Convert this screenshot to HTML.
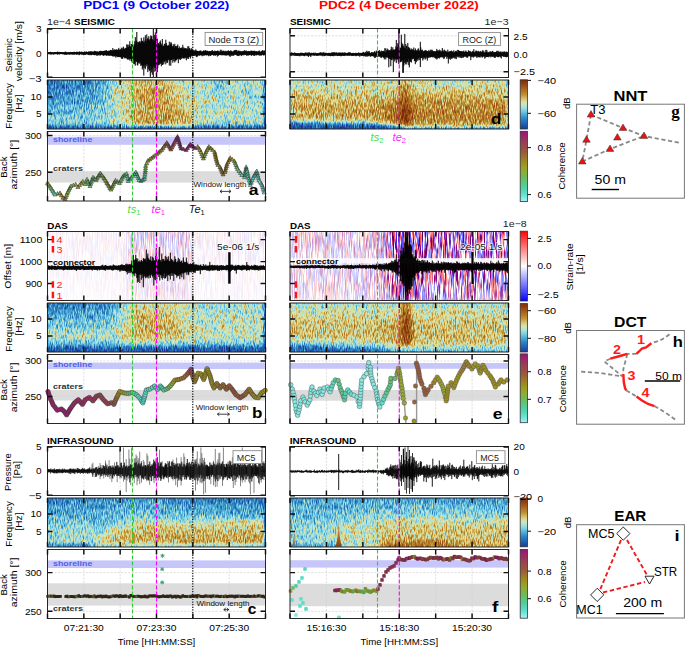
<!DOCTYPE html><html><head><meta charset="utf-8"><style>html,body{margin:0;padding:0;background:#fff;width:685px;height:647px;overflow:hidden}svg{display:block}text{font-family:"Liberation Sans",sans-serif}</style></head><body><svg width="685" height="647" viewBox="0 0 685 647" font-family='"Liberation Sans", sans-serif'><defs><linearGradient id="groma" x1="0" y1="0" x2="0" y2="1"><stop offset="0" stop-color="#7f2a08"/><stop offset="0.05" stop-color="#8a390f"/><stop offset="0.1" stop-color="#954915"/><stop offset="0.15" stop-color="#a0581c"/><stop offset="0.2" stop-color="#ab6b23"/><stop offset="0.25" stop-color="#b57d29"/><stop offset="0.3" stop-color="#c09030"/><stop offset="0.35" stop-color="#ccac54"/><stop offset="0.4" stop-color="#d8c878"/><stop offset="0.45" stop-color="#d8dfa0"/><stop offset="0.5" stop-color="#c9e5bf"/><stop offset="0.55" stop-color="#b0e0d8"/><stop offset="0.6" stop-color="#8ed5de"/><stop offset="0.65" stop-color="#6ec4dd"/><stop offset="0.7" stop-color="#50b0d8"/><stop offset="0.75" stop-color="#4098cc"/><stop offset="0.8" stop-color="#3080c0"/><stop offset="0.85" stop-color="#2870b8"/><stop offset="0.9" stop-color="#2060b0"/><stop offset="0.95" stop-color="#1d4da4"/><stop offset="1" stop-color="#1a3a98"/></linearGradient><linearGradient id="ghaw" x1="0" y1="0" x2="0" y2="1"><stop offset="0" stop-color="#9a1478"/><stop offset="0.07" stop-color="#9a2669"/><stop offset="0.14" stop-color="#9a385a"/><stop offset="0.21" stop-color="#9a484b"/><stop offset="0.29" stop-color="#9a573d"/><stop offset="0.36" stop-color="#9c6f2f"/><stop offset="0.43" stop-color="#9f8820"/><stop offset="0.5" stop-color="#9c9c26"/><stop offset="0.57" stop-color="#8fab37"/><stop offset="0.64" stop-color="#73b74e"/><stop offset="0.71" stop-color="#62c276"/><stop offset="0.79" stop-color="#53cea0"/><stop offset="0.86" stop-color="#59d9bf"/><stop offset="0.93" stop-color="#75e6db"/><stop offset="1" stop-color="#a8f4f8"/></linearGradient><linearGradient id="gbwr" x1="0" y1="0" x2="0" y2="1"><stop offset="0" stop-color="#ff0000"/><stop offset="0.12" stop-color="#ff4040"/><stop offset="0.25" stop-color="#ff8080"/><stop offset="0.38" stop-color="#ffbfbf"/><stop offset="0.5" stop-color="#ffffff"/><stop offset="0.62" stop-color="#bfbfff"/><stop offset="0.75" stop-color="#8080ff"/><stop offset="0.88" stop-color="#4040ff"/><stop offset="1" stop-color="#0000ff"/></linearGradient><filter id="fspec" x="0" y="0" width="1" height="1" color-interpolation-filters="sRGB"><feGaussianBlur in="SourceGraphic" stdDeviation="1.3 1.0" result="b"/><feTurbulence type="fractalNoise" baseFrequency="1.1 0.2" numOctaves="2" seed="7" result="n"/><feColorMatrix in="n" type="matrix" values="1 0 0 0 0 1 0 0 0 0 1 0 0 0 0 0 0 0 0 1" result="ng"/><feComposite in="b" in2="ng" operator="arithmetic" k1="0" k2="1" k3="0.7" k4="-0.35" result="t"/><feComponentTransfer in="t"><feFuncR type="table" tableValues="0.102 0.109 0.117 0.124 0.141 0.161 0.18 0.212 0.251 0.29 0.343 0.417 0.49 0.573 0.657 0.727 0.788 0.847 0.847 0.847 0.824 0.794 0.765 0.737 0.711 0.685 0.659 0.633 0.606 0.579 0.552 0.525 0.498"/><feFuncG type="table" tableValues="0.227 0.274 0.321 0.367 0.408 0.447 0.486 0.537 0.596 0.655 0.71 0.759 0.808 0.839 0.867 0.886 0.898 0.908 0.852 0.796 0.729 0.661 0.592 0.537 0.492 0.446 0.4 0.354 0.315 0.277 0.24 0.202 0.165"/><feFuncB type="table" tableValues="0.596 0.625 0.655 0.684 0.706 0.725 0.745 0.771 0.8 0.829 0.852 0.864 0.876 0.867 0.853 0.81 0.749 0.686 0.588 0.49 0.4 0.312 0.224 0.178 0.162 0.146 0.129 0.113 0.097 0.08 0.064 0.048 0.031"/></feComponentTransfer></filter><clipPath id="cspec"><rect x="47.5" y="80" width="218" height="49"/><rect x="47.5" y="303" width="218" height="49"/><rect x="47.5" y="498" width="218" height="49"/><rect x="290" y="80" width="218.5" height="49"/><rect x="290" y="303" width="218.5" height="49"/><rect x="290" y="498" width="218.5" height="49"/></clipPath><linearGradient id="gfl" x1="0" y1="0" x2="0" y2="1"><stop offset="0" stop-color="#d8c070" stop-opacity="0"/><stop offset=".25" stop-color="#c89a48"/><stop offset=".7" stop-color="#a8641e"/><stop offset="1" stop-color="#8a4010"/></linearGradient><filter id="fdas" x="0" y="0" width="1" height="1" color-interpolation-filters="sRGB"><feTurbulence type="fractalNoise" baseFrequency="1.1 0.06" numOctaves="2" seed="11" result="n"/><feColorMatrix in="n" type="matrix" values="6 0 0 0 -2.6 0 6 0 0 -2.6 0 0 0 0 0 0 0 0 0 1" result="rb"/><feComposite in="SourceGraphic" in2="rb" operator="arithmetic" k1="1" k2="0" k3="0" k4="0" result="p"/><feColorMatrix in="p" type="matrix" values="0 -1 0 0 1 -1 -1 0 0 1 -1 0 0 0 1 0 0 0 0 1"/></filter><clipPath id="cdas"><rect x="47.5" y="231.5" width="218" height="69"/><rect x="290" y="231.5" width="218.5" height="69"/></clipPath></defs><rect width="685" height="647" fill="#fff"/><text x="83.2" y="8.9" font-size="11.64" font-weight="bold" fill="#0000ff" textLength="146.06" lengthAdjust="spacingAndGlyphs">PDC1 (9 October 2022)</text><text x="319" y="8.9" font-size="11.64" font-weight="bold" fill="#ff0000" textLength="159.77" lengthAdjust="spacingAndGlyphs">PDC2 (4 December 2022)</text><text x="47" y="24.7" font-size="9.06" fill="#222" textLength="23.99" lengthAdjust="spacingAndGlyphs">1e−4</text><text x="74" y="24.7" font-size="9.17" font-weight="bold" textLength="40.91" lengthAdjust="spacingAndGlyphs">SEISMIC</text><text x="289.9" y="24.9" font-size="9.17" font-weight="bold" textLength="40.91" lengthAdjust="spacingAndGlyphs">SEISMIC</text><text x="508.6" y="25" font-size="9.06" text-anchor="end" fill="#222" textLength="23.99" lengthAdjust="spacingAndGlyphs">1e−3</text><text x="47.2" y="229.3" font-size="9.17" font-weight="bold" textLength="20.69" lengthAdjust="spacingAndGlyphs">DAS</text><text x="289.9" y="229.3" font-size="9.17" font-weight="bold" textLength="20.69" lengthAdjust="spacingAndGlyphs">DAS</text><text x="47" y="443.9" font-size="9.17" font-weight="bold" textLength="66.62" lengthAdjust="spacingAndGlyphs">INFRASOUND</text><text x="289.7" y="443.9" font-size="9.17" font-weight="bold" textLength="66.62" lengthAdjust="spacingAndGlyphs">INFRASOUND</text><g clip-path="url(#cspec)"><g filter="url(#fspec)"><g stroke-width="3.45" fill="none"><path stroke="#282828" d="M44.5 78.5h3.5"/><path stroke="#2a2a2a" d="M47.5 78.5h6.5m-9.5 3h3.5"/><path stroke="#2c2c2c" d="M53.5 78.5h6.5m-12.5 3h6.5"/><path stroke="#2e2e2e" d="M59.5 78.5h6.5m-12.5 3h6.5m-15.5 3h6.5m-6.5 42h21.4"/><path stroke="#303030" d="M65.5 78.5h6.5m-12.5 3h6.5m-15.5 3h6.5m-12.5 3h3.5m17.5 39h54.5m77.5 0h66.5"/><path stroke="#323232" d="M71.5 78.5h3.5m-9.5 3h6.5m-15.5 3h6.5m-15.5 3h6.5m65.5 39h3.5"/><path stroke="#343434" d="M74.5 78.5h6.5m-9.5 3h6.5m-15.5 3h6.5m-15.5 3h6.5m-15.5 3h6.5"/><path stroke="#363636" d="M80.5 78.5h6.5m-9.5 3h6.5m-15.5 3h6.5m-15.5 3h6.5m-15.5 3h6.5m65.5 36h3.5m68.5 0h3.5"/><path stroke="#383838" d="M86.5 78.5h6.5m-9.5 3h6.5m-15.5 3h6.5m-15.5 3h6.5m-15.5 3h6.5m-18.5 3h9.4"/><path stroke="#3c3c3c" d="M92.5 78.5h3.5m-9.5 6h6.5m-12.5 3h6.5m-15.5 3h6.5m-18.5 3h9.4m-18.4 3h6.5m68.5 30h3.5"/><path stroke="#3e3e3e" d="M95.5 78.5h3.5m-6.5 3h3.5m-9.5 6h3.5m-12.5 3h6.5m-15.5 3h6.5m-18.5 3h9.4m-21.4 3h9.4"/><path stroke="#424242" d="M98.5 78.5h3.5m-3.5 3h3.5m-6.5 3h3.5m-6.5 3h3.5m-6.5 3h3.5m-12.5 3h6.5m-15.5 3h6.5m-15.5 3h6.5m59.5 27h3.5"/><path stroke="#484848" d="M101.5 78.5h3.5m-6.5 9h3.5m-6.5 3h3.5m-6.5 3h3.5m-6.5 3h3.5m-9.5 3h6.5m-27.5 3h6.5"/><path stroke="#505050" d="M104.5 78.5h3.5m-6.5 12h3.5m-6.5 6h3.5m-6.5 3h3.5m-27.5 6h9.4m-36.4 3h9.4"/><path stroke="#5e5e5e" d="M107.5 78.5h3.5m-3.5 3h3.5m107.5 3h3.5m-3.5 6h3.5m-120.5 15h3.5m-9.5 3h3.5m-18.5 6h9.4m-24.4 3h12.4m-24.4 3h12.4m-6.4 3h12.4"/><path stroke="#6a6a6a" d="M110.5 78.5h3.5m101.5 0h3.5m29.5 6h3.5m-30.5 9h3.5m20.5 3h6.5m-144.5 9h3.5m-6.5 9h3.5m-6.5 3h3.5m-6.5 3h9.4m8.6 3h3.5"/><path stroke="#767676" d="M113.5 78.5h3.5m110.5 0h3.5m8.5 0h3.5m11.5 0h3.5m-144.5 3h3.5m74.5 0h3.5m11.5 0h3.5m29.5 0h3.5m11.5 0h3.5m-144.5 3h3.5m89.5 0h3.5m44.5 0h3.5m-144.5 3h3.5m71.5 0h3.5m14.5 0h3.5m20.5 0h3.5m-120.5 3h3.5m89.5 0h3.5m-3.5 3h3.5m44.5 0h3.5m-48.5 3h3.5m14.5 0h3.5m23.5 0h3.5m-45.5 3h3.5m8.5 0h3.5m11.5 0h3.5m11.5 0h3.5m-39.5 3h3.5m20.5 3h3.5m5.5 0h3.5m-9.5 3h6.5m-141.5 3h3.5m-3.5 3h3.5m-3.5 6h3.5m107.5 0h42.5m-69.5 3h3.5"/><path stroke="#808080" d="M116.5 78.5h3.5m56.5 0h3.5m-63.5 3h3.5m59.5 0h3.5m-66.5 3h3.5m-3.5 3h3.5m-3.5 3h3.5m65.5 0h3.5m-72.5 3h3.5m-3.5 3h3.5m71.5 0h6.5m-81.5 3h3.5m74.5 0h3.5m-81.5 3h3.5m74.5 0h3.5m-81.5 3h3.5m74.5 0h3.5m-81.5 3h3.5m-3.5 3h3.5m-3.5 3h3.5m-3.5 3h3.5"/><path stroke="#828282" d="M119.5 78.5h6.5m47.5 0h3.5m-57.5 3h3.5m53.5 0h3.5m-.5 3h3.5m-.5 3h3.5m2.5 9h3.5m-.5 3h3.5m-.5 9h3.5m-3.5 3h3.5m-3.5 3h3.5m-3.5 3h3.5m-78.5 3h3.5m71.5 0h3.5m-72.5 3h3.5"/><path stroke="#848484" d="M125.5 78.5h3.5m41.5 0h3.5m-51.5 3h3.5m47.5 0h3.5m-57.5 3h3.5m62.5 9h3.5m2.5 9h3.5"/><path stroke="#868686" d="M128.5 78.5h3.5m-6.5 3h3.5m41.5 0h3.5m2.5 3h3.5m-60.5 3h3.5m56.5 0h3.5m-63.5 3h3.5m59.5 0h3.5m-66.5 3h3.5m-3.5 3h3.5m-3.5 3h3.5m65.5 0h3.5m-72.5 3h3.5m-3.5 3h3.5m-3.5 3h3.5m-3.5 3h3.5m-3.5 3h3.5m-3.5 3h3.5"/><path stroke="#8c8c8c" d="M131.5 78.5h3.5m32.5 3h3.5m-.5 3h3.5m-51.5 6h3.5m-3.5 3h3.5m53.5 0h3.5m-60.5 3h3.5m56.5 0h3.5m-63.5 3h3.5m-3.5 3h3.5m-3.5 3h3.5m-3.5 3h3.5m-3.5 3h3.5m65.5 0h3.5m-72.5 3h3.5m-3.5 3h3.5m2.5 6h3.5"/><path stroke="#929292" d="M134.5 78.5h3.5m26.5 3h3.5m-.5 3h3.5m-.5 3h3.5m-48.5 3h3.5m44.5 0h3.5m-51.5 3h3.5m47.5 0h3.5m-54.5 3h3.5m-3.5 3h3.5m-3.5 3h3.5m-3.5 3h3.5m56.5 0h3.5m-63.5 3h3.5m59.5 0h3.5m-66.5 3h3.5m-3.5 3h3.5m-3.5 3h3.5m62.5 3h3.5"/><path stroke="#949494" d="M137.5 78.5h3.5m20.5 0h3.5m-30.5 3h3.5m-9.5 6h3.5m44.5 9h3.5m-.5 3h3.5m-.5 3h3.5"/><path stroke="#969696" d="M140.5 78.5h3.5m-6.5 3h3.5m-9.5 3h3.5m38.5 9h3.5m2.5 9h3.5m-.5 3h3.5m-.5 3h3.5m-.5 3h3.5m-63.5 9h3.5"/><path stroke="#989898" d="M143.5 78.5h3.5m-6.5 3h3.5m17.5 0h3.5m-.5 3h3.5m-.5 3h3.5m-42.5 3h3.5m38.5 0h3.5m-45.5 3h3.5m-3.5 3h3.5m41.5 0h3.5m-48.5 3h3.5m44.5 0h3.5m-51.5 3h3.5m-3.5 3h3.5m-3.5 3h3.5m-3.5 3h3.5m-3.5 3h3.5m-3.5 3h3.5m-.5 6h3.5"/><path stroke="#9a9a9a" d="M146.5 78.5h3.5m2.5 0h9.4m-18.4 3h3.5m-12.5 3h3.5m-6.5 3h3.5m35.5 6h3.5m2.5 9h3.5m-.5 3h3.5m-.5 3h3.5m-.5 3h3.5m-.5 3h3.5"/><path stroke="#9c9c9c" d="M149.5 78.5h3.5m-6.5 3h3.5m8.5 0h3.5m-24.5 3h3.5m29.5 12h3.5m-.5 3h3.5"/><path stroke="#8e8e8e" d="M164.5 78.5h3.5m-39.5 6h3.5m-6.5 3h3.5m44.5 0h3.5m-.5 3h3.5m5.5 12h3.5m-.5 3h3.5m-.5 9h3.5"/><path stroke="#8a8a8a" d="M167.5 78.5h3.5m-45.5 6h3.5m44.5 0h3.5m-54.5 3h3.5m50.5 0h3.5m-.5 3h3.5m2.5 9h3.5m-.5 3h3.5m-.5 6h3.5m-72.5 12h3.5m65.5 3h3.5"/><path stroke="#7e7e7e" d="M179.5 78.5h3.5m-.5 6h3.5m8.5 3h3.5m-3.5 3h3.5m-9.5 3h9.4"/><path stroke="#787878" d="M182.5 78.5h3.5m20.5 0h3.5m20.5 0h9.4m17.6 0h6.5m-33.5 3h9.4m17.6 0h6.5m-78.5 3h3.5m2.5 0h3.5m8.5 0h3.5m23.5 0h9.4m17.6 0h6.5m-60.5 3h3.5m26.5 0h6.5m17.5 0h6.5m-60.5 3h3.5m23.5 0h9.4m17.6 0h6.5m-150.5 3h3.5m113.5 0h9.4m17.6 0h6.5m-150.5 3h3.5m89.5 0h3.5m20.5 0h9.4m17.6 0h6.5m-150.5 3h3.5m92.5 0h3.5m14.5 0h12.4m17.6 0h6.5m-150.5 3h3.5m92.5 0h9.4m2.6 0h21.4m11.6 0h9.4m-48.4 3h12.4m5.6 0h9.4m11.6 0h9.4m-27.4 3h9.4m5.6 0h12.4m-27.4 3h27.4m-27.4 3h27.4m-153.4 3h3.5m119.5 0h30.4m-63.4 3h21.4m-99.4 3h3.5"/><path stroke="#727272" d="M185.5 78.5h3.5m35.5 0h3.5m14.5 0h3.5m5.5 0h3.5m-45.5 3h3.5m38.5 0h3.5m-66.5 3h3.5m35.5 3h3.5m-21.5 6h3.5m-.5 3h3.5m26.5 3h3.5m5.5 0h3.5m-144.5 3h3.5m131.5 0h6.5m-144.5 15h3.5"/><path stroke="#6c6c6c" d="M188.5 78.5h3.5m29.5 0h3.5m-114.5 3h3.5m98.5 0h3.5m29.5 0h6.5m-141.5 3h3.5m110.5 0h3.5m-117.5 3h3.5m110.5 0h3.5m14.5 0h3.5m-21.5 3h3.5m14.5 0h3.5m-33.5 3h3.5m26.5 0h3.5m-141.5 24h3.5"/><path stroke="#747474" d="M191.5 78.5h3.5m14.5 0h3.5m-27.5 3h3.5m38.5 0h3.5m-3.5 3h3.5m8.5 0h3.5m-3.5 3h3.5m11.5 0h3.5m-30.5 3h3.5m8.5 0h3.5m11.5 0h3.5m-30.5 3h3.5m8.5 0h3.5m-18.5 3h3.5m11.5 0h3.5m-27.5 3h9.4m17.6 3h3.5m5.5 0h3.5m-144.5 3h3.5m131.5 0h6.5m-141.5 3h3.5"/><path stroke="#7c7c7c" d="M194.5 78.5h6.5m-6.5 3h6.5m-6.5 3h6.5m-15.5 3h3.5m8.5 0h3.5m-9.5 3h3.5m2.5 0h3.5m-3.5 3h3.5m-3.5 3h3.5m-3.5 3h3.5m-3.5 3h3.5m-3.5 3h3.5m-3.5 3h3.5m-87.5 3h3.5m80.5 0h3.5m-87.5 3h3.5m80.5 0h3.5m-87.5 3h3.5m80.5 0h3.5m-84.5 3h3.5"/><path stroke="#7a7a7a" d="M200.5 78.5h6.5m-24.5 3h3.5m14.5 0h6.5m-6.5 3h3.5m-12.5 3h3.5m5.5 0h3.5m-15.5 3h3.5m8.5 0h3.5m-3.5 3h6.5m-6.5 3h6.5m-6.5 3h9.4m-9.4 3h9.4m-96.4 3h3.5m83.5 0h15.4m11.6 0h6.5m-120.5 3h3.5m83.5 0h36.5m-36.5 3h36.5m-36.5 3h36.5m-36.5 3h33.5m-120.5 3h3.5m80.5 0h3.5"/><path stroke="#6e6e6e" d="M212.5 78.5h3.5m29.5 0h6.5m-63.5 3h3.5m50.5 3h3.5m-36.5 3h3.5m38.5 0h3.5m-144.5 3h3.5m137.5 0h3.5m-144.5 3h3.5m101.5 3h6.5m20.5 0h3.5m-.5 3h6.5m-144.5 9h3.5m-3.5 3h3.5m8.5 12h3.5"/><path stroke="#686868" d="M218.5 78.5h3.5m-.5 3h3.5m20.5 3h3.5m-36.5 6h3.5m32.5 3h3.5m-144.5 9h3.5m-6.5 9h3.5m-9.5 6h3.5m-6.5 3h3.5m14.5 3h3.5m80.5 0h51.5"/><path stroke="#1e1e1e" d="M263.5 78.5h6m-6 3h6m-6 3h6m-6 3h6m-6 3h6m-6 3h6m-6 3h6m-6 3h6m-6 3h6m-6 3h6m-6 3h6m-6 3h6m-6 3h6m-6 3h6m-6 3h6m-6 3h6m-6 3h6m-6 3h6m-6 3h6"/><path stroke="#3a3a3a" d="M89.5 81.5h3.5m-12.5 3h6.5m-15.5 3h9.4m-18.4 3h9.4m-18.4 3h6.5m-15.5 3h6.5"/><path stroke="#404040" d="M95.5 81.5h3.5m-6.5 3h3.5m-6.5 3h3.5m-9.5 3h6.5m-15.5 3h6.5m-15.5 3h6.5m-18.5 3h9.4m128.6 27h3.5"/><path stroke="#4a4a4a" d="M101.5 81.5h3.5m-6.5 9h3.5m-6.5 3h3.5m-6.5 3h3.5m-6.5 3h3.5m-24.5 3h9.4m-33.4 3h9.4m80.6 21h57.5"/><path stroke="#525252" d="M104.5 81.5h3.5m-6.5 12h3.5m-6.5 6h3.5m-9.5 3h3.5m-15.5 3h9.4m-36.4 3h9.4"/><path stroke="#888888" d="M128.5 81.5h3.5m-9.5 3h3.5m56.5 9h3.5m-.5 3h3.5m2.5 9h3.5"/><path stroke="#909090" d="M131.5 81.5h3.5m44.5 15h3.5m-.5 3h3.5m5.5 18h3.5m-69.5 3h3.5"/><path stroke="#9e9e9e" d="M149.5 81.5h9.4m-18.4 3h3.5m17.5 0h3.5m-.5 3h3.5m-36.5 3h3.5m32.5 0h3.5m-39.5 3h3.5m-3.5 3h3.5m-3.5 3h3.5m-3.5 3h3.5m38.5 0h3.5m-45.5 3h3.5m41.5 0h3.5m-48.5 3h3.5m44.5 0h3.5m-51.5 3h3.5m47.5 0h3.5m-54.5 3h3.5m50.5 0h3.5m-57.5 3h3.5m53.5 0h3.5m-60.5 3h3.5m-.5 3h3.5m50.5 0h3.5"/><path stroke="#666666" d="M215.5 81.5h3.5m-6.5 3h3.5m-3.5 3h3.5m29.5 0h6.5m-3.5 3h3.5m-36.5 3h6.5m23.5 0h3.5m-141.5 6h3.5m-6.5 9h3.5m-9.5 6h6.5m-9.5 3h3.5m-6.5 3h3.5m11.5 3h6.5m134.5 0h15.4"/><path stroke="#646464" d="M218.5 81.5h3.5m-.5 3h3.5m-3.5 6h3.5m20.5 0h3.5m-141.5 3h3.5m-3.5 3h3.5m-12.5 15h6.5m-9.5 3h3.5m-6.5 3h3.5m-6.5 3h3.5m11.5 3h3.5"/><path stroke="#707070" d="M224.5 81.5h3.5m14.5 0h3.5m-36.5 3h3.5m38.5 0h3.5m-45.5 6h3.5m11.5 3h3.5m23.5 0h3.5m-144.5 3h3.5m107.5 0h3.5m26.5 0h3.5m-144.5 3h3.5m-6.5 15h3.5m-3.5 6h3.5"/><path stroke="#464646" d="M98.5 84.5h3.5m-6.5 3h3.5m-12.5 9h3.5m-15.5 3h9.4m-30.4 3h9.4m68.6 24h3.5"/><path stroke="#4c4c4c" d="M101.5 84.5h3.5m-6.5 9h3.5m-6.5 3h3.5m-6.5 3h3.5m-18.5 3h9.4m-33.4 3h9.4"/><path stroke="#545454" d="M104.5 84.5h3.5m-6.5 12h3.5m-9.5 6h3.5m-9.5 3h3.5m-30.5 3h9.4m-27.4 3h9.4"/><path stroke="#606060" d="M107.5 84.5h3.5m104.5 0h3.5m-111.5 3h3.5m104.5 3h3.5m-114.5 12h3.5m-9.5 6h3.5m-9.5 3h3.5m-6.5 3h3.5m-15.5 3h12.4m-24.4 3h15.4m-9.4 3h21.4"/><path stroke="#a0a0a0" d="M143.5 84.5h3.5m-12.5 3h3.5m29.5 6h3.5m-.5 6h3.5m-36.5 24h12.4m5.6 0h6.5m20.5 0h6.5"/><path stroke="#a2a2a2" d="M146.5 84.5h3.5m5.5 0h6.5m-24.5 3h3.5m26.5 9h3.5m-.5 6h3.5m-.5 3h3.5m-.5 3h3.5m-.5 3h3.5m-.5 3h3.5m-.5 3h3.5m-.5 3h3.5m-42.5 3h6.5m5.5 0h3.5m11.5 0h6.5"/><path stroke="#a4a4a4" d="M149.5 84.5h6.5m-15.5 3h3.5m17.5 0h3.5m-30.5 3h3.5m26.5 0h3.5m-33.5 3h3.5m-3.5 3h3.5m-3.5 3h3.5m29.5 0h3.5m-36.5 3h3.5m-3.5 3h3.5m-3.5 3h3.5m35.5 0h3.5m-42.5 3h3.5m38.5 0h3.5m-45.5 3h3.5m41.5 0h3.5m-48.5 3h3.5m44.5 0h3.5m-51.5 3h3.5m47.5 0h3.5m-24.5 3h12.4"/><path stroke="#4e4e4e" d="M101.5 87.5h3.5m-18.5 15h6.5m-30.5 3h9.4"/><path stroke="#565656" d="M104.5 87.5h3.5m-3.5 3h3.5m-6.5 9h3.5m-6.5 3h3.5m-9.5 3h3.5m-24.5 3h12.4m-30.4 3h9.4m-18.4 3h3.5"/><path stroke="#a6a6a6" d="M143.5 87.5h3.5m-9.5 3h3.5m-3.5 3h3.5m23.5 0h3.5m-30.5 3h3.5m23.5 0h3.5m-30.5 3h3.5m-3.5 3h3.5m26.5 0h3.5m-33.5 3h3.5m29.5 0h3.5m-36.5 3h3.5m-3.5 3h3.5m-3.5 3h3.5m-3.5 3h3.5m-3.5 3h6.5"/><path stroke="#a8a8a8" d="M146.5 87.5h3.5m2.5 0h9.4m-21.4 3h3.5m17.5 0h3.5m-24.5 3h3.5m-3.5 3h3.5m-3.5 3h3.5m20.5 0h3.5m-27.5 3h3.5m-3.5 3h3.5m23.5 0h3.5m-30.5 3h3.5m26.5 0h3.5m-33.5 3h3.5m29.5 0h3.5m-36.5 3h3.5m32.5 0h3.5m-39.5 3h3.5m35.5 0h3.5m-39.5 3h3.5m35.5 0h3.5"/><path stroke="#aaaaaa" d="M149.5 87.5h3.5m-9.5 3h3.5m-3.5 3h3.5m14.5 0h3.5m-21.5 3h3.5m14.5 0h3.5m-21.5 3h3.5m14.5 0h3.5m-21.5 3h3.5m17.5 0h3.5m-24.5 3h3.5m-3.5 3h3.5m20.5 0h3.5m-27.5 3h3.5m23.5 0h3.5m-30.5 3h3.5m26.5 0h3.5m-33.5 3h3.5m29.5 0h3.5m-33.5 3h3.5m5.5 0h6.5m17.5 0h3.5"/><path stroke="#5c5c5c" d="M215.5 87.5h6.5m-117.5 12h3.5m-9.5 6h3.5m-9.5 3h3.5m-12.5 3h9.4m-24.4 3h12.4m-27.4 3h12.4m-21.4 3h9.4m-9.4 3h15.4"/><path stroke="#626262" d="M221.5 87.5h3.5m-117.5 3h3.5m-6.5 15h3.5m-6.5 3h3.5m-9.5 3h3.5m-6.5 3h3.5m-6.5 3h3.5m-12.5 3h9.4m2.6 3h12.4"/><path stroke="#444444" d="M92.5 90.5h3.5m-9.5 3h6.5m-15.5 3h9.4m-18.4 3h6.5m-30.5 3h9.4"/><path stroke="#acacac" d="M146.5 90.5h3.5m2.5 0h9.4m-15.4 3h3.5m2.5 0h9.4m-15.4 3h3.5m2.5 0h9.4m-15.4 3h3.5m2.5 0h9.4m-15.4 3h3.5m2.5 0h12.4m-18.4 3h3.5m2.5 0h15.4m-21.4 3h3.5m2.5 0h15.4m-21.4 3h3.5m2.5 0h9.4m5.6 0h3.5m-24.5 3h3.5m2.5 0h9.4m-15.4 3h3.5m2.5 0h9.4m-12.4 3h6.5m20.5 0h3.5"/><path stroke="#aeaeae" d="M149.5 90.5h3.5m-3.5 3h3.5m-3.5 3h3.5m-3.5 3h3.5m-3.5 3h3.5m-3.5 3h3.5m-3.5 3h3.5m-3.5 3h3.5m8.5 0h6.5m-18.5 3h3.5m8.5 0h3.5m2.5 0h6.5m-24.5 3h3.5m8.5 0h3.5m8.5 0h3.5m-15.5 3h3.5m8.5 0h3.5"/><path stroke="#585858" d="M104.5 93.5h3.5m-24.5 15h6.5m-27.5 3h12.4m-27.4 3h12.4"/><path stroke="#5a5a5a" d="M104.5 96.5h3.5m-6.5 6h3.5m-9.5 3h3.5m-9.5 3h3.5m-18.5 3h9.4m-24.4 3h9.4m-24.4 3h9.4"/><path stroke="#b0b0b0" d="M164.5 114.5h3.5m-3.5 3h9.4m-9.4 3h6.5"/><path stroke="#b2b2b2" d="M170.5 120.5h3.5"/><path stroke="#0e0e0e" d="M44.5 129.5h219.4m-219.4 3h219.4"/></g><g stroke-width="3.45" fill="none"><path stroke="#262626" d="M287 78.5h3.5m-3.5 3h3.5m-3.5 3h3.5m-3.5 3h3.5m-3.5 3h3.5m-3.5 3h3.5m-3.5 3h3.5m-3.5 3h3.5m-3.5 3h3.5m-3.5 3h3.5m-3.5 3h3.5m-3.5 3h3.5m-3.5 3h3.5m-3.5 3h3.5m-3.5 3h3.5m-3.5 3h3.5m-3.5 3h3.5m-3.5 3h3.5m113.5 0h3.5m-120.5 3h3.5m113.5 0h3.5"/><path stroke="#767676" d="M290 78.5h90.5"/><path stroke="#787878" d="M380 78.5h12.4m-12.4 45h3.5"/><path stroke="#7a7a7a" d="M392 78.5h3.5m20.5 0h90.5m-216.5 3h60.5m65.5 45h90.5"/><path stroke="#7e7e7e" d="M395 78.5h3.5m14.5 0h3.5m-27.5 3h6.5"/><path stroke="#8a8a8a" d="M398 78.5h3.5m8.5 3h3.5m-114.5 6h81.5m-60.5 33h6.5"/><path stroke="#989898" d="M401 78.5h3.5m-6.5 6h3.5m-18.5 9h6.5m-99.5 3h42.5m56.5 27h3.5"/><path stroke="#9e9e9e" d="M404 78.5h3.5m-6.5 3h3.5m11.5 12h3.5m-36.5 3h3.5m-78.5 3h42.5"/><path stroke="#949494" d="M407 78.5h3.5m-.5 6h3.5m-18.5 3h3.5m-9.5 3h3.5m-87.5 3h60.5m-6.5 27h6.5"/><path stroke="#868686" d="M410 78.5h3.5m-33.5 6h12.4m-90.4 36h9.4"/><path stroke="#5a5a5a" d="M506 78.5h6m-6 3h6m-6 3h6m-6 3h6m-6 3h6m-6 3h6m-6 3h6m-6 3h6m-6 3h6m-6 3h6m-6 3h6m-6 3h6m-6 3h6m-6 3h6m-6 3h6m-6 3h6m-6 3h6"/><path stroke="#7c7c7c" d="M350 81.5h39.5m14.5 45h3.5m5.5 0h3.5"/><path stroke="#848484" d="M395 81.5h3.5m-108.5 3h90.5m-84.5 36h6.5"/><path stroke="#8e8e8e" d="M398 81.5h3.5m-12.5 6h6.5m-105.5 3h48.5m-3.5 30h6.5"/><path stroke="#a4a4a4" d="M404 81.5h3.5m-.5 3h3.5m5.5 12h90.5m-123.5 3h3.5m-60.5 3h39.5m-75.5 15h6.5"/><path stroke="#9a9a9a" d="M407 81.5h3.5m-15.5 9h3.5m14.5 0h3.5m-27.5 3h3.5m-60.5 3h45.5"/><path stroke="#828282" d="M413 81.5h3.5m-126.5 39h6.5m86.5 3h3.5m20.5 3h3.5"/><path stroke="#808080" d="M416 81.5h90.5m-96.5 45h3.5"/><path stroke="#888888" d="M392 84.5h3.5m20.5 0h90.5m-216.5 3h9.4m11.6 33h9.4"/><path stroke="#8c8c8c" d="M395 84.5h3.5m14.5 0h3.5m-36.5 3h9.4m-63.4 33h9.4m50.6 3h3.5"/><path stroke="#a8a8a8" d="M401 84.5h3.5m-6.5 6h3.5m-6.5 6h3.5m-9.5 3h3.5m-15.5 3h3.5m-72.5 3h36.5m-54.5 3h12.4m-12.4 3h12.4m-12.4 3h15.4m11.6 3h21.4m38.6 3h3.5"/><path stroke="#aeaeae" d="M404 84.5h3.5m-9.5 9h3.5m11.5 6h3.5m-30.5 3h3.5m-12.5 3h3.5m-12.5 3h9.4m-9.4 3h6.5m-6.5 3h6.5m-3.5 3h3.5m5.5 3h3.5m11.5 3h3.5"/><path stroke="#a0a0a0" d="M398 87.5h3.5m11.5 6h3.5m-30.5 3h6.5m-42.5 3h27.4"/><path stroke="#b0b0b0" d="M401 87.5h3.5m5.5 9h3.5m5.5 6h87.5m-126.5 3h3.5m-6.5 3h3.5m-6.5 3h3.5m-3.5 3h3.5m-3.5 3h3.5"/><path stroke="#b6b6b6" d="M404 87.5h3.5m-9.5 9h3.5m-15.5 9h3.5m32.5 0h84.5m-126.5 9h3.5m-3.5 3h3.5m-.5 3h3.5m26.5 3h3.5"/><path stroke="#acacac" d="M407 87.5h3.5m-18.5 12h3.5m-12.5 3h3.5m-15.5 3h6.5m-42.5 3h33.5m-33.5 3h33.5m-30.5 3h30.4m-6.4 3h9.4"/><path stroke="#9c9c9c" d="M410 87.5h3.5m-21.5 6h3.5m23.5 0h87.5m-129.5 3h6.5m-93.5 3h18.4m62.6 21h3.5"/><path stroke="#929292" d="M413 87.5h3.5m-33.5 3h6.5m-99.5 3h15.4m44.6 27h9.4"/><path stroke="#909090" d="M416 87.5h90.5m-168.5 3h45.5m-42.5 30h9.4"/><path stroke="#969696" d="M392 90.5h3.5m20.5 0h90.5m-141.5 3h18.4m-18.4 27h6.5"/><path stroke="#b8b8b8" d="M401 90.5h3.5m5.5 9h3.5m2.5 6h6.5m-39.5 3h3.5m-3.5 3h3.5"/><path stroke="#bebebe" d="M404 90.5h3.5m-18.5 18h3.5m20.5 0h3.5m-3.5 3h3.5m-30.5 3h3.5m23.5 0h3.5m-3.5 6h3.5"/><path stroke="#b4b4b4" d="M407 90.5h3.5m-18.5 12h3.5m17.5 0h3.5m-33.5 3h3.5m-6.5 3h3.5m-3.5 3h3.5"/><path stroke="#a2a2a2" d="M410 90.5h3.5m-18.5 3h3.5m-6.5 3h3.5m-18.5 3h6.5m-93.5 3h36.5m47.5 18h3.5m14.5 3h3.5"/><path stroke="#c0c0c0" d="M401 93.5h3.5m-6.5 6h3.5m8.5 3h3.5m-24.5 9h3.5m-6.5 6h3.5m23.5 0h3.5m-18.5 6h3.5"/><path stroke="#c8c8c8" d="M404 93.5h3.5m-9.5 9h3.5m-6.5 6h3.5m-6.5 9h3.5"/><path stroke="#bababa" d="M407 93.5h3.5m-15.5 9h3.5m-9.5 3h3.5m23.5 3h90.5m-90.5 3h90.5m-123.5 3h3.5m32.5 0h87.5m-87.5 3h87.5m-90.5 3h90.5"/><path stroke="#aaaaaa" d="M410 93.5h3.5m2.5 6h90.5m-126.5 3h3.5m-39.5 3h27.4m-69.4 3h33.5m-33.5 3h33.5m-30.5 3h33.5m-.5 3h24.4"/><path stroke="#cacaca" d="M401 96.5h3.5m2.5 3h3.5m-.5 9h3.5m-18.5 3h3.5"/><path stroke="#d0d0d0" d="M404 96.5h3.5"/><path stroke="#c2c2c2" d="M407 96.5h3.5m-15.5 9h3.5m-6.5 3h3.5m-6.5 6h3.5m-3.5 6h3.5m17.5 3h3.5"/><path stroke="#a6a6a6" d="M413 96.5h3.5m-30.5 3h3.5m-24.5 3h12.4m-87.4 3h18.4m-12.4 12h21.4"/><path stroke="#b2b2b2" d="M395 99.5h3.5m-9.5 3h3.5m23.5 0h3.5m-42.5 9h3.5m-3.5 3h3.5m-3.5 3h3.5m35.5 6h90.5"/><path stroke="#d2d2d2" d="M401 99.5h3.5m2.5 3h3.5m-12.5 3h3.5"/><path stroke="#d8d8d8" d="M404 99.5h3.5m-9.5 12h3.5m-.5 12h3.5"/><path stroke="#dadada" d="M401 102.5h3.5m2.5 3h3.5m-12.5 9h3.5"/><path stroke="#e2e2e2" d="M404 102.5h3.5m-.5 9h3.5m-3.5 3h3.5m-6.5 9h3.5"/><path stroke="#bcbcbc" d="M392 105.5h3.5m17.5 0h3.5m-30.5 3h3.5m-3.5 3h3.5m26.5 3h3.5m-36.5 3h3.5m29.5 0h3.5m-33.5 3h3.5"/><path stroke="#e4e4e4" d="M401 105.5h3.5m2.5 12h3.5m-3.5 3h3.5"/><path stroke="#eaeaea" d="M404 105.5h3.5m-6.5 3h3.5"/><path stroke="#c6c6c6" d="M410 105.5h3.5m-21.5 9h3.5m-3.5 6h3.5"/><path stroke="#d6d6d6" d="M398 108.5h3.5m5.5 15h3.5"/><path stroke="#f0f0f0" d="M404 108.5h3.5m-6.5 9h3.5m-3.5 3h3.5"/><path stroke="#e0e0e0" d="M407 108.5h3.5"/><path stroke="#c4c4c4" d="M392 111.5h3.5m-6.5 6h3.5"/><path stroke="#ececec" d="M401 111.5h3.5"/><path stroke="#f2f2f2" d="M404 111.5h3.5"/><path stroke="#cccccc" d="M410 111.5h3.5m-18.5 3h3.5m11.5 0h3.5m-3.5 3h3.5m-18.5 3h3.5m11.5 0h3.5"/><path stroke="#eeeeee" d="M401 114.5h3.5"/><path stroke="#f4f4f4" d="M404 114.5h3.5"/><path stroke="#cecece" d="M395 117.5h3.5"/><path stroke="#dcdcdc" d="M398 117.5h3.5m-3.5 3h3.5"/><path stroke="#f6f6f6" d="M404 117.5h3.5m-3.5 3h3.5"/><path stroke="#343434" d="M290 123.5h3.5"/><path stroke="#363636" d="M293 123.5h6.5m86.5 3h3.5"/><path stroke="#383838" d="M299 123.5h3.5"/><path stroke="#3a3a3a" d="M302 123.5h6.5"/><path stroke="#3c3c3c" d="M308 123.5h6.5"/><path stroke="#3e3e3e" d="M314 123.5h6.5"/><path stroke="#404040" d="M320 123.5h3.5m65.5 3h3.5"/><path stroke="#424242" d="M323 123.5h6.5"/><path stroke="#444444" d="M329 123.5h3.5"/><path stroke="#464646" d="M332 123.5h6.5"/><path stroke="#484848" d="M338 123.5h6.5"/><path stroke="#4a4a4a" d="M344 123.5h3.5"/><path stroke="#4c4c4c" d="M347 123.5h6.5"/><path stroke="#4e4e4e" d="M353 123.5h6.5m32.5 3h3.5"/><path stroke="#505050" d="M359 123.5h3.5"/><path stroke="#525252" d="M362 123.5h6.5"/><path stroke="#545454" d="M368 123.5h3.5"/><path stroke="#5c5c5c" d="M371 123.5h3.5"/><path stroke="#666666" d="M374 123.5h3.5"/><path stroke="#707070" d="M377 123.5h3.5m20.5 3h3.5"/><path stroke="#121212" d="M290 126.5h15.4m-15.4 3h96.5m-96.5 3h96.5"/><path stroke="#141414" d="M305 126.5h63.5m17.5 3h6.5m-6.5 3h6.5"/><path stroke="#161616" d="M368 126.5h6.5m17.5 3h3.5m-3.5 3h3.5"/><path stroke="#1a1a1a" d="M374 126.5h3.5"/><path stroke="#1e1e1e" d="M377 126.5h3.5"/><path stroke="#242424" d="M380 126.5h3.5"/><path stroke="#2c2c2c" d="M383 126.5h3.5"/><path stroke="#585858" d="M395 126.5h3.5"/><path stroke="#646464" d="M398 126.5h3.5"/><path stroke="#181818" d="M395 129.5h3.5m-3.5 3h3.5"/><path stroke="#1c1c1c" d="M398 129.5h3.5m-3.5 3h3.5"/><path stroke="#202020" d="M401 129.5h3.5m-3.5 3h3.5"/><path stroke="#2e2e2e" d="M407 129.5h3.5m-3.5 3h3.5"/><path stroke="#323232" d="M410 129.5h3.5m-3.5 3h3.5"/><path stroke="#303030" d="M413 129.5h99m-99 3h99"/></g><g stroke-width="3.45" fill="none"><path stroke="#262626" d="M44.5 301.5h6.5"/><path stroke="#282828" d="M50.5 301.5h6.5"/><path stroke="#2a2a2a" d="M56.5 301.5h9.4m-21.4 3h6.5"/><path stroke="#2c2c2c" d="M65.5 301.5h6.5m-21.5 3h6.5"/><path stroke="#2e2e2e" d="M71.5 301.5h9.4m-24.4 3h9.4m-21.4 42h66.5"/><path stroke="#303030" d="M80.5 301.5h9.4m-24.4 3h9.4m35.6 42h9.4m74.6 0h69.5"/><path stroke="#323232" d="M89.5 301.5h9.4m-24.4 3h9.4m-39.4 3h6.5m68.5 39h9.4m50.6 0h15.4"/><path stroke="#343434" d="M98.5 301.5h9.4m-24.4 3h12.4m-45.4 3h9.4m68.6 39h51.5"/><path stroke="#363636" d="M107.5 301.5h3.5m-15.5 3h12.4m-48.4 3h9.4"/><path stroke="#404040" d="M110.5 301.5h3.5m-6.5 6h3.5m-39.5 3h15.4"/><path stroke="#484848" d="M113.5 301.5h3.5m-6.5 6h3.5m-33.5 6h27.4"/><path stroke="#525252" d="M116.5 301.5h3.5m-6.5 6h3.5m-9.5 9h3.5m-66.5 3h39.5"/><path stroke="#5c5c5c" d="M119.5 301.5h3.5m-15.5 21h3.5m2.5 21h3.5m77.5 0h69.5"/><path stroke="#646464" d="M122.5 301.5h3.5m-6.5 6h3.5m-78.5 21h63.5m17.5 15h3.5m50.5 0h3.5"/><path stroke="#6e6e6e" d="M125.5 301.5h3.5m-9.5 12h3.5m-6.5 6h3.5m-9.5 9h3.5m-69.5 3h63.5m2.5 9h3.5"/><path stroke="#787878" d="M128.5 301.5h3.5m56.5 0h3.5m-3.5 3h3.5m-.5 3h3.5m-72.5 6h3.5m68.5 0h3.5m-.5 3h66.5m-66.5 3h66.5m-78.5 21h3.5"/><path stroke="#808080" d="M131.5 301.5h3.5m44.5 3h3.5m-.5 3h3.5m-.5 3h3.5m-63.5 3h3.5m59.5 0h3.5m-.5 6h3.5m-3.5 3h3.5m-.5 6h3.5m-.5 3h66.5m-150.5 3h3.5m77.5 0h3.5m-6.5 3h3.5m-66.5 3h3.5m44.5 0h3.5"/><path stroke="#8a8a8a" d="M134.5 301.5h33.5m5.5 6h3.5m-.5 3h3.5m-.5 3h3.5m-.5 6h3.5m-60.5 3h3.5m56.5 3h3.5m-66.5 3h3.5m-6.5 6h3.5m62.5 0h3.5"/><path stroke="#888888" d="M167.5 301.5h3.5m-.5 3h3.5m-42.5 3h3.5m-6.5 6h3.5m50.5 3h3.5m-.5 6h3.5m-.5 6h3.5m-72.5 3h3.5m65.5 0h3.5m-3.5 3h3.5m-72.5 3h3.5m62.5 0h3.5"/><path stroke="#868686" d="M170.5 301.5h3.5m-.5 3h3.5m-.5 3h3.5m-.5 3h3.5m-.5 3h3.5m-60.5 6h3.5m56.5 0h3.5m-66.5 6h3.5m62.5 0h3.5m-.5 6h3.5m-78.5 3h3.5m14.5 6h36.5"/><path stroke="#848484" d="M173.5 301.5h3.5m-.5 3h3.5m-.5 3h3.5m-54.5 3h3.5m50.5 0h3.5m-60.5 6h3.5m56.5 0h3.5m-.5 6h3.5m-.5 6h3.5m-3.5 6h3.5m-78.5 3h3.5m68.5 0h3.5m-60.5 3h3.5m35.5 0h3.5"/><path stroke="#828282" d="M176.5 301.5h3.5m-48.5 3h3.5m50.5 9h3.5m-.5 3h3.5m-3.5 3h3.5m-69.5 3h3.5m65.5 3h3.5m-75.5 3h3.5m-6.5 3h3.5m74.5 0h3.5m-24.5 9h3.5"/><path stroke="#7e7e7e" d="M179.5 301.5h3.5m-.5 3h3.5m-57.5 3h3.5m53.5 0h3.5m2.5 9h3.5m-72.5 3h3.5m-6.5 6h3.5m71.5 0h3.5m-.5 3h66.5m-66.5 6h66.5m-150.5 3h3.5m8.5 3h3.5m50.5 0h3.5"/><path stroke="#7c7c7c" d="M182.5 301.5h3.5m2.5 9h3.5m-.5 3h3.5m-.5 6h3.5m-3.5 3h3.5m-.5 3h66.5m-147.5 3h3.5m-6.5 3h3.5m-6.5 3h3.5m80.5 3h3.5m-15.5 3h3.5"/><path stroke="#7a7a7a" d="M185.5 301.5h3.5m-60.5 3h3.5m53.5 0h3.5m-.5 3h3.5m-66.5 3h3.5m62.5 0h3.5m-72.5 6h3.5m68.5 0h3.5m-78.5 6h3.5m74.5 0h66.5m-153.5 15h3.5m83.5 0h66.5m-141.5 3h3.5"/><path stroke="#747474" d="M191.5 301.5h3.5m-.5 6h3.5m-.5 3h66.5m-150.5 18h3.5m-72.5 6h63.5m-63.5 3h63.5m8.5 3h3.5m71.5 0h3.5"/><path stroke="#727272" d="M194.5 301.5h3.5m-3.5 3h3.5m-.5 3h66.5m-141.5 3h3.5m-6.5 6h3.5m-6.5 6h3.5m74.5 18h3.5"/><path stroke="#707070" d="M197.5 301.5h66.5m-138.5 3h3.5m68.5 0h66.5m-150.5 21h3.5m-9.5 6h3.5m2.5 9h3.5m80.5 0h66.5"/><path stroke="#1e1e1e" d="M263.5 301.5h6m-6 3h6m-6 3h6m-6 3h6m-6 3h6m-6 3h6m-6 3h6m-6 3h6m-6 3h6m-6 3h6m-6 3h6m-6 3h6m-6 3h6m-6 3h6m-6 3h6m-6 3h6m-6 3h6m-6 3h6m-6 3h6"/><path stroke="#3a3a3a" d="M107.5 304.5h3.5m-30.5 3h12.4m-48.4 3h3.5"/><path stroke="#424242" d="M110.5 304.5h3.5m-27.5 6h21.4"/><path stroke="#4c4c4c" d="M113.5 304.5h3.5m-9.5 9h3.5m-60.5 3h27.4"/><path stroke="#545454" d="M116.5 304.5h3.5m-9.5 9h3.5m-30.5 6h24.4"/><path stroke="#5e5e5e" d="M119.5 304.5h3.5m-9.5 9h3.5m-6.5 6h3.5m-69.5 6h63.5m8.5 18h3.5m71.5 0h3.5"/><path stroke="#686868" d="M122.5 304.5h3.5m-15.5 21h3.5m17.5 18h3.5m35.5 0h3.5"/><path stroke="#8c8c8c" d="M134.5 304.5h36.5m-.5 3h3.5m-42.5 3h3.5m-6.5 6h3.5m47.5 0h3.5m-.5 6h3.5m-.5 6h3.5m-3.5 3h3.5m-6.5 6h3.5"/><path stroke="#767676" d="M191.5 304.5h3.5m-69.5 3h3.5m65.5 3h3.5m-.5 3h66.5m-144.5 6h3.5m-6.5 6h3.5m-9.5 6h3.5m-6.5 3h3.5m-3.5 3h3.5m8.5 3h3.5m65.5 0h3.5"/><path stroke="#383838" d="M68.5 307.5h12.4"/><path stroke="#3c3c3c" d="M92.5 307.5h15.4m-60.4 3h12.4"/><path stroke="#5a5a5a" d="M116.5 307.5h3.5m-9.5 9h3.5"/><path stroke="#6c6c6c" d="M122.5 307.5h3.5"/><path stroke="#909090" d="M134.5 307.5h36.5m-.5 3h3.5m-42.5 3h3.5m41.5 3h3.5m-.5 6h3.5m-57.5 6h3.5m53.5 0h3.5m-3.5 3h3.5m-6.5 6h3.5"/><path stroke="#3e3e3e" d="M59.5 310.5h12.4"/><path stroke="#464646" d="M107.5 310.5h3.5m-48.5 3h18.4"/><path stroke="#4e4e4e" d="M110.5 310.5h3.5m-36.5 6h30.4"/><path stroke="#585858" d="M113.5 310.5h3.5m-72.5 12h63.5m2.5 21h3.5"/><path stroke="#606060" d="M116.5 310.5h3.5m-12.5 15h3.5m8.5 18h3.5m62.5 0h6.5"/><path stroke="#6a6a6a" d="M119.5 310.5h3.5m-6.5 6h3.5m-6.5 6h3.5m-72.5 18h66.5m23.5 3h36.5"/><path stroke="#969696" d="M134.5 310.5h33.5m-36.5 9h3.5m38.5 0h3.5m-.5 6h3.5m-3.5 9h3.5"/><path stroke="#949494" d="M167.5 310.5h3.5m-.5 3h3.5m-42.5 3h3.5m38.5 0h3.5m-.5 6h3.5m-51.5 3h3.5m47.5 3h3.5m-3.5 3h3.5m-57.5 3h3.5m47.5 3h3.5"/><path stroke="#8e8e8e" d="M173.5 310.5h3.5m-.5 3h3.5m-51.5 6h3.5m47.5 0h3.5m-57.5 6h3.5m53.5 0h3.5m-63.5 6h3.5m-3.5 3h3.5m56.5 0h3.5m-63.5 3h3.5"/><path stroke="#444444" d="M44.5 313.5h18.4"/><path stroke="#666666" d="M116.5 313.5h3.5m-6.5 6h3.5m-9.5 9h3.5m17.5 15h3.5m41.5 0h6.5"/><path stroke="#9a9a9a" d="M134.5 313.5h33.5m-.5 3h3.5m-.5 3h3.5m-42.5 3h3.5m38.5 3h3.5m-3.5 9h3.5"/><path stroke="#989898" d="M167.5 313.5h3.5m-.5 3h3.5m-.5 6h3.5m-48.5 6h3.5m44.5 0h3.5m-51.5 3h3.5m44.5 0h3.5m-51.5 3h3.5m-3.5 3h3.5m41.5 0h3.5"/><path stroke="#929292" d="M173.5 313.5h3.5m-.5 6h3.5m-51.5 3h3.5m47.5 3h3.5m-57.5 6h3.5m50.5 3h3.5m-57.5 3h3.5"/><path stroke="#4a4a4a" d="M44.5 316.5h6.5"/><path stroke="#626262" d="M113.5 316.5h3.5m-6.5 6h3.5m8.5 21h3.5m56.5 0h3.5"/><path stroke="#9c9c9c" d="M134.5 316.5h33.5m2.5 6h3.5m-42.5 3h3.5m38.5 3h3.5m-3.5 3h3.5m-45.5 6h3.5m35.5 0h3.5"/><path stroke="#565656" d="M107.5 319.5h3.5m-66.5 24h66.5"/><path stroke="#9e9e9e" d="M134.5 319.5h36.5m-.5 6h3.5m-42.5 3h3.5m-3.5 3h3.5m35.5 0h3.5m-42.5 3h3.5m35.5 0h3.5"/><path stroke="#a2a2a2" d="M134.5 322.5h33.5m-.5 3h3.5m-3.5 6h3.5m-36.5 3h36.5m-36.5 3h33.5"/><path stroke="#a0a0a0" d="M167.5 322.5h3.5m-.5 6h3.5m-6.5 9h3.5"/><path stroke="#a4a4a4" d="M134.5 325.5h33.5m-.5 3h3.5m-36.5 3h33.5"/><path stroke="#a6a6a6" d="M134.5 328.5h33.5"/><path stroke="#181818" d="M44.5 349.5h219.4"/><path stroke="#141414" d="M44.5 352.5h219.4m-219.4 3h219.4"/></g><g stroke-width="3.45" fill="none"><path stroke="#707070" d="M287 301.5h105.5m26.5 0h87.5m-171.5 42h6.5"/><path stroke="#727272" d="M392 301.5h3.5m20.5 0h3.5m-78.5 42h6.5m38.5 3h3.5"/><path stroke="#787878" d="M395 301.5h3.5m17.5 3h3.5m-57.5 39h3.5"/><path stroke="#8c8c8c" d="M398 301.5h3.5m-48.5 39h6.5"/><path stroke="#b0b0b0" d="M401 301.5h3.5m5.5 15h3.5"/><path stroke="#c8c8c8" d="M404 301.5h3.5m-3.5 3h3.5m-.5 9h3.5"/><path stroke="#bcbcbc" d="M407 301.5h3.5m-3.5 3h3.5m-.5 21h3.5m-15.5 12h3.5m8.5 3h3.5"/><path stroke="#969696" d="M410 301.5h3.5m-15.5 6h3.5m-9.5 12h3.5m20.5 0h3.5m-99.5 18h21.4m35.6 3h3.5m26.5 6h3.5"/><path stroke="#7c7c7c" d="M413 301.5h3.5m-21.5 3h3.5m-105.5 36h9.4m68.6 3h6.5"/><path stroke="#6c6c6c" d="M506 301.5h6m-6 3h6m-6 3h6m-6 3h6m-6 3h6m-6 3h6m-6 3h6m-6 3h6m-6 3h6m-6 3h6m-6 3h6m-6 3h6m-6 3h6m-6 3h6m-195 3h6.5m182.5 0h6m-6 3h6m-111 3h9.4m74.6 0h27"/><path stroke="#767676" d="M287 304.5h108.5m23.5 0h87.5m-150.5 39h6.5m26.5 3h3.5"/><path stroke="#909090" d="M398 304.5h3.5m-9.5 12h3.5m20.5 0h3.5m-132.5 21h3.5m74.5 3h6.5"/><path stroke="#b2b2b2" d="M401 304.5h3.5m-6.5 18h3.5"/><path stroke="#9a9a9a" d="M410 304.5h3.5m-15.5 6h3.5m-6.5 9h3.5m-24.5 3h12.4m29.6 0h3.5m-132.5 12h57.5m14.5 3h15.4m5.6 3h3.5m35.5 0h87.5m-102.5 6h3.5"/><path stroke="#808080" d="M413 304.5h3.5m-.5 3h3.5m-111.5 33h9.4m77.6 6h3.5m44.5 0h57.5"/><path stroke="#7e7e7e" d="M287 307.5h108.5m23.5 0h87.5m-204.5 33h6.5m68.5 3h3.5m35.5 3h27.4"/><path stroke="#848484" d="M395 307.5h3.5m-111.5 3h108.5m23.5 0h87.5m-180.5 30h9.4"/><path stroke="#b4b4b4" d="M401 307.5h3.5m5.5 12h3.5"/><path stroke="#cacaca" d="M404 307.5h3.5m-6.5 12h3.5m2.5 24h3.5"/><path stroke="#bebebe" d="M407 307.5h3.5m-.5 21h3.5m-3.5 3h3.5m-3.5 3h3.5m-3.5 3h3.5"/><path stroke="#a0a0a0" d="M410 307.5h3.5m-15.5 6h3.5m-15.5 12h6.5m-9.5 3h3.5m-6.5 3h3.5m-3.5 3h3.5m-3.5 3h3.5"/><path stroke="#888888" d="M413 307.5h3.5m-129.5 6h105.5m26.5 0h87.5m-165.5 27h6.5m35.5 3h3.5m11.5 3h3.5"/><path stroke="#8a8a8a" d="M395 310.5h3.5m-6.5 3h3.5m20.5 0h3.5m-72.5 27h6.5m56.5 6h3.5"/><path stroke="#bababa" d="M401 310.5h3.5m5.5 12h3.5m-15.5 9h3.5m-3.5 3h3.5m-3.5 6h3.5"/><path stroke="#d0d0d0" d="M404 310.5h3.5m-6.5 12h3.5"/><path stroke="#c4c4c4" d="M407 310.5h3.5m-9.5 6h3.5m-3.5 27h3.5"/><path stroke="#a4a4a4" d="M410 310.5h3.5m-.5 12h3.5m-24.5 6h3.5m-9.5 3h6.5m-6.5 3h3.5m23.5 6h3.5"/><path stroke="#8e8e8e" d="M413 310.5h3.5m-21.5 3h3.5m-111.5 3h105.5m26.5 0h87.5m-147.5 24h6.5m20.5 3h3.5"/><path stroke="#868686" d="M416 310.5h3.5m-84.5 30h6.5"/><path stroke="#c0c0c0" d="M401 313.5h3.5"/><path stroke="#d4d4d4" d="M404 313.5h3.5m-.5 6h3.5m-9.5 6h3.5m-.5 18h3.5"/><path stroke="#aaaaaa" d="M410 313.5h3.5m-18.5 18h3.5m-3.5 3h3.5"/><path stroke="#929292" d="M413 313.5h3.5m-126.5 24h15.4m65.6 3h3.5"/><path stroke="#949494" d="M395 316.5h3.5m-111.5 3h105.5m26.5 0h87.5m-201.5 18h15.4m53.6 3h3.5m11.5 3h3.5m23.5 0h90.5m-105.5 3h3.5"/><path stroke="#a6a6a6" d="M398 316.5h3.5m-6.5 9h3.5m14.5 0h3.5m-3.5 3h3.5m-24.5 3h3.5m17.5 0h3.5m-27.5 3h6.5m17.5 0h3.5m-30.5 3h3.5m23.5 0h3.5m-27.5 3h3.5"/><path stroke="#dadada" d="M404 316.5h3.5m-.5 6h3.5m-3.5 18h3.5"/><path stroke="#cecece" d="M407 316.5h3.5"/><path stroke="#989898" d="M413 316.5h3.5m-129.5 6h87.5m44.5 0h87.5m-165.5 15h18.4m32.6 6h3.5"/><path stroke="#acacac" d="M398 319.5h3.5m-6.5 18h3.5m-3.5 3h3.5"/><path stroke="#e0e0e0" d="M404 319.5h3.5"/><path stroke="#9e9e9e" d="M413 319.5h3.5m-36.5 6h6.5m29.5 0h3.5m-42.5 3h6.5m32.5 0h3.5m-42.5 3h3.5m35.5 0h3.5m-42.5 3h3.5m35.5 0h3.5m-42.5 3h3.5m35.5 0h3.5m-36.5 3h3.5m8.5 3h3.5"/><path stroke="#9c9c9c" d="M386 322.5h9.4m-108.4 3h93.5m38.5 0h87.5m-219.5 3h90.5m41.5 0h87.5m-219.5 3h90.5m41.5 0h87.5m-162.5 3h33.5m41.5 0h87.5m-132.5 3h3.5m41.5 0h87.5m-90.5 3h3.5m-6.5 3h3.5"/><path stroke="#a2a2a2" d="M395 322.5h3.5m-6.5 3h3.5m-9.5 3h6.5m-9.5 3h3.5m-3.5 3h3.5m-3.5 3h3.5m-.5 3h3.5"/><path stroke="#e6e6e6" d="M404 322.5h3.5"/><path stroke="#b6b6b6" d="M398 325.5h3.5"/><path stroke="#e8e8e8" d="M404 325.5h3.5m-3.5 15h3.5"/><path stroke="#dcdcdc" d="M407 325.5h3.5m-3.5 3h3.5"/><path stroke="#a8a8a8" d="M395 328.5h3.5m-9.5 9h6.5m-3.5 3h3.5"/><path stroke="#b8b8b8" d="M398 328.5h3.5"/><path stroke="#d6d6d6" d="M401 328.5h3.5m-3.5 3h3.5m-3.5 3h3.5m-3.5 6h3.5"/><path stroke="#eaeaea" d="M404 328.5h3.5m-3.5 3h3.5m-3.5 3h3.5m-3.5 3h3.5"/><path stroke="#dedede" d="M407 331.5h3.5m-3.5 3h3.5m-3.5 3h3.5"/><path stroke="#d8d8d8" d="M401 337.5h3.5"/><path stroke="#7a7a7a" d="M287 340.5h6.5m71.5 3h6.5m20.5 3h3.5"/><path stroke="#828282" d="M317 340.5h9.4m53.6 3h3.5m29.5 3h3.5m83.5 0h6.5"/><path stroke="#646464" d="M287 343.5h9.4m74.6 3h3.5"/><path stroke="#666666" d="M296 343.5h6.5m71.5 3h3.5"/><path stroke="#686868" d="M302 343.5h6.5m68.5 3h3.5m17.5 3h3.5m11.5 0h24.4"/><path stroke="#6a6a6a" d="M308 343.5h9.4m62.6 3h3.5m26.5 3h3.5m23.5 0h48.5"/><path stroke="#6e6e6e" d="M323 343.5h12.4m47.6 3h3.5"/><path stroke="#747474" d="M347 343.5h9.4"/><path stroke="#aeaeae" d="M398 343.5h3.5m8.5 0h3.5"/><path stroke="#2e2e2e" d="M287 346.5h3.5m77.5 3h3.5m20.5 3h3.5m-3.5 3h3.5"/><path stroke="#303030" d="M290 346.5h6.5m74.5 3h3.5"/><path stroke="#323232" d="M296 346.5h6.5m71.5 3h3.5"/><path stroke="#343434" d="M302 346.5h3.5m71.5 3h3.5m14.5 3h3.5m-3.5 3h3.5"/><path stroke="#363636" d="M305 346.5h3.5"/><path stroke="#383838" d="M308 346.5h6.5m65.5 3h3.5"/><path stroke="#3a3a3a" d="M314 346.5h3.5"/><path stroke="#3c3c3c" d="M317 346.5h3.5m77.5 6h3.5m-3.5 3h3.5"/><path stroke="#3e3e3e" d="M320 346.5h3.5m77.5 6h24.4m-24.4 3h24.4"/><path stroke="#404040" d="M323 346.5h3.5m98.5 6h24.4m-24.4 3h24.4"/><path stroke="#424242" d="M326 346.5h3.5m53.5 3h3.5m62.5 3h21.4m-21.4 3h21.4"/><path stroke="#444444" d="M329 346.5h6.5m134.5 6h21.4m-21.4 3h21.4"/><path stroke="#464646" d="M335 346.5h3.5m152.5 6h21m-21 3h21"/><path stroke="#484848" d="M338 346.5h3.5"/><path stroke="#4c4c4c" d="M341 346.5h3.5"/><path stroke="#4e4e4e" d="M344 346.5h3.5"/><path stroke="#525252" d="M347 346.5h3.5"/><path stroke="#545454" d="M350 346.5h3.5m35.5 3h3.5"/><path stroke="#565656" d="M353 346.5h3.5"/><path stroke="#5a5a5a" d="M356 346.5h3.5"/><path stroke="#5c5c5c" d="M359 346.5h3.5m29.5 3h3.5"/><path stroke="#5e5e5e" d="M362 346.5h3.5"/><path stroke="#606060" d="M365 346.5h3.5"/><path stroke="#626262" d="M368 346.5h3.5m23.5 3h3.5"/><path stroke="#202020" d="M287 349.5h36.5m20.5 3h36.5m-36.5 3h36.5"/><path stroke="#222222" d="M323 349.5h18.4m38.6 3h3.5m-3.5 3h3.5"/><path stroke="#242424" d="M341 349.5h9.4m32.6 3h3.5m-3.5 3h3.5"/><path stroke="#262626" d="M350 349.5h6.5m29.5 3h3.5m-3.5 3h3.5"/><path stroke="#282828" d="M356 349.5h6.5m26.5 3h3.5m-3.5 3h3.5"/><path stroke="#2a2a2a" d="M362 349.5h3.5"/><path stroke="#2c2c2c" d="M365 349.5h3.5"/><path stroke="#4a4a4a" d="M386 349.5h3.5"/><path stroke="#1e1e1e" d="M287 352.5h57.5m-57.5 3h57.5"/></g><g stroke-width="3.45" fill="none"><path stroke="#2c2c2c" d="M44.5 496.5h18.4m146.6 0h27.4m-174.4 51h6.5m-6.5 3h6.5"/><path stroke="#2e2e2e" d="M62.5 496.5h21.4m101.6 0h24.4m26.6 3h27.4m-195.4 48h6.5m-6.5 3h6.5"/><path stroke="#303030" d="M83.5 496.5h18.4m62.6 0h21.4m-141.4 3h21.4m143.6 0h27.4m-162.4 48h6.5m-6.5 3h6.5"/><path stroke="#323232" d="M101.5 496.5h6.5m-42.5 3h18.4m101.6 0h24.4m-129.4 48h9.4m-9.4 3h9.4"/><path stroke="#343434" d="M107.5 496.5h6.5m47.5 0h3.5m-81.5 3h18.4m62.6 0h21.4"/><path stroke="#363636" d="M113.5 496.5h6.5m-18.5 3h6.5m128.5 3h27.4"/><path stroke="#383838" d="M119.5 496.5h6.5m-18.5 3h6.5m47.5 0h3.5m-120.5 3h21.4m146.6 0h24.4m-147.4 45h3.5m-3.5 3h3.5"/><path stroke="#3a3a3a" d="M125.5 496.5h27.4m-39.4 3h6.5m-54.5 3h21.4m98.6 0h27.4"/><path stroke="#3c3c3c" d="M152.5 496.5h3.5m-36.5 3h6.5m-39.5 3h15.4m62.6 0h21.4m-141.4 42h6.5"/><path stroke="#4c4c4c" d="M155.5 496.5h3.5m-39.5 9h6.5m-18.5 3h3.5m50.5 0h3.5m-63.5 3h6.5m62.5 0h30.4m-141.4 3h24.4m5.6 0h12.4"/><path stroke="#444444" d="M158.5 496.5h3.5m-42.5 6h6.5m-39.5 3h15.4m62.6 0h24.4m-144.4 3h12.4m173.6 0h27.4m-180.4 36h9.4"/><path stroke="#2a2a2a" d="M236.5 496.5h27.4m-210.4 51h9.4m-9.4 3h9.4"/><path stroke="#242424" d="M263.5 496.5h6m-6 3h6m-6 3h6m-6 3h6m-6 3h6m-6 3h6m-6 3h6m-6 3h6m-6 3h6m-6 3h6m-6 3h6m-6 3h6m-6 3h6m-6 3h6m-6 3h6m-6 3h6m-6 3h6m-6 3h6m-6 3h6"/><path stroke="#3e3e3e" d="M125.5 499.5h27.4m-51.4 3h6.5m131.5 3h24.4m-213.4 39h9.4"/><path stroke="#404040" d="M152.5 499.5h3.5m-48.5 3h6.5m47.5 0h3.5m-120.5 3h21.4m149.6 0h24.4m-180.4 39h9.4"/><path stroke="#505050" d="M155.5 499.5h3.5m-6.5 6h3.5m-39.5 3h6.5m-12.5 3h6.5m44.5 0h3.5m-60.5 3h6.5m98.5 0h33.5m-192.5 3h24.4m14.6 0h3.5m8.5 0h3.5m-9.5 3h3.5"/><path stroke="#484848" d="M158.5 499.5h3.5m-9.5 3h3.5m-48.5 3h6.5m47.5 0h3.5m-87.5 3h24.4m74.6 0h27.4m-150.4 3h21.4m155.6 0h27.4"/><path stroke="#424242" d="M113.5 502.5h6.5m-54.5 3h21.4m101.6 0h27.4m41.6 3h6.5m-195.5 36h9.4"/><path stroke="#464646" d="M125.5 502.5h27.4m-51.4 3h6.5m-51.5 3h21.4m125.6 0h27.4m-186.4 3h9.4m203.6 0h6.5m-177.5 33h3.5m2.5 3h3.5m-3.5 3h3.5"/><path stroke="#545454" d="M155.5 502.5h3.5m-.5 3h3.5m-33.5 3h27.4m-33.4 3h6.5m-12.5 3h3.5m44.5 0h12.4m-66.4 3h3.5m-12.5 3h3.5m-12.5 3h6.5m-6.5 21h3.5m-.5 3h3.5m-3.5 3h3.5"/><path stroke="#4e4e4e" d="M158.5 502.5h3.5m-36.5 3h27.4m-42.4 3h6.5m-9.5 3h3.5m53.5 0h6.5m-87.5 3h6.5m11.5 0h3.5m137.5 0h21.4m-219.4 3h6.5m41.5 0h9.4"/><path stroke="#4a4a4a" d="M113.5 505.5h6.5m-18.5 3h6.5m56.5 0h12.4m-102.4 3h27.4m98.6 0h30.4m-186.4 3h15.4m29.6 30h3.5"/><path stroke="#5a5a5a" d="M155.5 505.5h3.5m-30.5 9h6.5m-15.5 3h3.5m-39.5 3h6.5m20.5 0h3.5m-9.5 3h3.5m-15.5 3h6.5"/><path stroke="#525252" d="M122.5 508.5h6.5m-12.5 3h6.5m-12.5 3h6.5m59.5 0h33.5m-135.5 3h15.4m14.6 0h6.5m-18.5 3h3.5m2.5 0h3.5"/><path stroke="#5c5c5c" d="M155.5 508.5h3.5m-3.5 3h3.5m-24.5 3h21.4m2.6 0h3.5m-39.5 3h3.5m89.5 0h48.5m-150.5 3h3.5m-18.5 6h3.5"/><path stroke="#565656" d="M158.5 508.5h3.5m-33.5 3h9.4m11.6 0h6.5m-36.5 3h6.5m35.5 0h3.5m-51.5 3h3.5m-72.5 3h15.4m29.6 0h3.5m11.5 0h3.5m-9.5 3h3.5"/><path stroke="#585858" d="M137.5 511.5h12.4m8.6 0h3.5m-36.5 3h3.5m-12.5 3h3.5m-60.5 3h24.4m23.6 0h3.5m-9.5 3h3.5"/><path stroke="#606060" d="M155.5 514.5h3.5m-30.5 3h3.5m29.5 0h6.5m-117.5 6h27.4m23.6 3h3.5m-9.5 18h3.5"/><path stroke="#5e5e5e" d="M125.5 517.5h3.5m38.5 0h48.5m-99.5 3h3.5m-75.5 3h6.5m38.5 0h3.5m14.5 0h3.5"/><path stroke="#626262" d="M131.5 517.5h3.5m-15.5 3h3.5m-45.5 3h12.4m20.6 0h3.5m-21.5 6h6.5m-.5 18h54.5m-54.5 3h54.5"/><path stroke="#646464" d="M134.5 517.5h3.5m20.5 0h3.5m-39.5 3h3.5m-21.5 6h3.5m44.5 21h66.5m-66.5 3h66.5"/><path stroke="#666666" d="M137.5 517.5h21.4m-114.4 9h27.4m17.6 0h3.5m5.5 3h3.5m116.5 18h45.5m-45.5 3h45.5"/><path stroke="#686868" d="M125.5 520.5h3.5m-15.5 3h3.5m-45.5 3h18.4m-45.4 3h3.5"/><path stroke="#6c6c6c" d="M128.5 520.5h3.5m-51.5 9h12.4m8.6 0h3.5m-45.5 3h30.4m2.6 0h6.5m-48.5 3h33.5m-39.5 3h36.5m-21.5 3h30.4m11.6 3h3.5"/><path stroke="#6e6e6e" d="M131.5 520.5h3.5m-15.5 3h3.5m-33.5 9h3.5m-9.5 3h9.4m-12.4 3h9.4m-.4 3h3.5m11.5 3h3.5"/><path stroke="#727272" d="M134.5 520.5h3.5m23.5 0h12.4m-51.4 3h3.5m-21.5 6h3.5m-9.5 3h3.5m8.5 12h3.5"/><path stroke="#767676" d="M137.5 520.5h21.4m-33.4 3h3.5m-15.5 3h3.5m-.5 18h9.4"/><path stroke="#747474" d="M158.5 520.5h3.5m-66.5 15h3.5m-6.5 3h3.5m-3.5 3h3.5m17.5 3h3.5"/><path stroke="#707070" d="M173.5 520.5h90.5m-153.5 6h3.5m-21.5 9h3.5m-6.5 3h3.5m14.5 6h3.5"/><path stroke="#6a6a6a" d="M116.5 523.5h3.5m-12.5 3h3.5m-63.5 3h33.5m-36.5 3h15.4m-15.4 3h6.5m-6.5 6h15.4m38.6 3h3.5"/><path stroke="#7a7a7a" d="M128.5 523.5h3.5m-15.5 3h3.5m-21.5 9h3.5m35.5 9h75.5"/><path stroke="#7e7e7e" d="M131.5 523.5h3.5m-15.5 3h3.5m-12.5 3h3.5m-9.5 3h3.5m-6.5 3h3.5m-6.5 3h3.5m-3.5 3h3.5"/><path stroke="#828282" d="M134.5 523.5h3.5m-15.5 3h3.5m-24.5 12h3.5"/><path stroke="#868686" d="M137.5 523.5h3.5m14.5 0h24.4m-54.4 3h3.5"/><path stroke="#888888" d="M140.5 523.5h15.4m-39.4 6h3.5m-15.5 9h3.5"/><path stroke="#848484" d="M179.5 523.5h84.5m-150.5 6h3.5m-9.5 3h3.5m-6.5 3h3.5m-6.5 6h3.5"/><path stroke="#8a8a8a" d="M128.5 526.5h3.5m-21.5 6h3.5m-6.5 3h3.5m-6.5 6h3.5"/><path stroke="#8c8c8c" d="M131.5 526.5h3.5m-15.5 3h3.5"/><path stroke="#909090" d="M134.5 526.5h3.5m-24.5 6h3.5m-6.5 3h3.5m-6.5 6h3.5"/><path stroke="#949494" d="M137.5 526.5h27.4m47.6 0h51.5m-135.5 3h3.5m-12.5 3h3.5m-12.5 6h3.5"/><path stroke="#929292" d="M164.5 526.5h48.5m-87.5 3h3.5m-12.5 3h3.5"/><path stroke="#787878" d="M107.5 529.5h3.5m-9.5 3h3.5m-9.5 6h3.5m-3.5 3h3.5m26.5 3h12.4"/><path stroke="#8e8e8e" d="M122.5 529.5h3.5m-18.5 9h3.5"/><path stroke="#969696" d="M131.5 529.5h3.5m-12.5 3h3.5m-12.5 3h3.5m-6.5 6h3.5"/><path stroke="#989898" d="M134.5 529.5h3.5m-12.5 3h3.5m-12.5 3h3.5"/><path stroke="#9c9c9c" d="M137.5 529.5h126.5m-132.5 3h3.5m-12.5 3h3.5m-9.5 3h3.5m-6.5 3h3.5"/><path stroke="#9a9a9a" d="M128.5 532.5h3.5m-12.5 3h3.5m-9.5 3h3.5"/><path stroke="#9e9e9e" d="M134.5 532.5h3.5m-12.5 3h3.5m-9.5 3h3.5m-6.5 3h3.5"/><path stroke="#a0a0a0" d="M137.5 532.5h3.5m11.5 0h111.5m-135.5 3h6.5m-12.5 3h6.5m-9.5 3h3.5"/><path stroke="#a2a2a2" d="M140.5 532.5h12.4m-18.4 3h3.5m-9.5 3h3.5m-9.5 3h6.5"/><path stroke="#a4a4a4" d="M137.5 535.5h126.5m-132.5 3h3.5m-6.5 3h3.5"/><path stroke="#a6a6a6" d="M134.5 538.5h6.5m-9.5 3h3.5"/><path stroke="#a8a8a8" d="M140.5 538.5h123.5m-129.5 3h6.5"/><path stroke="#aaaaaa" d="M140.5 541.5h123.5"/><path stroke="#7c7c7c" d="M212.5 544.5h51.5"/><path stroke="#262626" d="M44.5 547.5h3.5m-3.5 3h3.5"/><path stroke="#282828" d="M47.5 547.5h6.5m-6.5 3h6.5"/></g><g stroke-width="3.45" fill="none"><path stroke="#3e3e3e" d="M287 496.5h39.5m143.5 0h39.5"/><path stroke="#404040" d="M326 496.5h33.5m59.5 0h51.5m-183.5 3h12.4m206.6 0h3.5"/><path stroke="#424242" d="M359 496.5h60.5m-120.5 3h36.5m119.5 0h51.5m-219.5 48h45.5m-45.5 3h45.5"/><path stroke="#4c4c4c" d="M509 496.5h3m-3 3h3m-159 3h27.4m2.6 0h51.5m74.5 0h3m-3 3h3m-3 3h3m-3 3h3m-3 3h3m-3 3h3m-3 3h3m-3 3h3m-3 3h3m-3 3h3m-3 3h3m-3 3h3m-3 3h3m-3 3h3m-225 3h36.5m185.5 0h3m-3 3h3m-3 3h3"/><path stroke="#444444" d="M335 499.5h33.5m35.5 0h51.5"/><path stroke="#464646" d="M368 499.5h36.5"/><path stroke="#484848" d="M287 502.5h33.5m164.5 0h24.4m-177.4 45h3.5m-3.5 3h3.5"/><path stroke="#4a4a4a" d="M320 502.5h33.5m80.5 0h51.5"/><path stroke="#4e4e4e" d="M380 502.5h3.5m-96.5 3h24.4m11.6 39h9.4"/><path stroke="#505050" d="M311 505.5h33.5m125.5 0h39.5m-222.5 3h27.4"/><path stroke="#525252" d="M344 505.5h24.4m50.6 0h51.5m-156.5 3h30.4m-57.4 3h27.4m17.6 33h3.5"/><path stroke="#545454" d="M368 505.5h51.5m-75.5 3h18.4m98.6 0h48.5m-195.5 3h27.4m-54.4 3h21.4m26.6 33h3.5m-3.5 3h3.5"/><path stroke="#565656" d="M362 508.5h15.4m29.6 0h54.5m-120.5 3h12.4m-45.4 3h24.4m-45.4 3h9.4"/><path stroke="#585858" d="M377 508.5h30.4m-54.4 3h12.4m-33.4 3h12.4m-48.4 3h21.4"/><path stroke="#5a5a5a" d="M365 511.5h12.4m80.6 0h51.5m-165.5 3h9.4m-36.4 3h15.4m-45.4 3h9.4"/><path stroke="#5c5c5c" d="M377 511.5h6.5m14.5 0h60.5m-105.5 3h6.5m-27.5 3h6.5m-42.5 3h15.4m23.6 24h3.5"/><path stroke="#5e5e5e" d="M383 511.5h15.4m-39.4 3h9.4m-30.4 3h6.5m-33.5 3h15.4"/><path stroke="#606060" d="M368 514.5h6.5m-30.5 3h6.5m-24.5 3h6.5m-45.5 3h15.4"/><path stroke="#626262" d="M374 514.5h3.5m-27.5 3h6.5m-24.5 3h6.5m-36.5 3h12.4m23.6 24h3.5m-3.5 3h3.5"/><path stroke="#646464" d="M377 514.5h3.5m71.5 0h57.5m-153.5 3h6.5m-24.5 3h3.5m-27.5 3h12.4m-39.4 3h9.4"/><path stroke="#666666" d="M380 514.5h72.5m-90.5 3h3.5m-24.5 3h3.5m-18.5 3h6.5m-36.5 3h12.4m-21.4 15h9.4"/><path stroke="#686868" d="M365 517.5h6.5m-27.5 3h3.5m-15.5 3h3.5m-27.5 3h12.4m-33.4 3h12.4m-3.4 12h18.4m23.6 3h3.5"/><path stroke="#6a6a6a" d="M371 517.5h3.5m-27.5 3h6.5m-18.5 3h3.5m-18.5 3h12.4m-33.4 3h15.4m-27.4 3h12.4m-12.4 3h6.5m-6.5 3h6.5m20.5 3h15.4"/><path stroke="#6c6c6c" d="M374 517.5h3.5m-24.5 3h3.5m-18.5 3h3.5m-27.5 6h12.4m-27.4 3h15.4m-21.4 3h15.4m-15.4 3h15.4m20.6 3h3.5"/><path stroke="#6e6e6e" d="M377 517.5h3.5m-24.5 3h6.5m-21.5 3h3.5m-12.5 3h3.5m-9.5 3h6.5m-18.5 3h15.4m-21.4 3h15.4m-15.4 3h15.4m8.6 3h3.5"/><path stroke="#727272" d="M380 517.5h3.5m71.5 0h54.5m-144.5 3h6.5m-27.5 3h6.5m-12.5 3h3.5m-9.5 6h3.5m-.5 9h3.5m2.5 6h3.5m-3.5 3h3.5"/><path stroke="#747474" d="M383 517.5h72.5m-84.5 3h3.5m-24.5 3h6.5m-21.5 6h3.5m-6.5 6h3.5m-3.5 3h3.5m5.5 6h3.5"/><path stroke="#707070" d="M362 520.5h3.5m-30.5 6h3.5m-6.5 3h3.5m-6.5 3h3.5m-9.5 3h9.4m-9.4 3h9.4"/><path stroke="#767676" d="M374 520.5h3.5m-21.5 3h3.5m-18.5 3h3.5m-6.5 3h3.5m-6.5 3h3.5m-3.5 3h3.5m-3.5 3h3.5"/><path stroke="#7a7a7a" d="M377 520.5h3.5m-15.5 3h3.5m-21.5 3h6.5m-12.5 3h3.5m-6.5 6h3.5m-3.5 3h3.5"/><path stroke="#7e7e7e" d="M380 520.5h3.5m-9.5 3h3.5m-18.5 3h6.5m-18.5 3h6.5m-9.5 3h3.5"/><path stroke="#828282" d="M383 520.5h126.5m-138.5 6h3.5m-12.5 3h6.5m-12.5 3h6.5m-9.5 3h6.5m-6.5 3h6.5m-9.5 3h9.4m-9.4 3h9.4m-9.4 3h9.4m-9.4 3h9.4"/><path stroke="#787878" d="M359 523.5h6.5m-21.5 3h3.5m-9.5 6h3.5m-3.5 9h3.5"/><path stroke="#7c7c7c" d="M368 523.5h6.5m-21.5 3h6.5m-15.5 3h3.5m-6.5 3h3.5m-3.5 3h3.5m-3.5 3h3.5m-3.5 3h3.5"/><path stroke="#848484" d="M377 523.5h3.5m-6.5 3h3.5m-9.5 3h6.5m-12.5 3h9.4m-12.4 3h9.4m-9.4 3h9.4m-9.4 3h9.4m-9.4 3h9.4m-9.4 3h9.4m-9.4 3h9.4"/><path stroke="#888888" d="M380 523.5h3.5m-6.5 3h3.5m-6.5 6h3.5m-3.5 3h3.5m-3.5 3h3.5m-3.5 3h3.5m-3.5 3h3.5m-3.5 3h3.5m-3.5 3h3.5"/><path stroke="#8c8c8c" d="M383 523.5h3.5m-9.5 6h3.5m-3.5 3h3.5"/><path stroke="#8e8e8e" d="M386 523.5h123.5m-129.5 3h3.5m-6.5 9h3.5m-3.5 3h3.5"/><path stroke="#808080" d="M365 526.5h6.5m-18.5 3h9.4m-15.4 3h9.4m-12.4 3h9.4m-9.4 3h9.4m-9.4 3h6.5m-6.5 3h6.5m-6.5 3h6.5m-6.5 3h6.5"/><path stroke="#929292" d="M383 526.5h3.5m-6.5 6h3.5m-3.5 3h3.5"/><path stroke="#949494" d="M386 526.5h87.5"/><path stroke="#969696" d="M473 526.5h36.5m-126.5 3h18.4m-21.4 9h3.5"/><path stroke="#868686" d="M374 529.5h3.5m-6.5 3h3.5m-6.5 3h6.5m-6.5 3h6.5m-6.5 3h6.5m-6.5 3h6.5m-6.5 3h6.5m-6.5 3h6.5"/><path stroke="#909090" d="M380 529.5h3.5m-6.5 12h3.5m-3.5 3h3.5m-3.5 3h3.5m-3.5 3h3.5"/><path stroke="#989898" d="M401 529.5h108.5m-126.5 3h42.5m-42.5 3h3.5"/><path stroke="#9a9a9a" d="M425 532.5h84.5m-123.5 3h105.5"/><path stroke="#9c9c9c" d="M491 535.5h18.4m-51.4 3h51.5"/><path stroke="#9e9e9e" d="M383 538.5h3.5m62.5 0h9.4"/><path stroke="#a0a0a0" d="M386 538.5h39.5m14.5 0h9.4m-69.4 3h3.5"/><path stroke="#a2a2a2" d="M425 538.5h15.4m23.6 3h45.5"/><path stroke="#b0b0b0" d="M383 541.5h3.5m59.5 0h3.5m5.5 6h3.5m-3.5 3h3.5"/><path stroke="#b6b6b6" d="M386 541.5h57.5"/><path stroke="#b2b2b2" d="M443 541.5h3.5m5.5 3h3.5"/><path stroke="#acacac" d="M449 541.5h3.5"/><path stroke="#aaaaaa" d="M452 541.5h3.5m2.5 3h3.5m-3.5 3h9.4m-9.4 3h9.4"/><path stroke="#a6a6a6" d="M455 541.5h3.5m20.5 3h27.4m-15.4 3h18.4m-18.4 3h18.4"/><path stroke="#a4a4a4" d="M458 541.5h6.5m41.5 3h3.5"/><path stroke="#a8a8a8" d="M380 544.5h3.5m77.5 0h18.4m-99.4 3h3.5m83.5 0h24.4m-111.4 3h3.5m83.5 0h24.4"/><path stroke="#bebebe" d="M383 544.5h3.5"/><path stroke="#c8c8c8" d="M386 544.5h54.5"/><path stroke="#c6c6c6" d="M440 544.5h3.5"/><path stroke="#c2c2c2" d="M443 544.5h3.5"/><path stroke="#bcbcbc" d="M446 544.5h3.5"/><path stroke="#b8b8b8" d="M449 544.5h3.5"/><path stroke="#aeaeae" d="M455 544.5h3.5"/><path stroke="#c0c0c0" d="M383 547.5h3.5m59.5 0h3.5m-66.5 3h3.5m59.5 0h3.5"/><path stroke="#cccccc" d="M386 547.5h54.5m-54.5 3h54.5"/><path stroke="#cacaca" d="M440 547.5h3.5m-3.5 3h3.5"/><path stroke="#c4c4c4" d="M443 547.5h3.5m-3.5 3h3.5"/><path stroke="#bababa" d="M449 547.5h3.5m-3.5 3h3.5"/><path stroke="#b4b4b4" d="M452 547.5h3.5m-3.5 3h3.5"/></g></g></g><path d="M338.7 518.5C339.2 530 339.4 538 341.8 546.5H335.6C338 538 338.2 530 338.7 518.5z" fill="url(#gfl)"/><path d="M294.2 528C294.5 536 294.7 541 296 546.5H292.4C293.7 541 293.9 536 294.2 528z" fill="url(#gfl)" opacity=".6"/><g clip-path="url(#cdas)"><g filter="url(#fdas)"><g stroke-width="4.45" fill="none"><path stroke="#0c0c0c" d="M44.5 230.5h45.5m-42.5 4h48.5m-42.5 4h48.5m-42.5 4h48.5m-42.5 4h48.5m-42.5 4h48.5m-42.5 4h42.5m-21.5 4h21.4m74.6 4h75m-150 4h3.5m71.5 0h75m-150 4h3.5m-.5 28h3.5m-3.5 4h3.5"/><path stroke="#0e0e0e" d="M89.5 230.5h30.4m-24.4 4h24.4m-18.4 4h18.4m-12.4 4h12.4m-6.4 4h6.5m74.5 0h75m-75 4h75m-75 4h75m-150 4h3.5m71.5 0h75m-150 4h3.5m-.5 24h3.5m-3.5 4h3.5m-3.5 4h3.5m65.5 0h3.5m-3.5 4h3.5m-3.5 4h3.5"/><path stroke="#121212" d="M119.5 230.5h3.5m-3.5 4h3.5m-.5 32h3.5m65.5 4h3.5m-3.5 4h3.5m-3.5 4h3.5m-69.5 12h3.5m-3.5 4h3.5m-3.5 4h3.5m-3.5 4h3.5"/><path stroke="#1a1a1a" d="M122.5 230.5h3.5m-3.5 4h3.5m-3.5 4h3.5m-3.5 4h3.5m65.5 4h3.5m-3.5 4h3.5m-3.5 4h3.5m-6.5 16h3.5m-3.5 4h3.5m-63.5 4h3.5m56.5 0h3.5m-63.5 4h3.5m-.5 12h57.5"/><path stroke="#242424" d="M125.5 230.5h3.5m-3.5 4h3.5m-.5 24h3.5m-.5 8h57.5"/><path stroke="#2c2c2c" d="M128.5 230.5h3.5m-3.5 4h3.5m-3.5 4h3.5"/><path stroke="#323232" d="M131.5 230.5h57.5m-57.5 4h57.5m-57.5 4h57.5"/><path stroke="#2a2a2a" d="M188.5 230.5h3.5m-3.5 4h3.5m-63.5 8h3.5m-3.5 4h3.5m-.5 12h57.5"/><path stroke="#1e1e1e" d="M191.5 230.5h3.5m-69.5 28h3.5m59.5 8h3.5m-60.5 12h57.5m-57.5 4h57.5"/><path stroke="#101010" d="M194.5 230.5h75m-75 4h75m-150 4h3.5m71.5 0h75m-150 4h3.5m71.5 0h75m-150 4h3.5m-3.5 4h3.5m-3.5 4h3.5m-.5 16h3.5m-3.5 4h3.5m-3.5 4h3.5m-3.5 4h3.5m65.5 0h3.5m-3.5 4h3.5m-3.5 4h3.5"/><path stroke="#0a0a0a" d="M44.5 234.5h3.5m-3.5 4h9.4m-9.4 4h15.4m-15.4 4h21.4m-21.4 4h27.4m-27.4 4h33.5m-33.5 4h54.5m-36.5 4h57.5m-33.5 4h33.5m-6.5 4h6.5m74.5 0h75m-150 4h3.5m71.5 0h75m-150 4h3.5m71.5 0h75m-150 4h3.5m71.5 0h75m-150 4h3.5m-3.5 4h3.5"/><path stroke="#1c1c1c" d="M191.5 234.5h3.5m-3.5 4h3.5m-3.5 4h3.5m-69.5 20h3.5m-.5 8h3.5m-3.5 4h3.5m-.5 12h57.5m-57.5 4h57.5"/><path stroke="#222222" d="M125.5 238.5h3.5m-3.5 4h3.5m59.5 16h3.5m-63.5 4h3.5"/><path stroke="#282828" d="M188.5 238.5h3.5m-3.5 4h3.5m-63.5 8h3.5m-3.5 4h3.5"/><path stroke="#303030" d="M131.5 242.5h57.5m-57.5 4h57.5"/><path stroke="#181818" d="M122.5 246.5h3.5m-3.5 4h3.5m-3.5 4h3.5m65.5 4h3.5m-69.5 8h3.5m59.5 16h3.5m-63.5 4h3.5m56.5 0h3.5m-63.5 4h3.5m-.5 8h57.5m-57.5 4h57.5"/><path stroke="#202020" d="M125.5 246.5h3.5m-3.5 4h3.5m-3.5 4h3.5m59.5 8h3.5m-63.5 4h3.5m-.5 4h57.5m-57.5 4h57.5"/><path stroke="#262626" d="M188.5 246.5h3.5m-3.5 4h3.5m-3.5 4h3.5m-60.5 8h57.5"/><path stroke="#2e2e2e" d="M131.5 250.5h57.5m-57.5 4h57.5"/><path stroke="#161616" d="M122.5 258.5h3.5m65.5 4h3.5m-69.5 8h3.5m-3.5 4h3.5m-3.5 4h3.5m59.5 12h3.5m-63.5 4h3.5m56.5 0h3.5m-63.5 4h3.5m-3.5 4h3.5"/><path stroke="#080808" d="M44.5 262.5h18.4m-18.4 4h42.5m-42.5 4h69.5m-63.5 4h69.5m-57.5 4h57.5m-48.5 4h48.5m-39.5 4h39.5m74.5 0h75m-177 4h27.4m74.6 0h75m-162 4h15.4m71.6 0h75m-150 4h3.5m71.5 0h75m-150 4h3.5m71.5 0h75"/><path stroke="#141414" d="M122.5 262.5h3.5m65.5 4h3.5m-69.5 16h3.5m-3.5 4h3.5m59.5 12h3.5m-3.5 4h3.5"/><path stroke="#060606" d="M44.5 274.5h6.5m-6.5 4h18.4m-18.4 4h27.4m-27.4 4h36.5m-36.5 4h48.5m-48.5 4h63.5m-63.5 4h75.5m-75.5 4h75.5"/></g><g stroke-width="1.95" fill="none"><path stroke="#323232" d="M287 229.2h4.5m-4.5 1.6h4.5m-4.5 1.4h4.5m-4.5 1.6h4.5m-4.5 1.4h4.5m-4.5 1.6h4.5m-4.5 1.4h4.5m-4.5 1.6h4.5m-4.5 1.4h4.5m-4.5 1.6h4.5m-4.5 1.4h6.5m-6.5 1.6h8.4m-8.4 1.4h14.4m-14.4 1.6h20.4m-8.4 1.4h20.4m-6.4 1.6h22.4m-2.4 1.4h12.4m-.4 1.6h8.4m1.6 1.4h6.5m1.5 1.6h8.4m-2.4 7.4h6.5m-14.5 1.6h6.5m-16.5 1.4h6.5m-14.5 1.6h6.5m-14.5 1.4h10.4m-20.4 1.6h16.4m-20.4 1.4h20.4m-20.4 1.6h20.4m-18.4 1.4h18.4m-10.4 1.6h12.4m-4.4 1.4h6.5m-2.5 1.6h6.5m-4.5 1.4h6.5m-2.5 1.6h6.5m-2.5 1.4h6.5m-4.5 1.6h8.4m-4.4 1.4h8.4m-4.4 1.6h8.4m-4.4 1.4h8.4m-2.4 1.6h2.5m-.5 3h2.5"/><path stroke="#343434" d="M291 229.2h18.4m-18.4 1.6h18.4m-18.4 1.4h18.4m-18.4 1.6h18.4m-18.4 1.4h18.4m-18.4 1.6h18.4m-18.4 1.4h18.4m-18.4 1.6h18.4m-18.4 1.4h20.4m-20.4 1.6h20.4m-18.4 1.4h20.4m-18.4 1.6h20.4m-14.4 1.4h20.4m-14.4 1.6h22.4m-10.4 1.4h20.4m-4.4 1.6h10.4m-.4 1.4h6.5m1.5 1.6h6.5m1.5 1.4h6.5m3.5 1.6h4.5m-.5 6h2.5m-10.5 3h8.4m-18.4 1.4h8.4m-16.4 1.6h6.5m-10.5 1.4h6.5m-10.5 1.6h6.5m-6.5 1.4h6.5m-6.5 1.6h6.5m-6.5 1.4h6.5m-4.5 1.6h6.5m-4.5 1.4h8.4m-4.4 1.6h6.5m-4.5 1.4h8.4m-4.4 1.6h6.5m-2.5 1.4h6.5m-2.5 1.6h6.5m-2.5 1.4h6.5m-2.5 1.6h4.5m-.5 3h2.5m-2.5 1.4h2.5m-.5 4.6h2.5m-2.5 1.4h2.5m-2.5 1.6h2.5"/><path stroke="#363636" d="M309 229.2h20.4m-20.4 1.6h20.4m-20.4 1.4h20.4m-20.4 1.6h20.4m-20.4 1.4h20.4m-20.4 1.6h20.4m-20.4 1.4h20.4m-20.4 1.6h20.4m-18.4 1.4h20.4m-20.4 1.6h20.4m-18.4 1.4h20.4m-18.4 1.6h20.4m-14.4 1.4h20.4m-12.4 1.6h14.4m-4.4 1.4h6.5m-.5 1.6h6.5m-.5 1.4h6.5m1.5 1.6h6.5m1.5 1.4h8.4m-.4 9h2.5m-12.5 3h6.5m-16.5 1.6h8.4m-12.4 1.4h6.5m-10.5 1.6h8.4m-8.4 1.4h6.5m-6.5 1.6h6.5m-6.5 1.4h6.5m-4.5 1.6h6.5m-2.5 1.4h6.5m-4.5 1.6h6.5m-2.5 1.4h6.5m-4.5 1.6h8.4m-4.4 1.4h8.4m-4.4 1.6h6.5m-2.5 1.4h2.5m-.5 3h2.5m-.5 6h2.5"/><path stroke="#383838" d="M329 229.2h14.4m-14.4 1.6h14.4m-14.4 1.4h14.4m-14.4 1.6h14.4m-14.4 1.4h14.4m-14.4 1.6h14.4m-14.4 1.4h14.4m-14.4 1.6h14.4m-12.4 1.4h12.4m-12.4 1.6h12.4m-10.4 1.4h10.4m-8.4 1.6h10.4m-4.4 1.4h4.5m-2.5 1.6h6.5m-4.5 1.4h6.5m-.5 1.6h6.5m-.5 1.4h6.5m1.5 1.6h6.5m3.5 3h2.5m-2.5 9h2.5m-6.5 1.4h4.5m-12.5 1.6h6.5m-12.5 1.4h6.5m-8.5 1.6h6.5m-8.5 1.4h6.5m-6.5 1.6h6.5m-6.5 1.4h6.5m-4.5 1.6h6.5m-2.5 1.4h6.5m-4.5 1.6h6.5m-2.5 1.4h6.5m-2.5 1.6h6.5m-2.5 1.4h2.5m-.5 3h2.5m-2.5 1.6h2.5m-.5 4.4h2.5m-2.5 1.6h2.5"/><path stroke="#3a3a3a" d="M343 229.2h4.5m-4.5 1.6h4.5m-4.5 1.4h4.5m-4.5 1.6h4.5m-4.5 1.4h4.5m-4.5 1.6h4.5m-4.5 1.4h6.5m-6.5 1.6h6.5m-6.5 1.4h6.5m-6.5 1.6h6.5m-6.5 1.4h6.5m-4.5 1.6h4.5m-4.5 1.4h6.5m-2.5 1.6h4.5m-2.5 1.4h6.5m-.5 1.6h6.5m-.5 1.4h6.5m1.5 1.6h4.5m-.5 1.4h2.5m-.5 7.6h2.5m-10.5 6h6.5m-12.5 1.4h6.5m-8.5 1.6h6.5m-8.5 1.4h6.5m-6.5 1.6h6.5m-6.5 1.4h6.5m-4.5 1.6h8.4m-4.4 1.4h6.5m-4.5 1.6h8.4m-4.4 1.4h4.5m-.5 3h2.5m-2.5 1.6h2.5m-.5 6h2.5m-.5 4.4h2.5m-2.5 1.6h2.5m-2.5 1.4h2.5m-2.5 1.6h2.5"/><path stroke="#3c3c3c" d="M347 229.2h6.5m-6.5 1.6h6.5m-6.5 1.4h6.5m-6.5 1.6h6.5m-6.5 1.4h6.5m-6.5 1.6h6.5m-4.5 1.4h4.5m-4.5 1.6h4.5m-4.5 1.4h4.5m-4.5 1.6h4.5m-4.5 1.4h6.5m-6.5 1.6h6.5m-4.5 1.4h6.5m-4.5 1.6h6.5m-2.5 1.4h6.5m-.5 1.6h6.5m-.5 1.4h6.5m1.5 12h2.5m-4.5 3h2.5m-8.5 3h6.5m-8.5 1.6h6.5m-8.5 1.4h6.5m-6.5 1.6h6.5m-6.5 1.4h8.4m-4.4 1.6h6.5m-4.5 1.4h4.5m-.5 4.6h2.5m-.5 6h2.5m-2.5 1.4h2.5m-.5 4.6h2.5"/><path stroke="#3e3e3e" d="M353 229.2h6.5m-6.5 1.6h6.5m-6.5 1.4h6.5m-6.5 1.6h6.5m-6.5 1.4h6.5m-6.5 1.6h6.5m-6.5 1.4h6.5m-6.5 1.6h6.5m-6.5 1.4h6.5m-6.5 1.6h6.5m-4.5 1.4h6.5m-6.5 1.6h6.5m-4.5 1.4h6.5m-4.5 1.6h6.5m-2.5 1.4h6.5m-.5 1.6h6.5m-.5 3h2.5m-.5 3h2.5m-.5 6h2.5m-4.5 3h2.5m-4.5 3h2.5m-4.5 3h2.5m-4.5 1.4h4.5m-4.5 1.6h4.5m-2.5 1.4h2.5m-.5 4.6h2.5m-2.5 1.4h2.5m-.5 6h2.5m-.5 6h2.5m-.5 4.6h2.5m-2.5 1.4h2.5m-2.5 1.6h2.5"/><path stroke="#404040" d="M359 229.2h6.5m-6.5 1.6h6.5m-6.5 1.4h6.5m-6.5 1.6h6.5m-6.5 1.4h6.5m-6.5 1.6h6.5m-6.5 1.4h6.5m-6.5 1.6h6.5m-6.5 1.4h6.5m-6.5 1.6h6.5m-4.5 1.4h4.5m-4.5 1.6h6.5m-4.5 1.4h6.5m-4.5 1.6h6.5m-2.5 1.4h6.5m-.5 3h2.5m-.5 3h2.5m-.5 9h2.5m-6.5 6h2.5m-2.5 7.6h2.5m-2.5 1.4h2.5m-.5 7.6h2.5m-.5 6h2.5m-.5 4.4h2.5"/><path stroke="#424242" d="M365 229.2h4.5m-4.5 1.6h4.5m-4.5 1.4h4.5m-4.5 1.6h4.5m-4.5 1.4h4.5m-4.5 1.6h4.5m-4.5 1.4h4.5m-4.5 1.6h6.5m-6.5 1.4h6.5m-6.5 1.6h6.5m-6.5 1.4h6.5m-4.5 1.6h6.5m-4.5 1.4h4.5m-2.5 1.6h4.5m-.5 3h2.5m1.5 6h2.5m-4.5 10.4h2.5m-4.5 4.6h2.5m-2.5 1.4h2.5m-2.5 1.6h2.5m-2.5 1.4h2.5m-.5 7.6h2.5m-2.5 1.4h2.5m-.5 4.6h2.5m-2.5 1.4h2.5m-.5 4.6h2.5"/><path stroke="#444444" d="M369 229.2h6.5m-6.5 1.6h6.5m-6.5 1.4h6.5m-6.5 1.6h6.5m-6.5 1.4h6.5m-6.5 1.6h6.5m-6.5 1.4h6.5m-4.5 1.6h4.5m-4.5 1.4h4.5m-4.5 1.6h4.5m-4.5 1.4h4.5m-2.5 1.6h2.5m-2.5 1.4h2.5m-.5 3h2.5m-.5 4.6h2.5m1.5 9h2.5m-4.5 3h2.5m-4.5 3h2.5m-2.5 13.4h2.5m-.5 6h2.5m-.5 6h2.5m-.5 4.6h2.5m-2.5 1.4h2.5m-2.5 1.6h2.5"/><path stroke="#484848" d="M375 229.2h2.5m-2.5 1.6h2.5m-2.5 1.4h2.5m-2.5 1.6h2.5m-2.5 1.4h2.5m-2.5 1.6h2.5m-2.5 1.4h2.5m-2.5 1.6h2.5m-2.5 1.4h2.5m-2.5 1.6h2.5m-2.5 1.4h2.5m-2.5 1.6h2.5m-2.5 1.4h2.5m3.5 10.6h2.5m-4.5 10.4h2.5m-4.5 4.6h2.5m-2.5 1.4h2.5m-2.5 1.6h2.5m-2.5 1.4h2.5m-2.5 1.6h2.5m-.5 6h2.5m-2.5 1.4h2.5m-.5 4.6h2.5m-.5 4.4h2.5m-2.5 1.6h2.5"/><path stroke="#505050" d="M377 229.2h2.5m-2.5 1.6h2.5m-2.5 1.4h2.5m-2.5 1.6h2.5m-2.5 1.4h2.5m-2.5 1.6h2.5m-2.5 1.4h2.5m-2.5 1.6h2.5m-2.5 1.4h2.5m-2.5 1.6h2.5m-2.5 1.4h2.5m-2.5 1.6h2.5m-.5 6h2.5m-.5 3h2.5m1.5 9h2.5m-4.5 3h2.5m-6.5 6h2.5m-2.5 1.4h2.5m-2.5 1.6h2.5m-2.5 1.4h2.5m-.5 6h2.5m-2.5 1.6h2.5m-.5 4.4h2.5m-.5 6h2.5"/><path stroke="#585858" d="M379 229.2h2.5m-2.5 1.6h2.5m-2.5 1.4h2.5m-2.5 1.6h2.5m-2.5 1.4h2.5m-2.5 1.6h2.5m-2.5 1.4h2.5m-2.5 1.6h2.5m-2.5 1.4h2.5m-2.5 1.6h2.5m-2.5 1.4h2.5m-.5 7.6h2.5m-.5 3h2.5m-.5 12h2.5m-4.5 3h2.5m-2.5 12h2.5m-2.5 1.4h2.5m-.5 6h2.5m-.5 7.6h2.5"/><path stroke="#606060" d="M381 229.2h2.5m-2.5 1.6h2.5m-2.5 1.4h2.5m-2.5 1.6h2.5m-2.5 1.4h2.5m-2.5 1.6h2.5m-2.5 1.4h2.5m-2.5 1.6h2.5m-2.5 1.4h2.5m-2.5 1.6h2.5m-2.5 1.4h2.5m1.5 10.6h2.5m-.5 3h2.5m-4.5 25.4h2.5m-.5 7.6h2.5m-.5 6h2.5m39.5 0h82m-84 3h2.5m-2.5 1.4h2.5m-2.5 1.6h2.5"/><path stroke="#686868" d="M383 229.2h2.5m-2.5 1.6h2.5m-2.5 1.4h2.5m-2.5 1.6h2.5m-2.5 1.4h2.5m-2.5 1.6h2.5m-2.5 1.4h2.5m-2.5 1.6h2.5m-2.5 1.4h2.5m-.5 10.6h2.5m41.5 12h2.5m-.5 1.4h82m-126 3h2.5m-2.5 16.6h2.5m-.5 7.4h2.5m39.5 0h82m-84 3h2.5m-40.5 1.6h2.5m31.5 3h2.5m-2.5 1.4h2.5m-2.5 1.6h2.5"/><path stroke="#727272" d="M385 229.2h2.5m-2.5 1.6h2.5m-2.5 1.4h2.5m-2.5 1.6h2.5m-2.5 1.4h2.5m-2.5 1.6h2.5m-2.5 1.4h2.5m-2.5 1.6h2.5m-2.5 1.4h2.5m-2.5 1.6h2.5m37.5 21h2.5m1.5 3h2.5m-42.5 1.4h2.5m39.5 0h82m-126 4.6h2.5m-2.5 1.4h2.5m-2.5 1.6h2.5m-2.5 1.4h2.5m-.5 9h2.5m39.5 0h82m-84 3h2.5m-4.5 3h2.5m-36.5 4.6h2.5m27.5 0h2.5"/><path stroke="#7e7e7e" d="M387 229.2h2.5m-2.5 1.6h2.5m-2.5 1.4h2.5m-2.5 1.6h2.5m-2.5 1.4h2.5m-2.5 1.6h2.5m-2.5 1.4h2.5m-2.5 1.6h2.5m-2.5 1.4h2.5m-2.5 1.6h2.5m-2.5 1.4h2.5m-2.5 1.6h2.5m3.5 12h2.5m27.5 0h2.5m-30.5 6h26.4m-.4 1.4h2.5m5.5 4.6h2.5m-42.5 3h2.5m39.5 0h82m-124 1.4h2.5m-2.5 1.6h2.5m-2.5 1.4h2.5m39.5 0h82m-84 4.6h2.5m-40.5 3h2.5m33.5 0h2.5m-4.5 3h2.5m-34.5 3h2.5m27.5 0h2.5m-30.5 4.4h26.4"/><path stroke="#8c8c8c" d="M389 229.2h2.5m39.5 0h82m-124 1.6h2.5m39.5 0h82m-124 1.4h2.5m39.5 0h82m-124 1.6h2.5m39.5 0h82m-124 1.4h2.5m39.5 0h82m-124 1.6h2.5m39.5 0h82m-124 1.4h2.5m39.5 0h82m-124 1.6h2.5m39.5 0h82m-124 1.4h2.5m39.5 0h82m-124 1.6h2.5m39.5 0h82m-82 1.4h82m-122 7.6h2.5m33.5 0h2.5m-4.5 1.4h2.5m-34.5 1.6h2.5m27.5 0h2.5m-4.5 13.4h2.5m1.5 3h2.5m-2.5 9h2.5m-34.5 3h2.5m27.5 0h2.5m-4.5 3h2.5"/><path stroke="#989898" d="M391 229.2h2.5m33.5 0h2.5m-38.5 1.6h2.5m33.5 0h2.5m-38.5 1.4h2.5m33.5 0h2.5m-38.5 1.6h2.5m33.5 0h2.5m-38.5 1.4h2.5m33.5 0h2.5m-38.5 1.6h2.5m33.5 0h2.5m-38.5 1.4h2.5m33.5 0h2.5m-38.5 1.6h2.5m33.5 0h2.5m-38.5 1.4h2.5m33.5 0h2.5m-38.5 1.6h2.5m33.5 0h2.5m-38.5 1.4h2.5m33.5 0h2.5m-2.5 1.6h2.5m-36.5 6h2.5m27.5 0h2.5m-4.5 1.4h2.5m-28.5 16.6h26.4m-.4 1.4h2.5"/><path stroke="#a6a6a6" d="M393 229.2h2.5m27.5 0h2.5m-32.5 1.6h2.5m27.5 0h2.5m-32.5 1.4h2.5m27.5 0h2.5m-32.5 1.6h2.5m27.5 0h2.5m-32.5 1.4h2.5m27.5 0h2.5m-32.5 1.6h2.5m27.5 0h2.5m-32.5 1.4h2.5m27.5 0h2.5m-32.5 1.6h2.5m27.5 0h2.5m-32.5 1.4h2.5m27.5 0h2.5m-32.5 1.6h2.5m27.5 0h2.5m-4.5 6h2.5"/><path stroke="#b2b2b2" d="M395 229.2h26.4m-26.4 1.6h26.4m-26.4 1.4h26.4m-26.4 1.6h26.4m-26.4 1.4h26.4m-26.4 1.6h26.4m-26.4 1.4h26.4m-26.4 1.6h26.4m-26.4 1.4h26.4m-26.4 1.6h26.4m-26.4 1.4h26.4"/><path stroke="#acacac" d="M421 229.2h2.5m-2.5 1.6h2.5m-2.5 1.4h2.5m-2.5 1.6h2.5m-2.5 1.4h2.5m-2.5 1.6h2.5m-2.5 1.4h2.5m-2.5 1.6h2.5m-2.5 1.4h2.5m-2.5 1.6h2.5m-2.5 1.4h2.5m-28.5 4.6h26.4"/><path stroke="#a0a0a0" d="M425 229.2h2.5m-2.5 1.6h2.5m-2.5 1.4h2.5m-2.5 1.6h2.5m-2.5 1.4h2.5m-2.5 1.6h2.5m-2.5 1.4h2.5m-2.5 1.6h2.5m-2.5 1.4h2.5m-34.5 7.6h2.5m27.5 0h2.5m-30.5 24h26.4m-26.4 4.4h26.4"/><path stroke="#929292" d="M429 229.2h2.5m-2.5 1.6h2.5m-2.5 1.4h2.5m-2.5 1.6h2.5m-2.5 1.4h2.5m-2.5 1.6h2.5m-2.5 1.4h2.5m-2.5 1.6h2.5m-2.5 1.4h2.5m-2.5 1.6h2.5m-2.5 1.4h2.5m-6.5 7.6h2.5m-34.5 1.4h2.5m27.5 0h2.5m-4.5 1.6h2.5m-28.5 13.4h26.4m-28.4 3h2.5m27.5 0h2.5m-32.5 9h2.5m27.5 0h2.5m-4.5 3h2.5"/><path stroke="#666666" d="M383 242.8h2.5m-2.5 1.4h2.5m-2.5 1.6h2.5m-2.5 1.4h2.5m1.5 9h2.5m-.5 9h2.5m-6.5 7.6h2.5m-2.5 1.4h2.5m-2.5 1.6h2.5m-2.5 1.4h2.5m-2.5 1.6h2.5m-.5 7.4h2.5m41.5 7.6h82m-122 4.4h2.5m33.5 0h2.5"/><path stroke="#9e9e9e" d="M425 242.8h2.5m-2.5 1.4h2.5m-2.5 1.6h2.5m-6.5 6h2.5m-28.5 1.4h26.4m-26.4 18h26.4m-26.4 7.6h26.4"/><path stroke="#707070" d="M385 244.2h2.5m-2.5 1.6h2.5m-2.5 1.4h2.5m-.5 6h2.5m-.5 3h2.5m39.5 0h82m-84 1.6h2.5m-40.5 7.4h2.5m33.5 0h2.5m-42.5 6h2.5m-2.5 7.6h2.5m41.5 9h82m-84 3h2.5m-40.5 1.4h2.5m31.5 3h2.5m-4.5 3h2.5m-4.5 1.6h2.5m-2.5 1.4h2.5m-2.5 1.6h2.5"/><path stroke="#8a8a8a" d="M389 244.2h2.5m-2.5 1.6h2.5m39.5 0h82m-82 1.4h82m-84 3h2.5m-10.5 6h2.5m-28.5 10.6h26.4m-30.4 6h2.5m33.5 0h2.5m-38.5 1.4h2.5m33.5 0h2.5m-38.5 1.6h2.5m33.5 0h2.5m-38.5 1.4h2.5m33.5 0h2.5m-4.5 4.6h2.5m-4.5 3h2.5m-30.5 4.4h26.4"/><path stroke="#a4a4a4" d="M393 244.2h2.5m27.5 0h2.5m-32.5 1.6h2.5m27.5 0h2.5m-30.5 6h26.4"/><path stroke="#565656" d="M379 245.8h2.5m-2.5 1.4h2.5m3.5 10.6h2.5m-6.5 15h2.5m-2.5 1.4h2.5m-2.5 1.6h2.5m-2.5 1.4h2.5m-2.5 1.6h2.5m-.5 6h2.5m-.5 6h2.5"/><path stroke="#5e5e5e" d="M381 245.8h2.5m-2.5 1.4h2.5m-.5 4.6h2.5m1.5 13.4h2.5m-6.5 9h2.5m-2.5 1.6h2.5m-.5 9h2.5m-.5 7.4h2.5m-.5 6h2.5m39.5 0h82"/><path stroke="#969696" d="M391 245.8h2.5m-2.5 1.4h2.5m33.5 0h2.5m-4.5 3h2.5m-32.5 4.6h26.4m-28.4 19.4h2.5m27.5 0h2.5m-32.5 1.6h2.5m27.5 0h2.5m-2.5 1.4h2.5m-4.5 3h2.5m-28.5 3h26.4"/><path stroke="#b0b0b0" d="M395 245.8h26.4"/><path stroke="#aaaaaa" d="M421 245.8h2.5"/><path stroke="#909090" d="M429 245.8h2.5m-2.5 1.4h2.5m-40.5 3h2.5m33.5 0h2.5m-4.5 22.6h2.5m-2.5 1.4h2.5m-2.5 1.6h2.5m-2.5 1.4h2.5m-32.5 9h26.4"/><path stroke="#4e4e4e" d="M377 247.2h2.5m-2.5 1.6h2.5m-.5 4.4h2.5m1.5 4.6h2.5m-4.5 10.4h2.5m-4.5 3h2.5m-2.5 7.6h2.5m-2.5 1.4h2.5m-.5 6h2.5m-.5 4.6h2.5m-.5 6h2.5"/><path stroke="#7c7c7c" d="M387 247.2h2.5m-.5 6h2.5m39.5 0h82m-84 1.6h2.5m-6.5 12h2.5m-36.5 1.4h2.5m33.5 0h2.5m-40.5 3h2.5m39.5 0h82m-124 7.6h2.5m39.5 0h82m-84 4.4h2.5m-40.5 3h2.5m33.5 0h2.5m-4.5 3h2.5m-6.5 4.6h2.5"/><path stroke="#888888" d="M389 247.2h2.5m39.5 1.6h82m-86 4.4h2.5m-34.5 4.6h26.4m1.6 10.4h2.5m-.5 1.6h2.5m-.5 1.4h2.5m-38.5 7.6h2.5m33.5 0h2.5m-36.5 6h2.5m25.5 3h2.5m-28.5 3h26.4"/><path stroke="#a2a2a2" d="M393 247.2h2.5m27.5 0h2.5m-4.5 3h2.5m-28.5 24h26.4m-26.4 1.6h26.4"/><path stroke="#aeaeae" d="M395 247.2h26.4"/><path stroke="#a8a8a8" d="M421 247.2h2.5m-28.5 3h26.4"/><path stroke="#9c9c9c" d="M425 247.2h2.5m-34.5 3h2.5m27.5 0h2.5m-4.5 24h2.5m-2.5 1.6h2.5m-28.5 4.4h26.4"/><path stroke="#464646" d="M375 248.8h2.5m-.5 4.4h2.5m-.5 3h2.5m-.5 9h2.5m-6.5 6h2.5m-2.5 9h2.5m-2.5 1.6h2.5m-.5 6h2.5m-.5 4.4h2.5m-2.5 1.6h2.5m-.5 4.4h2.5"/><path stroke="#545454" d="M379 248.8h2.5m-2.5 1.4h2.5m-.5 3h2.5m1.5 12h2.5m-4.5 3h2.5m-4.5 3h2.5m-2.5 9h2.5m-.5 6h2.5m-.5 6h2.5m-.5 6h2.5"/><path stroke="#5c5c5c" d="M381 248.8h2.5m-.5 4.4h2.5m-.5 15h2.5m-4.5 3h2.5m-2.5 1.6h2.5m-2.5 4.4h2.5m-2.5 1.6h2.5m-.5 7.4h2.5m-.5 7.6h2.5m-.5 6h2.5m39.5 0h82m-82 1.4h82m-82 1.6h82"/><path stroke="#646464" d="M383 248.8h2.5m-.5 4.4h2.5m1.5 10.6h2.5m39.5 0h82m-128 7.4h2.5m-2.5 9h2.5m-.5 7.6h2.5m-.5 6h2.5m37.5 3h2.5m-40.5 3h2.5m33.5 0h2.5m-38.5 1.4h2.5m33.5 0h2.5m-38.5 1.6h2.5m33.5 0h2.5"/><path stroke="#6e6e6e" d="M385 248.8h2.5m-.5 31.4h2.5m-.5 7.6h2.5m-.5 6h2.5m33.5 0h2.5m-4.5 3h2.5m-34.5 1.4h2.5"/><path stroke="#7a7a7a" d="M387 248.8h2.5m1.5 7.4h2.5m33.5 0h2.5m-4.5 1.6h2.5m-6.5 6h2.5m-30.5 1.4h2.5m27.5 0h2.5m-36.5 15h2.5m39.5 0h82m-84 4.6h2.5m-4.5 3h2.5m-36.5 4.4h2.5m27.5 0h2.5m-4.5 3h2.5m-28.5 1.6h26.4"/><path stroke="#868686" d="M389 248.8h2.5m37.5 3h2.5m-40.5 1.4h2.5m31.5 1.6h2.5m-6.5 12h2.5m-30.5 1.4h2.5m-4.5 3h2.5m-2.5 9h2.5m33.5 0h2.5m-4.5 3h2.5m-34.5 3h2.5m27.5 0h2.5m-4.5 3h2.5"/><path stroke="#949494" d="M391 248.8h2.5m33.5 0h2.5m-8.5 21h2.5m-30.5 3h2.5m27.5 0h2.5m-32.5 4.4h2.5m-2.5 1.6h2.5m27.5 0h2.5m-4.5 3h2.5m-28.5 3h26.4"/><path stroke="#9a9a9a" d="M425 248.8h2.5m-6.5 24h2.5m-2.5 4.4h2.5m-2.5 1.6h2.5m-28.5 3h26.4"/><path stroke="#8e8e8e" d="M429 248.8h2.5m-36.5 7.4h26.4m-28.4 13.6h2.5m27.5 0h2.5m-.5 9h2.5m-34.5 3h2.5m27.5 0h2.5m-4.5 3h2.5m-28.5 3h26.4"/><path stroke="#303030" d="M287 250.2h12.4m-8.4 1.6h22.4m-2.4 1.4h22.4m3.6 1.6h8.4m1.6 1.4h8.4m-.4 1.6h8.4m3.6 6h8.4m-14.4 1.4h8.4m-16.4 1.6h8.4m-16.4 1.4h6.5m-24.5 1.6h16.4m-30.4 1.4h22.4m-32.4 1.6h22.4m-26.4 1.4h22.4m-22.4 1.6h22.4m-18.4 1.4h20.4m-14.4 1.6h22.4m-16.4 1.4h24.4m-14.4 1.6h18.4m-8.4 1.4h10.4m-4.4 1.6h8.4m-4.4 1.4h8.4m-4.4 1.6h6.5m-2.5 1.4h6.5m-2.5 1.6h6.5m-2.5 1.4h6.5m-2.5 1.6h8.4m-4.4 1.4h6.5m-2.5 1.6h2.5m-.5 1.4h2.5m-2.5 1.6h2.5m-2.5 1.4h2.5m-2.5 1.6h2.5"/><path stroke="#4c4c4c" d="M377 250.2h2.5m1.5 6h2.5m-.5 9h2.5m-6.5 4.6h2.5m-2.5 12h2.5m-.5 6h2.5m-.5 4.4h2.5m-.5 6h2.5"/><path stroke="#5a5a5a" d="M381 250.2h2.5m1.5 6h2.5m-.5 7.6h2.5m-6.5 16.4h2.5m-.5 7.6h2.5m-.5 7.4h2.5m-.5 6h2.5m-2.5 1.6h2.5"/><path stroke="#626262" d="M383 250.2h2.5m1.5 16.6h2.5m-4.5 3h2.5m-2.5 12h2.5m-.5 7.4h2.5m-.5 6h2.5m39.5 0h82m-84 3h2.5"/><path stroke="#6c6c6c" d="M385 250.2h2.5m3.5 13.6h2.5m33.5 0h2.5m-.5 1.4h2.5m-42.5 1.6h2.5m39.5 0h82m-126 3h2.5m-2.5 12h2.5m-.5 7.4h2.5m39.5 0h82m-84 3h2.5m-40.5 3h2.5m33.5 0h2.5m-36.5 4.6h2.5m27.5 0h2.5m-32.5 1.4h2.5m27.5 0h2.5m-32.5 1.6h2.5m27.5 0h2.5"/><path stroke="#787878" d="M387 250.2h2.5m39.5 18h2.5m-42.5 1.6h2.5m39.5 0h82m-124 12h2.5m39.5 0h82m-122 6h2.5m31.5 3h2.5m-34.5 3h2.5m27.5 0h2.5m-30.5 4.4h26.4"/><path stroke="#848484" d="M389 250.2h2.5m39.5 0h82m-120 6h2.5m27.5 0h2.5m-30.5 9h26.4m5.6 4.6h2.5m-.5 3h2.5m-2.5 1.4h2.5m-2.5 1.6h2.5m-2.5 1.4h2.5m-40.5 4.6h2.5m33.5 0h2.5m-4.5 3h2.5m-34.5 3h2.5m27.5 0h2.5m-30.5 4.4h26.4"/><path stroke="#2e2e2e" d="M287 251.8h4.5m-4.5 1.4h24.4m1.6 1.6h24.4m3.6 1.4h6.5m1.5 1.6h6.5m3.5 6h8.4m-14.4 1.4h8.4m-16.4 1.6h8.4m-22.4 1.4h14.4m-40.4 1.6h22.4m-40.4 1.4h26.4m-26.4 1.6h16.4m-16.4 1.4h12.4m-12.4 1.6h12.4m-12.4 1.4h16.4m-16.4 1.6h22.4m-16.4 1.4h22.4m-12.4 1.6h22.4m-12.4 1.4h22.4m-12.4 1.6h18.4m-6.4 1.4h10.4m-4.4 1.6h8.4m-4.4 1.4h8.4m-4.4 1.6h8.4m-4.4 1.4h8.4m-4.4 1.6h8.4m-4.4 1.4h8.4m-4.4 1.6h8.4m-2.4 1.4h4.5"/><path stroke="#4a4a4a" d="M377 251.8h2.5m-.5 3h2.5m1.5 9h2.5m-4.5 3h2.5m-4.5 16.4h2.5m-.5 6h2.5m-.5 4.6h2.5m-.5 6h2.5m-2.5 1.4h2.5m-2.5 1.6h2.5"/><path stroke="#747474" d="M387 251.8h2.5m1.5 6h2.5m33.5 0h2.5m-40.5 27h2.5m39.5 0h82m-84 3h2.5m-40.5 3h2.5m33.5 0h2.5m-4.5 3h2.5m-34.5 1.4h2.5m27.5 0h2.5m-4.5 3h2.5m-28.5 1.6h26.4m-26.4 1.4h26.4m-26.4 1.6h26.4"/><path stroke="#808080" d="M389 251.8h2.5m39.5 0h82m-122 3h2.5m31.5 1.4h2.5m-34.5 10.6h2.5m27.5 0h2.5m5.5 7.4h82m-82 1.6h82m-84 4.4h2.5m-40.5 3h2.5m-.5 6h2.5m27.5 0h2.5m-4.5 3h2.5"/><path stroke="#828282" d="M429 253.2h2.5m-4.5 1.6h2.5m-8.5 3h2.5m1.5 10.4h2.5m-36.5 1.6h2.5m35.5 1.4h2.5m-2.5 7.6h2.5m-4.5 4.4h2.5m-4.5 3h2.5m-6.5 4.6h2.5m-28.5 3h26.4"/><path stroke="#2c2c2c" d="M287 254.8h26.4m3.6 1.4h24.4m-.4 1.6h8.4m1.6 6h8.4m-12.4 1.4h6.5m-18.5 1.6h10.4m-38.4 1.4h24.4m-44.4 1.6h18.4m-18.4 10.4h6.5m-6.5 1.6h16.4m-16.4 1.4h26.4m-14.4 1.6h24.4m-12.4 1.4h24.4m-14.4 1.6h20.4m-8.4 1.4h12.4m-4.4 1.6h8.4m-4.4 1.4h8.4m-4.4 1.6h8.4m-4.4 1.4h8.4m-4.4 1.6h8.4m-2.4 1.4h8.4m-4.4 1.6h8.4m-8.4 1.4h8.4m-8.4 1.6h8.4"/><path stroke="#6a6a6a" d="M387 254.8h2.5m-.5 3h2.5m39.5 0h82m-126 25.4h2.5m-.5 7.6h2.5m39.5 0h82m-84 3h2.5m-4.5 3h2.5m-4.5 1.4h2.5"/><path stroke="#767676" d="M389 254.8h2.5m39.5 0h82m-84 1.4h2.5m-38.5 7.6h2.5m27.5 0h2.5m-.5 1.4h2.5m-36.5 1.6h2.5m33.5 0h2.5m-40.5 16.4h2.5m39.5 0h82m-84 3h2.5m-40.5 3h2.5m33.5 0h2.5m-4.5 3h2.5m-6.5 4.6h2.5"/><path stroke="#282828" d="M287 256.2h6.5m-.5 1.6h26.4m7.6 6h18.4m-36.4 1.4h26.4m-48.4 1.6h24.4m-24.4 21h10.4m-10.4 1.4h22.4m-14.4 1.6h26.4m-14.4 1.4h26.4m-14.4 1.6h22.4m-8.4 1.4h12.4m-4.4 1.6h8.4m-4.4 1.4h8.4m-4.4 1.6h10.4m-8.4 1.4h8.4m-8.4 1.6h8.4"/><path stroke="#2a2a2a" d="M293 256.2h24.4m1.6 1.6h22.4m3.6 6h6.5m-16.5 1.4h12.4m-36.4 1.6h24.4m-48.4 1.4h20.4m-20.4 16.6h12.4m-12.4 1.4h24.4m-14.4 1.6h24.4m-12.4 1.4h24.4m-12.4 1.6h20.4m-8.4 1.4h12.4m-4.4 1.6h8.4m-4.4 1.4h8.4m-4.4 1.6h8.4m-4.4 1.4h10.4m-4.4 1.6h8.4m-8.4 1.4h8.4m-8.4 1.6h8.4"/><path stroke="#525252" d="M383 256.2h2.5m-4.5 13.6h2.5m-2.5 12h2.5m-.5 6h2.5m-.5 6h2.5m-.5 6h2.5m-2.5 1.4h2.5m-2.5 1.6h2.5"/><path stroke="#262626" d="M287 257.8h6.5m7.5 6h26.4m-40.4 1.4h22.4m-22.4 25.6h8.4m-8.4 1.4h20.4m-16.4 1.6h28.4m-14.4 1.4h28.4m-16.4 1.6h24.4m-10.4 1.4h14.4m-4.4 1.6h8.4m-6.4 1.4h8.4m-8.4 1.6h8.4"/><path stroke="#0a0a0a" d="M287 259.2h226m-226 1.6h226m-226 1.4h226"/><path stroke="#242424" d="M287 263.8h14.4m-14.4 30h4.5m-4.5 1.4h18.4m-18.4 1.6h30.4m-16.4 1.4h30.4m-16.4 1.6h26.4m-24.4 1.4h26.4m-26.4 1.6h26.4"/><path stroke="#222222" d="M287 298.2h14.4m-14.4 1.6h28.4m-28.4 1.4h30.4m-30.4 1.6h30.4"/></g></g></g><rect x="47.5" y="136.7" width="218" height="8.1" fill="#c6c6fa"/><rect x="47.5" y="171.3" width="218" height="11.3" fill="#dcdcdc"/><rect x="47.5" y="362.6" width="218" height="6.4" fill="#c6c6fa"/><rect x="47.5" y="390" width="218" height="10.5" fill="#dcdcdc"/><rect x="290" y="363" width="218.5" height="5.8" fill="#c6c6fa"/><rect x="290" y="390" width="218.5" height="10.7" fill="#dcdcdc"/><rect x="47.5" y="560.4" width="218" height="7.6" fill="#c6c6fa"/><rect x="47.5" y="583.3" width="218" height="22.3" fill="#dcdcdc"/><rect x="290" y="560.2" width="218.5" height="7.4" fill="#c6c6fa"/><rect x="290" y="583.7" width="218.5" height="22.5" fill="#dcdcdc"/><path stroke="#d2d2d2" stroke-width="0.7" stroke-dasharray="2.2,1.3" fill="none" d="M83.83 28.5V77.5M120.17 28.5V77.5M156.5 28.5V77.5M192.83 28.5V77.5"/><path stroke="#d2d2d2" stroke-width="0.7" stroke-dasharray="2.2,1.3" fill="none" d="M326.42 28.5V77.5M362.83 28.5V77.5M399.25 28.5V77.5M290 35.8H508.5M290 71.7H508.5"/><path stroke="#d2d2d2" stroke-width="0.7" stroke-dasharray="2.2,1.3" fill="none" d="M83.83 131.5V201M120.17 131.5V201M156.5 131.5V201M192.83 131.5V201M229.17 131.5V201M47.5 135.5H265.5M47.5 172.2H265.5"/><path stroke="#d2d2d2" stroke-width="0.7" stroke-dasharray="2.2,1.3" fill="none" d="M83.83 354.5V423.5M120.17 354.5V423.5M156.5 354.5V423.5M192.83 354.5V423.5M229.17 354.5V423.5M47.5 361H265.5M47.5 396.4H265.5"/><path stroke="#d2d2d2" stroke-width="0.7" stroke-dasharray="2.2,1.3" fill="none" d="M326.42 354.5V423.5M362.83 354.5V423.5M399.25 354.5V423.5M435.67 354.5V423.5M472.08 354.5V423.5M290 361H508.5M290 396.4H508.5"/><path stroke="#d2d2d2" stroke-width="0.7" stroke-dasharray="2.2,1.3" fill="none" d="M83.83 446.5V495.5M120.17 446.5V495.5M156.5 446.5V495.5M192.83 446.5V495.5"/><path stroke="#d2d2d2" stroke-width="0.7" stroke-dasharray="2.2,1.3" fill="none" d="M326.42 446.5V495.5M362.83 446.5V495.5M399.25 446.5V495.5"/><path stroke="#d2d2d2" stroke-width="0.7" stroke-dasharray="2.2,1.3" fill="none" d="M83.83 549.5V618.5M120.17 549.5V618.5M156.5 549.5V618.5M192.83 549.5V618.5M229.17 549.5V618.5M47.5 572.6H265.5M47.5 611.3H265.5"/><path stroke="#d2d2d2" stroke-width="0.7" stroke-dasharray="2.2,1.3" fill="none" d="M326.42 549.5V618.5M362.83 549.5V618.5M399.25 549.5V618.5M435.67 549.5V618.5M472.08 549.5V618.5M290 572.6H508.5M290 611.3H508.5"/><path stroke="#000" stroke-width="1" fill="none" d="M47.8 52.3v1.7m.5-1.7v2m.5-2.1v1.8m.5-1.8v1.8m.5-2v2.3m.5-2.5v2.6m.5-2.2v2m.5-1.9v2.3m.5-2.4v2m.5-1.8v1.8m.5-1.9v1.7m.5-1.6v2.1m.5-2.2v2.2m.5-2.5v2.1m.5-2v2.1m.5-2v2m.5-2.1v1.9m.5-1.9v1.9m.5-1.8v1.9m.5-2.3v2.9m.5-3.1v2.5m.5-1.9v1.9m.5-1.9v2.2m.5-2.5v2.4m.5-2.2v2.2m.5-2.2v2m.5-2v1.9m.5-2v2m.5-1.9v1.9m.5-1.9v2.2m.5-2v1.8m.5-1.7v1.8m.5-2.1v2.2m.5-2.2v2.5m.5-2.3v2.4m.5-3.1v2.6m.5-2.4v2.9m.5-2.4v2.5m.5-2.7v2.2m.5-2v2m.5-2.1v2.3m.5-2.2v2m.5-2v2m.5-2.1v2.1m.5-2.1v2.5m.5-2.8v2.5m.5-2.3v2.1m.5-2v1.9m.5-2v2.4m.5-2.4v2.6m.5-2.7v2.2m.5-1.9v1.9m.5-2.4v2.9m.5-2.8v2.7m.5-2.7v2.3m.5-2v2.1m.5-2v2m.5-2.2v2.1m.5-2.6v3.3m.5-2.9v2.4m.5-2.6v2.4m.5-2v2.1m.5-2.2v2.6m.5-3.2v3.7m.5-3.6v2.6m.5-2v2.1m.5-2.4v2.3m.5-2.2v2.3m.5-2.8v3.2m.5-2.5v2.1m.5-2.2v2.7m.5-2.6v2.3m.5-2.3v3m.5-3.5v3.3m.5-3.5v2.8m.5-2.3v2.9m.5-2.8v2.4m.5-3.2v3m.5-2.3v2.3m.5-2.3v2.3m.5-2.3v2.5m.5-2.9v3.2m.5-3.3v3.6m.5-3.4v2.9m.5-3v3.6m.5-3.5v2.8m.5-3.4v4m.5-3.6v3.7m.5-3.6v3.2m.5-2.8v2.5m.5-3.1v3.1m.5-2.6v3.1m.5-3.3v3.2m.5-4.1v4.4m.5-3.9v3.8m.5-3.7v3.4m.5-3.8v3.7m.5-3.1v4m.5-3.9v2.8m.5-3.1v4.4m.5-4v2.8m.5-2.8v3.3m.5-3.2v3.5m.5-4.5v3.7m.5-2.9v3.6m.5-4.3v4.5m.5-4.8v4.4m.5-3.8v3.4m.5-3.6v3.6m.5-3.7v4.2m.5-3.7v3.4m.5-4v4.8m.5-4.6v4.8m.5-4.9v4.1m.5-4.4v4.3m.5-4.6v4.9m.5-3.8v3.6m.5-5.1v5.4m.5-4.1v4.6m.5-4.8v4.2m.5-4.2v4m.5-4.5v5.2m.5-4.6v3.9m.5-4.2v4.8m.5-5v4.9m.5-5.7v5.5m.5-5.3v5.4m.5-5.2v5.4m.5-5.6v5.5m.5-4.7v5.2m.5-8.1v8.3m.5-6.2v6.4m.5-6.8v6m.5-5.1v5.9m.5-7.3v6.6m.5-5.9v6.3m.5-6.4v7.9m.5-8v6.2m.5-6.6v7.2m.5-6.6v7.2m.5-6.7v6.3m.5-7.5v8m.5-9.3v8.4m.5-6.1v6.8m.5-7.5v7.5m.5-7.4v7.7m.5-8v7.5m.5-9.1v10m.5-8.3v9.5m.5-9.3v9.2m.5-11v10.7m.5-11.9v10.2m.5-9v9m.5-7.6v9.2m.5-9.5v8.4m.5-8.9v9.5m.5-10.1v10.5m.5-10.3v10.4m.5-14.1v13.2m.5-12.8v14.9m.5-12.1v11.4m.5-11.8v12.6m.5-15.1v13.8m.5-12.9v13.3m.5-17.6v19.4m.5-13.9v12.1m.5-12.5v12.9m.5-15.2v17.2m.5-13.8v14.2m.5-17.4v18.6m.5-18.7v15.5m.5-12.9v12.9m.5-13.1v17.3m.5-19.2v19.7m.5-23.1v21.1m.5-25.2v28.6m.5-21.9v16.8m.5-20.1v21.1m.5-29.6v29.9m.5-20.1v23.5m.5-20.6v20.6m.5-23v20.4m.5-20.5v21.1m.5-22.2v20.7m.5-19.2v21.2m.5-20.8v19.3m.5-20.9v24.6m.5-28.2v26.9m.5-23.2v23.9m.5-24.7v28.8m.5-28.1v26.4m.5-25.7v23.7m.5-28.5v38.3m.5-32.6v22.2m.5-24.4v27.1m.5-32.6v33.9m.5-29.7v25.9m.5-23.8v22.3m.5-29.5v32m.5-27.2v25.2m.5-26.6v34.3m.5-32.7v29.9m.5-33.1v29.3m.5-24.9v30.3m.5-31.6v30.6m.5-31.2v38.2m.5-41.6v30.8m.5-29.5v35.9m.5-36.5v33.8m.5-30.7v35.6m.5-34.7v28m.5-39v48m.5-35.7v23.7m.5-30v32.4m.5-26.9v31.3m.5-39.4v35.6m.5-31.1v34.1m.5-32.5v28.5m.5-24v26.1m.5-30.5v33.7m.5-28.8v24.4m.5-24.9v22.3m.5-21.2v20.4m.5-19.6v19.9m.5-22.9v21.3m.5-22.7v23.4m.5-21v20.3m.5-18.8v21.9m.5-21.7v17.7m.5-23.3v26m.5-18.4v18.2m.5-19.1v15.4m.5-14.9v18m.5-20.5v18.6m.5-18.1v16.7m.5-15.8v15.5m.5-20.9v24.7m.5-21.4v17.4m.5-15.6v17.7m.5-16.7v17.2m.5-16.8v15.2m.5-16.3v14.3m.5-14v14.6m.5-18.4v23.9m.5-18.7v13.4m.5-15.8v16m.5-18.1v23.5m.5-23.2v17.4m.5-15.8v15.9m.5-14v12.9m.5-11.5v15.3m.5-17.1v13.4m.5-14.9v16.9m.5-13.2v11m.5-15.1v18.6m.5-16.3v14.2m.5-14.1v15.1m.5-15.2v13.8m.5-12v11.9m.5-14.2v13.1m.5-14.2v14.4m.5-10.5v14.8m.5-15v10.3m.5-12.1v12.7m.5-10.9v11m.5-10.8v11.7m.5-12.3v10.5m.5-10v10.8m.5-11.5v10m.5-10v9.9m.5-12.7v13.6m.5-9.2v9m.5-10.9v11.2m.5-10.3v9.3m.5-8.8v9.9m.5-10.3v9.5m.5-9.7v9.2m.5-8.6v11.7m.5-11.8v9.8m.5-9.3v8.2m.5-11v12.2m.5-8.8v9.3m.5-12.8v11m.5-9v8.2m.5-8.3v8.9m.5-7.5v9.1m.5-8.6v7.2m.5-7.8v6.4m.5-7.9v8m.5-6.4v7m.5-5.9v5.2m.5-5.3v5.2m.5-5.3v5.6m.5-5.7v5m.5-4.1v4.6m.5-5.1v4.6m.5-6v6.4m.5-5.2v6.2m.5-5.6v6m.5-6.3v5.7m.5-5.2v4.1m.5-4.3v4.2m.5-4.2v4.4m.5-4.8v5m.5-4.3v3.9m.5-4.4v3.9m.5-4.5v5m.5-3.8v4.1m.5-4.1v3.4m.5-3.4v4.8m.5-4.9v3.5m.5-3.9v4.5m.5-5.3v5.2m.5-4.5v4.8m.5-4.8v4.1m.5-4.7v4.6m.5-4.7v5.1m.5-4.2v4.1m.5-4.3v4.5m.5-4.7v4.4m.5-3.8v3.6m.5-3.4v4.1m.5-4.4v5.1m.5-4.8v3.3m.5-3.9v4.6m.5-4.2v4.7m.5-4.9v4.4m.5-4.2v3.9m.5-4.5v4.1m.5-4.8v4.9m.5-3.6v3.7m.5-3.7v3.9m.5-3.9v4.5m.5-4.2v3.5m.5-4.6v4.7m.5-4.1v4.6m.5-4.5v4.1m.5-4.2v3.9m.5-3.9v3.9m.5-4.1v5.7m.5-6.2v4.4m.5-3.6v4.6m.5-4.6v4.1m.5-3.7v3.3m.5-3.4v3.4m.5-5.2v5.3m.5-3.4v3.6m.5-3.8v3.5m.5-5.1v5.6m.5-4.2v3.8m.5-3.7v4m.5-4.3v3.9m.5-4.4v4.7m.5-3.8v3.8m.5-3.6v3.7m.5-4.1v3.8m.5-4.3v5m.5-4.1v3.2m.5-3.7v4.6m.5-4.2v3.6m.5-4.3v4.3m.5-4.8v4.5m.5-3.7v4.2m.5-4v5m.5-5.2v4m.5-4.7v6.4m.5-5.3v3.3m.5-4.1v4.7m.5-4v4.5m.5-4.3v3.5m.5-3.4v4.1m.5-4.3v3.3m.5-4v5.1m.5-5.8v4.6m.5-3.8v3.8m.5-4.8v4.8m.5-4.2v4.3m.5-4.3v4.4m.5-5v5.5m.5-3.9v4.5m.5-4.6v3.7m.5-4.6v5.2m.5-4.8v5.2m.5-4.7v3.8m.5-4.5v4.8m.5-4v3.4m.5-3.8v3.8m.5-3.5v4.7m.5-4.4v3.2m.5-3.5v3.8m.5-4.1v4.1m.5-4.2v3.7m.5-3.3v4m.5-5.3v4.7m.5-3.2v3m.5-3.6v3.8m.5-4.2v4.4m.5-4.4v4.2m.5-3.4v4.5m.5-4.7v4.3m.5-3.8v2.9m.5-3.7v4.3m.5-4.1v4.5m.5-4.2v3.6m.5-3.8v3.8m.5-3.5v3.3m.5-4.1v4.2m.5-3.9v4.9m.5-5.4v4.8m.5-4.3v3.9m.5-3.9v3.9m.5-3.9v4.7m.5-4.9v4.4m.5-3.9v4.1m.5-4.7v5.3m.5-4.3v3m.5-3.6v3.7m.5-3.3v3.8m.5-4.2v4.2m.5-3.6v3m.5-3v3m.5-3.8v4.3m.5-3.5v3.5m.5-4.7v4.2m.5-2.9v4m.5-4.2v3.2m.5-3.1v3.8m.5-4.1v4.2m.5-4.4v3.6m.5-4.7v4.9m.5-4.2v3.8m.5-2.8v3.5m.5-4.8v4.9m.5-4.6v4.4m.5-4.6v4.3"/><path stroke="#000" stroke-width="1" fill="none" d="M290.3 52.9v2.7m.5-2.5v3.1m.5-3.9v3.5m.5-3.1v2.6m.5-2v2m.5-2.6v2.6m.5-2.2v2.3m.5-2.3v2.4m.5-2.6v2.6m.5-3.1v3.2m.5-2.4v2.6m.5-2.8v2.4m.5-2.2v2.4m.5-2.5v2.9m.5-2.8v2.7m.5-2.5v1.9m.5-2.2v2.9m.5-2.8v2.2m.5-2v2.2m.5-2.3v3.1m.5-3.2v2.5m.5-3.1v3m.5-2.8v2.7m.5-2.4v2.6m.5-2.4v2.1m.5-2.6v2.8m.5-2.6v2.5m.5-2.1v2.5m.5-2.6v2.9m.5-3.2v3.1m.5-3.8v3m.5-1.9v2.1m.5-2.3v2.2m.5-2.9v3.1m.5-2.5v2.7m.5-3.2v3m.5-2.3v3.7m.5-4.6v3.2m.5-3v2.9m.5-2.8v2.7m.5-2v2.5m.5-2.7v3.9m.5-4.4v2.5m.5-2v2.4m.5-2.2v1.9m.5-2.4v2.3m.5-2.2v2.5m.5-3v2.8m.5-2v2.5m.5-2.4v2m.5-2.8v2.8m.5-2.1v2m.5-2.1v2.3m.5-2.2v2.7m.5-2.9v2.3m.5-2.3v2.8m.5-2.7v2.3m.5-2.3v2.3m.5-2.9v2.7m.5-2.2v2.3m.5-2.7v2.6m.5-3.1v3.4m.5-2.8v2.4m.5-2.4v2.9m.5-3.2v3m.5-2.3v3.1m.5-3.4v2.4m.5-3.4v3.8m.5-2.6v3.1m.5-3.3v2.5m.5-2.5v3m.5-3.1v2.7m.5-2.6v2.4m.5-2.1v2.1m.5-2.1v2.2m.5-2.1v2.8m.5-3.3v2.6m.5-2.3v2.8m.5-2.9v3m.5-3.2v2.8m.5-2.3v3m.5-3.2v2.5m.5-2.4v2.8m.5-3.8v3.4m.5-2.7v3.1m.5-3.6v3.8m.5-3.9v3.2m.5-2.6v3.3m.5-4.1v3.6m.5-2.8v2.5m.5-2.9v3.2m.5-2.5v2.3m.5-3v2.9m.5-3v3.2m.5-2.2v2.7m.5-3.4v3m.5-2.6v2.7m.5-3.2v3m.5-3.1v3.4m.5-3v2.9m.5-3.2v2.9m.5-2.7v3.4m.5-3.3v3.3m.5-3.4v3.1m.5-3.3v2.9m.5-3v3.1m.5-2.7v3.1m.5-2.8v2.2m.5-3.1v3.8m.5-2.9v2.5m.5-3v2.6m.5-2.5v2.9m.5-2.6v2.4m.5-2.5v2.3m.5-2.3v2.7m.5-2.9v2.9m.5-3.2v2.8m.5-2.8v3.3m.5-3v2.6m.5-3.3v3.8m.5-3.3v2.7m.5-2.1v2.2m.5-2.2v2.4m.5-2.6v3.1m.5-3.2v3.1m.5-2.9v2.7m.5-2.7v2.3m.5-2.5v3m.5-2.7v2.2m.5-2.2v2.4m.5-2.5v3.1m.5-3.4v2.6m.5-2.5v3.2m.5-3.1v2.5m.5-2.3v2.3m.5-2.4v2.6m.5-2.9v2.5m.5-2.9v3.6m.5-2.9v2.2m.5-2.3v3.8m.5-3.5v2.2m.5-2.7v2.8m.5-2.6v2.6m.5-2.5v2.9m.5-3.5v3m.5-2.4v2.9m.5-4.1v3.8m.5-3.1v3.8m.5-3.8v3.3m.5-3v2.6m.5-3v4.2m.5-5v4.2m.5-2.8v2.7m.5-5.1v6m.5-4.7v3.7m.5-4.2v5.1m.5-4v3.4m.5-4.9v5m.5-4.7v4.1m.5-2.5v2.6m.5-2.7v3.9m.5-4v3.3m.5-3.3v3.4m.5-4.3v4.2m.5-3.8v3.8m.5-3.2v3.1m.5-3.3v3.9m.5-4.3v4.1m.5-4.6v4.7m.5-5.4v7m.5-5.5v5.1m.5-5.1v4m.5-6.1v6m.5-5v5m.5-4.9v5.8m.5-5.1v4.5m.5-5.8v5.5m.5-5.4v5.1m.5-6.2v6.4m.5-4.4v4.8m.5-5.5v5.1m.5-4.2v5.5m.5-7.2v7.3m.5-5.6v5.2m.5-6.3v5.5m.5-5.2v5.6m.5-6.2v6.4m.5-6v6.7m.5-6.4v7.9m.5-11.2v9.7m.5-6v4.7m.5-8.3v11.2m.5-8v5.8m.5-7.3v7.3m.5-8.7v8.7m.5-6.5v6.7m.5-7.9v8.6m.5-6.8v15.9m.5-17.3v8.9m.5-8.2v7.9m.5-7.7v8.2m.5-9.7v16.8m.5-19.5v13.2m.5-10.2v10.5m.5-9.7v7.1m.5-10.3v12.3m.5-9.8v22.3m.5-22.7v9.2m.5-8.4v9.2m.5-9.8v12m.5-12.5v10.1m.5-12.8v13.1m.5-19.6v23.2m.5-14.8v10.1m.5-11.3v12.2m.5-16.2v16.6m.5-15.3v17.9m.5-33.3v35.2m.5-15.7v13.6m.5-14.3v11.8m.5-11.5v14.2m.5-14.7v14.2m.5-27.1v27m.5-19.1v17.8m.5-15.1v15.3m.5-16.8v29m.5-27.2v27.3m.5-25.4v18.4m.5-18.1v15.1m.5-29v25.3m.5-10.5v15.7m.5-20.4v18.7m.5-16.3v14.3m.5-14.9v18.7m.5-15v12.5m.5-19.1v19.3m.5-15.3v12.2m.5-11.7v17.7m.5-16.5v18.8m.5-19.6v13.1m.5-11.2v12.2m.5-11.9v11.5m.5-13v14.1m.5-12.4v8m.5-8.3v9.6m.5-10.6v9.6m.5-8.2v8m.5-10.8v11.4m.5-8.6v10.6m.5-10v10.2m.5-12.7v15.8m.5-14.4v11.6m.5-11.1v11.9m.5-11.1v8.4m.5-9v8.7m.5-9.8v11.5m.5-12.6v9.9m.5-8.5v10.1m.5-8.5v6m.5-6.8v9.5m.5-18.2v25.2m.5-19.6v10.6m.5-8v8.1m.5-8v7.2m.5-7.7v8.8m.5-7v9.1m.5-9.1v5.7m.5-6v8.1m.5-8.6v6.9m.5-6.3v6.9m.5-8.1v9.5m.5-8.5v6.2m.5-6.8v6.6m.5-5.8v7.2m.5-7.4v9.7m.5-9.1v6.1m.5-6.3v6.6m.5-8v6.8m.5-5.5v5.9m.5-5.8v6.2m.5-7.9v7.6m.5-5.7v5.5m.5-7.4v7.3m.5-5.6v5.7m.5-7.3v7.1m.5-5.6v6.1m.5-6.1v5.4m.5-5.4v6.1m.5-6.4v5.7m.5-4.8v5.9m.5-6.4v7.1m.5-7v6.7m.5-7.3v7.2m.5-9.2v10.7m.5-8.8v7.9m.5-8.4v6.6m.5-6.4v7.5m.5-6.7v6.4m.5-8.1v9m.5-7.5v5.9m.5-6.7v7.1m.5-5.1v4.9m.5-5.4v5.5m.5-6.6v6m.5-8.7v8.7m.5-6v7m.5-5.7v4.9m.5-6.5v8.7m.5-9.5v8.7m.5-6.3v4.4m.5-5.4v5.8m.5-6.2v5.8m.5-5.1v5.1m.5-4.3v6.8m.5-6.7v5.3m.5-7.9v6.7m.5-4.6v11.8m.5-11.3v6.4m.5-7.4v5.9m.5-4.8v6.8m.5-8.1v8.7m.5-8.2v6m.5-7v7.6m.5-6v6.9m.5-7.6v6.8m.5-6.7v5.3m.5-4.5v5.6m.5-7.7v6.7m.5-4.7v6.2m.5-6.2v4.6m.5-5.5v7.4m.5-7.7v5.4m.5-5.7v8.4m.5-6.9v4.1m.5-4.2v4.3m.5-6.6v7.5m.5-7.3v6.4m.5-5.6v6.6m.5-6.3v5.2m.5-5.5v6.8m.5-6.6v5.2m.5-4.7v6.4m.5-6.9v7.1m.5-6.1v4.3m.5-4.7v6.2m.5-6.6v5.4m.5-4.9v6m.5-7.2v6.4m.5-5.1v4.9m.5-4.8v4.4m.5-4.4v4.9m.5-6.3v5.6m.5-4.8v6.2m.5-5.3v4.2m.5-4.2v5.5m.5-5.7v5.5m.5-7.3v6m.5-5.1v5m.5-4.4v4.4m.5-5.3v5.3m.5-4.9v5.4m.5-4.3v7.9m.5-7.6v3.8m.5-4.6v5.4m.5-5.5v4.8m.5-5.6v5.8m.5-4.9v5.9m.5-8.5v6.9m.5-3.6v4.2m.5-5v4.7m.5-4v4m.5-5.8v5.6m.5-5.5v5.8m.5-5v6.4m.5-6.7v4.9m.5-3.9v5.2m.5-6.6v6.2m.5-5.3v4.7m.5-4.3v5.4m.5-5.9v5.4m.5-6.1v5.2m.5-3.8v5.2m.5-5.3v4.4m.5-5.1v4.5m.5-4.7v6.3m.5-7.5v6.9m.5-4.6v3.9m.5-5.5v5.7m.5-3.9v3.7m.5-3.8v6.2m.5-6.6v5.5m.5-7.7v6.2m.5-4.2v5.1m.5-7.1v7.3m.5-4.6v4.4m.5-5.4v5.2m.5-4.3v3.7m.5-3.9v5.1m.5-5v4.3m.5-5.2v4.5m.5-4.6v4.7m.5-4v5.3m.5-5.7v4.7m.5-4.3v4.6m.5-5.6v5m.5-5.3v6.2m.5-4.6v4.3m.5-4.5v4m.5-3.9v5.6m.5-6v5.3m.5-5.2v5.8m.5-5.5v3.9m.5-4.2v4.7m.5-5.9v5.2m.5-5.1v6.1m.5-4.6v4.7m.5-4.7v4.8m.5-6.4v6.3m.5-5.1v4.3m.5-4.2v4.2m.5-4.2v5.2m.5-6v4.9m.5-3.9v6.2m.5-5.9v3.5m.5-4.5v4.5m.5-3.8v3.6m.5-3.5v4.5m.5-5.3v4.6m.5-4.7v5.5m.5-5.3v4.1m.5-3.4v4.3m.5-4.4v4.7m.5-5.2v5.6m.5-5.8v4.7m.5-3.8v4.3m.5-4.8v5"/><path stroke="#000" stroke-width="1" fill="none" d="M47.8 266.4v3m.5-3.8v4m.5-4.2v3.8m.5-3.2v3.9m.5-4v3.2m.5-2.8v3m.5-3.3v3.1m.5-3.8v4.7m.5-3.5v2.9m.5-3.9v4.1m.5-3.4v3m.5-2.8v2.6m.5-3v3.5m.5-3.9v3.9m.5-3.4v3.8m.5-4v3.7m.5-3.7v3.6m.5-3v3.3m.5-3.3v3m.5-3v3.2m.5-4.4v3.7m.5-3.3v3.4m.5-3v3.3m.5-3.2v3m.5-2.7v3.1m.5-3.5v3.1m.5-2.6v2.7m.5-3.3v3.5m.5-3.3v3.1m.5-3v3.3m.5-3.1v3.1m.5-3.5v4.3m.5-4.3v4m.5-5.5v5.1m.5-3.7v3.7m.5-4.5v4.2m.5-3.3v3.3m.5-2.9v3.1m.5-3.7v3.4m.5-3v3.7m.5-4.2v3.7m.5-3v3.1m.5-3.9v3.8m.5-3.6v3.3m.5-4.1v5m.5-3.6v3.2m.5-3.7v3.2m.5-3.1v3.9m.5-4v3.5m.5-4v4.3m.5-3.8v3.3m.5-4.4v4.5m.5-3.6v3.5m.5-3.5v3.9m.5-3.2v3.3m.5-4v3.8m.5-3.8v3.9m.5-3.7v5m.5-5.1v4m.5-4.2v3.6m.5-3.1v3.5m.5-3.8v3.5m.5-3.9v3.8m.5-3v3.5m.5-3.6v3.3m.5-3.3v3.8m.5-4.7v4.4m.5-3.6v3.1m.5-3v3.3m.5-3.8v3.5m.5-4.4v4.4m.5-3.8v4.3m.5-3.8v4.3m.5-4v3.7m.5-3.6v3.7m.5-3.6v3m.5-3.3v3.7m.5-3.7v3.6m.5-3.6v3.5m.5-3.2v3.5m.5-3.7v3.3m.5-3.6v3.6m.5-4.1v4.6m.5-4.1v3.5m.5-3.2v3.6m.5-4v3.4m.5-3.5v3.8m.5-3.6v4m.5-3.8v3.1m.5-3.1v4.5m.5-4.5v3.6m.5-3.8v3.5m.5-3.7v3.5m.5-3.4v4m.5-3.4v3.5m.5-3.5v3.6m.5-3.9v3.2m.5-3.3v3.5m.5-3.1v3.5m.5-3.8v4.5m.5-4.4v3.5m.5-3.5v3.2m.5-3.4v3.2m.5-2.9v4m.5-4v3.3m.5-3.4v3.6m.5-3.7v3.6m.5-4.2v3.8m.5-3.6v4m.5-4.5v4.5m.5-5v4.6m.5-2.9v3.2m.5-3.6v4m.5-4.5v4.6m.5-3.8v3.7m.5-4.8v5.6m.5-5.9v4.6m.5-3.7v3.5m.5-3v3.1m.5-3.5v3.4m.5-3.2v3.7m.5-3.9v3.4m.5-3.1v3.6m.5-3.9v3.7m.5-4v3.7m.5-3.5v3.5m.5-3.8v4.1m.5-3.4v3.6m.5-4v4.4m.5-4.4v4.7m.5-4.8v4m.5-5.3v5.9m.5-4.8v4.6m.5-4.9v4.4m.5-4v3.9m.5-3.5v3.3m.5-3.8v4.3m.5-3.9v3.7m.5-4v4.3m.5-4v3.5m.5-3.6v4.7m.5-4.6v4m.5-4.9v4.7m.5-3.8v4.2m.5-4.4v5.9m.5-6.8v5.2m.5-4.7v6m.5-6.1v5.1m.5-6v5.6m.5-5.2v6m.5-5.2v4.7m.5-5.3v5.7m.5-5.2v5.5m.5-5.8v4.9m.5-4.8v5.7m.5-5.2v5.1m.5-6.9v7.2m.5-6v7.1m.5-8.6v7.7m.5-6.8v9.9m.5-9.8v6.6m.5-6.6v6.5m.5-6.6v8.7m.5-8.8v8.3m.5-8.5v6.5m.5-6.2v6.9m.5-6.7v8.5m.5-9.8v8.1m.5-11v11.8m.5-8.7v11.2m.5-11.4v12.7m.5-21.2v18.5m.5-13.1v14.1m.5-14.5v13.2m.5-9.9v13m.5-17.3v14.2m.5-18.1v17.4m.5-12.5v14.1m.5-15.9v20m.5-15.7v20.2m.5-23.9v18.7m.5-15.5v19.9m.5-20.6v13.7m.5-12.5v11.5m.5-13.4v22.5m.5-21.3v13.2m.5-12.8v11.3m.5-13.4v19.8m.5-18.9v14.1m.5-13.7v12.7m.5-11.8v15.9m.5-19.5v28.7m.5-29.2v18.2m.5-17.1v15.5m.5-15v16.7m.5-17.7v18.6m.5-16.7v17.7m.5-28.7v26.1m.5-13.9v15.7m.5-21.1v21.1m.5-23.9v22m.5-17.4v17.6m.5-17.3v19.9m.5-18.7v14.7m.5-14v15.2m.5-15.5v17.9m.5-21.7v19.2m.5-14.9v13.7m.5-12.7v13m.5-17.8v19.3m.5-15.2v16.6m.5-19.7v17.5m.5-14.7v24.9m.5-24.6v14.8m.5-15.6v19.4m.5-18.4v19.1m.5-24.3v17.9m.5-25.7v28m.5-19.2v22.6m.5-17.8v12.8m.5-13.1v13.5m.5-15.1v13.9m.5-14.4v17.8m.5-30.1v27m.5-14.5v21m.5-20.5v15.1m.5-13.4v13.4m.5-13.5v16.3m.5-24.4v21.3m.5-13.4v18.2m.5-20.8v17.2m.5-16.6v18.4m.5-18.6v14.6m.5-12.8v12.2m.5-12.5v18m.5-22.6v21.9m.5-17.4v17.6m.5-17.5v15.8m.5-19.4v16.4m.5-14.3v16m.5-15.5v21.4m.5-24.8v18.4m.5-13.5v13.7m.5-14.1v15.1m.5-13.8v11.6m.5-21v26.8m.5-18v12.6m.5-15.2v14.1m.5-13.4v16.4m.5-15.3v12.5m.5-13.1v15.6m.5-14v11.3m.5-10.7v18.6m.5-19.6v12.9m.5-17.9v16.6m.5-14v15.3m.5-15v15.8m.5-12.3v12.2m.5-13v15.7m.5-15.3v13.6m.5-15.1v14.4m.5-17.4v18.4m.5-13.8v12.7m.5-16v14.9m.5-13.3v18.5m.5-17.2v13.5m.5-13.5v12m.5-12.8v11.8m.5-12.5v16.8m.5-14.4v9.8m.5-9.4v10.3m.5-16.1v15.9m.5-12.8v18.8m.5-17v9.7m.5-10v11m.5-11.1v10.2m.5-8.9v9.1m.5-14.8v14.3m.5-10.6v13.4m.5-11.1v8.8m.5-9.7v8.7m.5-7.1v10.9m.5-10.8v9.9m.5-10.2v7.8m.5-7.6v7.3m.5-8.3v8.8m.5-8.1v7m.5-7v8.5m.5-8.3v6.5m.5-7.3v6.9m.5-6.3v7.5m.5-7v8.1m.5-10.8v10.1m.5-7.3v8.1m.5-7.9v5.7m.5-5.9v8.2m.5-8.1v6.3m.5-6.6v6.2m.5-5.7v5.1m.5-4.3v5.1m.5-6.1v5.7m.5-4.8v4.4m.5-5.1v6m.5-4.9v3.6m.5-4.1v4.8m.5-5.4v9.3m.5-9.7v5m.5-3.8v4.4m.5-4v3.9m.5-4v4.5m.5-4.4v3.8m.5-5.9v5.7m.5-3.8v4.1m.5-4.6v4.6m.5-4.1v3.8m.5-3.7v3.8m.5-5.4v5.1m.5-3.7v4.8m.5-4.5v4.1m.5-4.7v4.1m.5-3.6v4.8m.5-5.1v4.8m.5-4.7v4.3m.5-4.9v6m.5-9.3v7.7m.5-4.1v4.7m.5-4.7v5.2m.5-5.6v4.5m.5-3.8v4.3m.5-5.4v6m.5-5.3v4.6m.5-4.5v5m.5-4.7v4.4m.5-5v4.6m.5-4.6v5.2m.5-4.8v4.5m.5-4.4v4.1m.5-4.4v4.4m.5-3.6v3.3m.5-4.6v5.7m.5-4.6v4.8m.5-5.2v4.1m.5-3.5v4.6m.5-4.9v5.1m.5-5.7v4.3m.5-4.3v4.6m.5-3.9v3.4m.5-4.2v5m.5-5.2v5.4m.5-4.5v3.7m.5-3.8v4.2m.5-4.6v4.4m.5-4.1v4.2m.5-3.7v3.4m.5-3.5v3.6m.5-3.7v4.1m.5-4.5v3.8m.5-3.6v4.7m.5-5.7v4.7m.5-4.5v4.8m.5-3.7v3.8m.5-4.3v5.8m.5-6v4.3m.5-4.7v4.8m.5-5.6v6.1m.5-4.4v5.9m.5-6.9v5.2m.5-4.6v5.3m.5-6.2v5m.5-4.8v5.2m.5-4.6v4m.5-3.1v3.2m.5-3.8v4.2m.5-4.1v3.9m.5-3.6v4.8m.5-5v4.5m.5-5.6v5.3m.5-4v7.5m.5-7.6v3.9m.5-4.4v4.3m.5-4.6v4.2m.5-4.5v4.7m.5-4.3v4.2m.5-3.4v3.4m.5-4.3v4.4m.5-3.6v4m.5-4.2v3.8m.5-3.6v4.4m.5-4.7v4.5m.5-5.4v5.5m.5-4v3.4m.5-4.7v4.6m.5-3.7v3.7m.5-3.9v3.7m.5-4.2v4.4m.5-3.4v3.3m.5-3.6v3.4m.5-4.1v4.4m.5-7.6v9m.5-6.3v5.3m.5-4.1v4m.5-3.8v3.7m.5-4.9v4.9m.5-3.5v4.2m.5-4.4v3.2m.5-3v3m.5-3.1v3.1m.5-4v4.2m.5-3.8v3.8m.5-3.7v3.6m.5-3.4v3.9m.5-4.2v4.1m.5-4v3.5m.5-4.6v4.9m.5-3.6v4.3m.5-5.3v5.1m.5-5v4.3m.5-3.7v3.8m.5-3.6v4.2m.5-4.8v4.7m.5-3.7v3.1m.5-3.1v4.4m.5-4.8v3.7m.5-3.2v3m.5-3.8v4.8m.5-4.7v4.1m.5-4v3.9m.5-4.3v4.3m.5-3.6v3.4m.5-3.6v3.9m.5-4v3.5m.5-4.2v4.6m.5-3.7v3.3m.5-3.2v4m.5-4v3.4"/><path stroke="#000" stroke-width="2.4" d="M229.4 252.2V283.7"/><path stroke="#000" stroke-width="1" fill="none" d="M290.3 266v2.2m.5-3.5v3.1m.5-2.1v2m.5-1.7v1.8m.5-1.9v2m.5-2.2v2.1m.5-1.8v2m.5-2.4v2.5m.5-2.2v1.9m.5-2.2v2.5m.5-2.5v2m.5-1.9v2.4m.5-2.2v2.1m.5-2.6v2.5m.5-2.1v1.9m.5-2.2v2.4m.5-2.2v2m.5-1.9v2.1m.5-2.5v2.3m.5-1.9v2.8m.5-2.8v1.9m.5-1.9v2.2m.5-2.4v2.4m.5-2.4v2.2m.5-2.2v2.9m.5-2.6v2m.5-2.4v2.5m.5-2.2v2.6m.5-2.6v2.7m.5-3.3v2.6m.5-2.2v2.2m.5-2.2v2.1m.5-2.6v3.9m.5-3.2v2.3m.5-2.6v2.7m.5-3.1v2.8m.5-2v1.8m.5-1.9v2.2m.5-2.1v2.3m.5-2.7v2.8m.5-2.6v2.5m.5-2.9v2.6m.5-2.1v1.8m.5-2.6v3m.5-2.5v2.3m.5-2.7v3.1m.5-2.4v2.1m.5-2.4v2.9m.5-2.5v1.9m.5-2.3v2.3m.5-2.8v3.4m.5-2.7v2m.5-2.1v2.2m.5-2.2v2.3m.5-2.3v2.3m.5-2.5v2.5m.5-2.7v2.6m.5-2.8v2.9m.5-2.3v2.4m.5-3.2v3.2m.5-2.3v2m.5-1.8v2.2m.5-2.6v2.3m.5-2v2.2m.5-2.8v2.7m.5-2.3v2.3m.5-2.1v1.9m.5-2.3v2.4m.5-1.8v1.8m.5-2.1v2.9m.5-2.6v2.1m.5-2.3v2.5m.5-2.4v2.3m.5-2.3v2.3m.5-2.4v2.6m.5-2.6v2.2m.5-2.8v3.6m.5-3.6v3.8m.5-3.1v2m.5-2v2.1m.5-2.1v2.4m.5-2.9v3.2m.5-3v2.6m.5-3.2v2.8m.5-1.9v2m.5-3.2v3.4m.5-3v2.8m.5-2.8v3.7m.5-3.3v2.3m.5-2v2m.5-2.9v3.1m.5-2.2v2.4m.5-2.3v2.2m.5-2.6v3.4m.5-3.1v1.9m.5-2.2v2.8m.5-2.6v2m.5-2.1v2.6m.5-2.2v1.8m.5-1.9v1.8m.5-2.2v3.6m.5-3.2v2m.5-2.2v2.1m.5-2.1v2.4m.5-2.2v1.9m.5-2.5v2.6m.5-2.2v2.3m.5-2.9v2.6m.5-2.5v2.9m.5-2.5v2.8m.5-2.6v2.7m.5-2.9v2.3m.5-2.3v2.9m.5-3.1v2.4m.5-2.7v2.6m.5-2.9v3.7m.5-3.2v3.4m.5-3v3.3m.5-3.2v2.6m.5-3.1v3.1m.5-3.3v3.2m.5-3.1v4m.5-4.4v3.5m.5-3.2v3.1m.5-2.4v3m.5-3.5v2.9m.5-2.5v3.2m.5-3.1v3.2m.5-3.2v2.3m.5-2.7v2.9m.5-3.3v2.9m.5-2.3v2.7m.5-2.7v2.5m.5-2.3v2.5m.5-3.3v2.9m.5-2.6v2.8m.5-2.3v2.4m.5-2.8v2.6m.5-3.8v4m.5-2.9v2.5m.5-2.9v3.1m.5-2.5v2.9m.5-2.8v2.8m.5-2.6v2.2m.5-2.6v2.8m.5-3.2v3m.5-3.1v3.3m.5-2.7v2.9m.5-2.9v2.4m.5-2.7v2.8m.5-2.8v2.9m.5-3.3v4.3m.5-4.2v2.9m.5-2.6v3.6m.5-3.2v2.3m.5-2.4v2.5m.5-2.2v2.9m.5-3.5v2.7m.5-3.2v3.2m.5-2.8v3m.5-3.1v3.9m.5-3.8v2.8m.5-2.8v2.9m.5-2.6v2.9m.5-2.8v3m.5-3.9v3.8m.5-3.8v3.8m.5-3.1v2.8m.5-2.9v3.8m.5-4.1v4.2m.5-3.8v4.5m.5-4.6v3.4m.5-4.8v4.7m.5-3.1v3.8m.5-3.8v3m.5-3.5v3.9m.5-3.4v3.9m.5-4.8v4.8m.5-5.1v4.2m.5-4.2v5.3m.5-5.7v6.1m.5-4.9v3.4m.5-4.2v6.9m.5-5.8v3.3m.5-4.1v4.4m.5-4.2v4.7m.5-4.8v4.6m.5-4.2v4.2m.5-4.1v6.3m.5-8.1v5.5m.5-4.7v5.4m.5-4.5v3.9m.5-6v6.1m.5-5v6.4m.5-6.1v4.5m.5-4.2v5.6m.5-6.6v7.8m.5-7.8v6.9m.5-6.9v5.4m.5-5.8v6.6m.5-7.4v7.8m.5-7.3v7.5m.5-7.1v6.9m.5-9.5v9.9m.5-9.3v11.3m.5-9.8v8.6m.5-8v7.1m.5-9.2v8.7m.5-8.2v10.3m.5-12.3v11.9m.5-12.1v13.5m.5-11.6v10.2m.5-17.5v16.9m.5-8.5v12.1m.5-13v12.8m.5-12.7v10.7m.5-13.5v17.1m.5-14.8v11m.5-15.7v18m.5-18.3v18m.5-17.7v24.5m.5-30.6v25.9m.5-21.7v20.6m.5-24.7v30.6m.5-27.5v27.8m.5-25.5v27.8m.5-36.1v35m.5-32.1v35.6m.5-34.7v30.9m.5-39.8v43.3m.5-53.9v68m.5-64.8v58.5m.5-56.5v55.1m.5-60.3v56.1m.5-51.2v63.1m.5-66.1v62.1m.5-50.5v44.1m.5-42.7v38.7m.5-53.6v61.9m.5-49.8v45m.5-44.8v45.5m.5-45v36.9m.5-35.5v38.7m.5-31.1v32.8m.5-31v21.7m.5-23.1v32m.5-28.9v20.6m.5-19.6v16.8m.5-18.7v24.1m.5-21.7v14.9m.5-23.9v25.9m.5-18.8v15.9m.5-12.4v13m.5-12.2v11m.5-12.2v12.1m.5-13.5v13.9m.5-11.7v12m.5-9.9v8.1m.5-10.4v11.9m.5-11.7v9.8m.5-9.5v9.9m.5-7.7v7.6m.5-8.3v8.2m.5-10.8v14.2m.5-10.9v10.5m.5-14v12.1m.5-11.3v9.2m.5-7.5v9.4m.5-8.4v7.5m.5-10.6v11m.5-8.3v8.8m.5-10v8.7m.5-6.8v8.2m.5-9.8v11.2m.5-13.1v9.5m.5-8.2v10.2m.5-8.3v6.7m.5-7.4v8.5m.5-9.1v10.9m.5-9.4v6.1m.5-6.6v7.1m.5-5.9v6.2m.5-7.6v7.3m.5-5.9v7.1m.5-10.8v9.6m.5-6.2v8.3m.5-8v7.2m.5-9.1v8.2m.5-6.7v7.8m.5-8.1v6.3m.5-6.3v8.5m.5-8.6v5.9m.5-6.4v6.5m.5-6.9v7.7m.5-6.6v6m.5-5.4v6.7m.5-10.2v9.4m.5-6.9v6.4m.5-6.2v8.3m.5-7.9v6.6m.5-6.6v6.5m.5-6.4v6.2m.5-8.3v10.8m.5-8.4v5.4m.5-7.1v7.3m.5-5.4v5.9m.5-6.9v5.9m.5-7.6v7.9m.5-5.9v5.8m.5-7.5v10.9m.5-10.3v9.1m.5-7.5v4.9m.5-6.2v7.1m.5-7.8v7.1m.5-5.5v6.5m.5-7.2v6.4m.5-7.5v8.5m.5-7.6v6.6m.5-6.5v6.8m.5-5.5v5.7m.5-7.1v7.3m.5-7.5v6.7m.5-6.9v8.1m.5-6.2v5.2m.5-6.1v7.8m.5-7.1v6.4m.5-6.4v6.3m.5-7.8v7.7m.5-7.2v10m.5-10.1v9m.5-8.9v8.8m.5-8v7.8m.5-7.6v5.1m.5-8.1v8.4m.5-7.7v7.9m.5-7.1v7.2m.5-6.7v7.5m.5-6.9v6.2m.5-7.4v7.9m.5-6.5v5.2m.5-5.5v6.3m.5-5.6v5.2m.5-5.9v5.6m.5-5.8v6.6m.5-6.1v5.7m.5-7v7.7m.5-7.2v6.7m.5-6.1v5.9m.5-7.1v7.9m.5-6.4v5.1m.5-5.5v6.6m.5-7.3v6.8m.5-6.5v6m.5-5.3v5.1m.5-6.9v7.3m.5-5.2v6.1m.5-8.3v7.7m.5-5.9v6.4m.5-6.9v6.7m.5-6.3v7.4m.5-7.7v5.7m.5-4.9v6m.5-5.9v8m.5-8.9v5.6m.5-4.6v4.9m.5-6.5v6.5m.5-5.2v5.9m.5-5.6v5.5m.5-6.8v6m.5-7.3v8m.5-5.8v5.5m.5-5.9v6.2m.5-8v8.9m.5-7.7v6.8m.5-6.1v5.5m.5-5.9v6.3m.5-7.6v7.4m.5-5.3v6.8m.5-6.9v5.3m.5-5.6v5.4m.5-5v6.6m.5-9v7.5m.5-7.1v8.4m.5-6.8v6.4m.5-6.2v5.9m.5-6.3v6.2m.5-5.5v5.3m.5-6.5v6.1m.5-6.8v7.3m.5-6.4v5.8m.5-5.6v6m.5-5v5m.5-6.5v7.4m.5-8.1v7.3m.5-6v7.6m.5-7.7v6.4m.5-6.2v5.6m.5-5.5v5.8m.5-5.2v5.8m.5-6.6v5.7m.5-5.4v7.6m.5-10.7v8.8m.5-6v6.1m.5-6.2v7.2m.5-8.2v7.3m.5-6.2v6.1m.5-5.3v5.2m.5-6.5v9.1m.5-8v5.1m.5-5.5v5.6m.5-5.6v5.8m.5-6.3v5.8m.5-4.8v6.1m.5-8.3v7.1m.5-5.8v7.3m.5-6.7v6.4m.5-9.9v9.8m.5-6.4v6.1m.5-7.4v7.2m.5-5.9v8m.5-8.1v6.5m.5-6.6v6.9m.5-6.3v5m.5-6.1v7.1m.5-6.2v6.7m.5-7.1v7.2m.5-8v7.4m.5-7v6.1m.5-5.6v5.3m.5-5.1v7.1m.5-8.2v6.9m.5-5.9v6.2m.5-7.1v8.7m.5-9.2v8.4m.5-8.6v10.9m.5-8.9v7.1"/><path stroke="#000" stroke-width="2.2" d="M472.5 252V284"/><path stroke="#000" stroke-width="0.9" fill="none" d="M47.8 469.3v3.1m.5-3.1v3.1m.5-3.3v2.7m.5-2.7v2.7m.5-2v2.3m.5-2.4v3.8m.5-5v3.3m.5-2v2.5m.5-2.8v2.8m.5-2.9v3.2m.5-2.9v2.7m.5-3.1v3.2m.5-2.4v3.2m.5-4.9v4.6m.5-3.1v3.4m.5-3.5v2.1m.5-2.2v3.5m.5-3.8v3.7m.5-3.9v4.2m.5-4.2v3.1m.5-2.4v3.3m.5-3.8v3.5m.5-3.8v2.8m.5-2v2.5m.5-3.7v4.5m.5-3.5v2.5m.5-2.3v2.9m.5-2.8v2.6m.5-3.5v3.8m.5-3.1v3.5m.5-4.8v4.1m.5-2.7v2.5m.5-2.9v3.2m.5-3.1v2.7m.5-3.6v3.3m.5-2.1v2.8m.5-3v3.3m.5-3.3v2.4m.5-2.2v2.5m.5-3v3.3m.5-2.6v2.4m.5-2.5v2.4m.5-3.1v4.1m.5-4.5v3.6m.5-2.9v4m.5-5.3v4.1m.5-3.4v5m.5-4.3v2.2m.5-3.2v4.2m.5-3.8v3.4m.5-2.7v3m.5-4.2v4.7m.5-3.7v3.5m.5-4.2v3.4m.5-2.6v4.4m.5-4.1v2.5m.5-3.8v3.5m.5-2.3v2.2m.5-2.5v2.9m.5-4.6v5.5m.5-3.8v3.1m.5-4.4v4.5m.5-2.9v2.6m.5-3.4v3.9m.5-4.1v3.1m.5-2v3.8m.5-4.3v2.6m.5-2.7v3.6m.5-3.8v3.8m.5-5.2v4.9m.5-3.4v3.8m.5-3.8v4.4m.5-4.9v3.5m.5-3.9v4m.5-2.7v3.4m.5-3.6v2.9m.5-2.6v3.6m.5-3.5v2.5m.5-3.2v3.6m.5-3.5v3.9m.5-4.5v5.2m.5-4.7v3.3m.5-4.2v4.6m.5-4.1v4.6m.5-6.1v5.4m.5-3.4v3.2m.5-2.8v2.6m.5-2.8v3.2m.5-4.2v4.5m.5-3.5v4m.5-4.6v7.9m.5-8.4v5m.5-4.1v3.2m.5-2.9v2.9m.5-4.1v4.6m.5-5v8.9m.5-9v4.6m.5-5.1v9.4m.5-9.6v8.4m.5-6.4v4.1m.5-4v4.8m.5-6v5.4m.5-4.7v6.1m.5-7.2v6.8m.5-6.7v6m.5-5.5v5.2m.5-6.4v9.5m.5-7.5v6.6m.5-7.1v5.2m.5-5.6v5.6m.5-5.5v6m.5-8.9v7.9m.5-7v8.8m.5-9v8.2m.5-6.7v5.9m.5-5.6v7.2m.5-11.6v9.7m.5-6.8v8.7m.5-7.4v5.7m.5-4.6v5.1m.5-5.1v8.1m.5-10.5v8.5m.5-8v6.7m.5-5.1v5.6m.5-8.1v8.7m.5-7.6v6.7m.5-8.2v10.2m.5-7.6v5.4m.5-5.9v6.4m.5-7.4v11.3m.5-9.6v10.2m.5-12.2v8.1m.5-6.5v7m.5-7.2v8m.5-7.3v5.2m.5-7.4v8.1m.5-8.7v8.5m.5-7v6.4m.5-11.7v13.8m.5-9.3v9.6m.5-10.8v9.8m.5-7.1v8.1m.5-10.3v8m.5-6.4v8.8m.5-8.6v6.5m.5-6.5v7.1m.5-11.7v14.4m.5-14.7v11.5m.5-8.4v8.5m.5-6v7.8m.5-8.3v6.7m.5-8.2v10.2m.5-11.4v11m.5-13.4v14.8m.5-9.6v11.8m.5-12.5v7.1m.5-8.1v10.1m.5-10.5v11m.5-10.1v11.1m.5-10.1v8.8m.5-8.7v8.1m.5-9.9v9m.5-7.9v8.4m.5-9.3v11.5m.5-11.8v16.6m.5-17.6v11.3m.5-11.9v14m.5-10.6v8.9m.5-11.5v9.5m.5-8.1v9.2m.5-8.6v10.6m.5-9.9v8.9m.5-9.1v11.1m.5-15.8v11.5m.5-6.6v7.4m.5-11.5v11.3m.5-12.3v11.9m.5-12.3v12.4m.5-6.9v8.8m.5-10.6v11.1m.5-12.9v11.9m.5-11.3v13.8m.5-15.7v12.6m.5-11v10m.5-9.5v11.1m.5-9.7v8.7m.5-11.4v11.5m.5-12.5v15m.5-11.7v13m.5-12.3v10.4m.5-10.2v11.4m.5-12.7v12.9m.5-11.6v12.7m.5-12v8.6m.5-10.9v11.4m.5-11.4v10.6m.5-10.2v13.3m.5-12.6v8.1m.5-6.8v12.2m.5-14.6v10.6m.5-11.1v14.5m.5-13v13.6m.5-15.5v16.3m.5-13.2v9.4m.5-15.3v15.1m.5-10v8.3m.5-9v11.5m.5-11.4v15m.5-15.5v9.4m.5-9.4v10.3m.5-11.3v11.7m.5-12.9v12.5m.5-16.3v15.9m.5-12.8v15.5m.5-17.1v13.7m.5-10.8v14.3m.5-15.8v14.8m.5-11.4v9.8m.5-10.6v11.4m.5-19.3v20.9m.5-11.8v10.8m.5-14.6v14m.5-10.5v11.1m.5-11.1v9.6m.5-8.4v10m.5-13.3v14.2m.5-15.7v18.6m.5-18.4v16.7m.5-12v8.2m.5-9.1v9.1m.5-8.5v8m.5-8.3v11m.5-10.2v11.9m.5-11.7v9.6m.5-11.9v12m.5-14.3v12.8m.5-11.4v11.9m.5-11.7v13m.5-13.8v13.7m.5-10v7.6m.5-8.1v8.8m.5-8.2v9.5m.5-14.4v11.7m.5-13.4v15.9m.5-10.7v10.5m.5-10.8v10.4m.5-9.5v8.2m.5-8.5v10.5m.5-15.4v14.9m.5-15v17.3m.5-12.1v9m.5-8.3v8.9m.5-13.4v12.7m.5-10.7v14.3m.5-14v10.5m.5-8.9v11.9m.5-14.2v11.8m.5-12.4v12.4m.5-11.1v13.4m.5-12v10.8m.5-13.9v14m.5-10.8v11.7m.5-12.1v14.3m.5-17.2v11.2m.5-7.4v7.9m.5-10.2v14.6m.5-16.1v11.6m.5-8.3v14.4m.5-19.5v14.5m.5-9.5v8.4m.5-8.2v10.1m.5-10.1v8.1m.5-11.3v11.8m.5-10.2v9.7m.5-10.8v14.9m.5-11.9v10m.5-11v8.8m.5-9.8v14.6m.5-16.8v15.4m.5-19.3v17.4m.5-11v9.3m.5-11.4v13.4m.5-9.5v9.3m.5-14.2v13.3m.5-9.2v13.4m.5-15.9v15.9m.5-13.9v11.7m.5-15.3v15.1m.5-11.1v11.8m.5-12v12.2m.5-11v9.3m.5-12.3v13.8m.5-15.5v14.9m.5-12.6v15.3m.5-16.4v12m.5-11.7v10.3m.5-12.6v18m.5-15.8v12.6m.5-12.1v13.2m.5-10.2v7.6m.5-8v13.8m.5-16.6v10.3m.5-9v11.8m.5-11.1v11.6m.5-13.4v11.4m.5-10.6v9.2m.5-7.9v8.3m.5-12.3v15.9m.5-14.7v11m.5-10v13.4m.5-14.7v13m.5-9.7v14.1m.5-15.8v11.3m.5-9v10.1m.5-15.5v17.1m.5-13.8v10.6m.5-8.7v12m.5-13.6v10.4m.5-11.5v12m.5-11.5v11.4m.5-10.4v12.8m.5-12.5v9.6m.5-9.1v8.9m.5-8.9v12.9m.5-17.3v16m.5-11.9v8.5m.5-10.1v9.5m.5-9.1v11.2m.5-11.9v11.9m.5-10.2v8.5m.5-9.7v9.4m.5-12.3v12.5m.5-9.8v12.5m.5-13.7v11.9m.5-9.1v10.2m.5-9.3v14.1m.5-16.9v13m.5-12v13.8m.5-14.9v10.6m.5-9.4v9.1m.5-11.6v17.8m.5-16.3v10.6m.5-10.5v10.2m.5-12.2v12m.5-8.6v11.4m.5-13.1v10.3m.5-8.7v9.5m.5-11.9v12.8m.5-12.7v12.6m.5-14.5v13.5m.5-9.9v14.3m.5-15.8v13.3m.5-11.6v13.2m.5-12.2v10.5m.5-13.1v10.5m.5-7.5v10.1m.5-9.9v10m.5-13.6v12.3m.5-12.1v12.6m.5-11.8v15.4m.5-13.8v8.2m.5-10.5v13.4m.5-10.2v10.8m.5-12.5v13m.5-17.8v17.8m.5-15.2v12.6m.5-14.6v14.5m.5-10.8v12.4m.5-10.6v9.9m.5-12.3v11.3m.5-10v15.3m.5-14.6v9.1m.5-13.3v13.3m.5-12.8v12m.5-9.9v15.1m.5-18.4v14.6m.5-14v13.6m.5-9v12.1m.5-11.7v9.3m.5-12.8v13m.5-12v12.5m.5-15.5v12.8m.5-9.2v9.7m.5-9.9v10.3m.5-10.8v11.1m.5-8.5v10.7m.5-15.5v18.1m.5-13.1v10.1m.5-12.2v9.6m.5-10.3v13.5m.5-12v13.3m.5-14.4v15.3m.5-12.6v6.9m.5-10.8v12.8m.5-11.7v10.6m.5-10v9.2m.5-10v14.7m.5-12.7v7.8m.5-8.9v13.8m.5-12.5v9.5m.5-11.5v9.8m.5-9.8v11.5m.5-8.7v8.3m.5-16.9v19.6m.5-12.8v12.6m.5-16.3v17m.5-13.1v10m.5-10v10.9m.5-11.5v16.2m.5-14.4v11.2m.5-14.5v10.5m.5-9.1v11.4m.5-9.5v9m.5-10.7v10.1m.5-12.2v11.1m.5-10.4v11.4m.5-12v12.4m.5-9v9.5m.5-11.5v11.3m.5-9.9v8.1m.5-7v11m.5-11.4v8.4m.5-15.6v23.1m.5-20.4v14.5m.5-10.2v7.7m.5-12.2v13.2m.5-8.8v11.1m.5-12.1v14m.5-13.1v10.2m.5-10.8v11.5m.5-15v16.7m.5-12.5v9.6m.5-13.3v11.8m.5-11.4v13.3m.5-9.3v9.4"/><path stroke="#333" stroke-width="0.6" d="M92 464.3V474.4M92.9 462.7V474.8M95.6 467.1V473.8M96.5 467.5V475.4M98.3 466V475.6M100.1 463V479.2M101 465V475.7M102.8 465V476.1M103.7 467V478.5M105.5 460.6V477M106.4 465.2V475.7M107.3 464.7V474.9M109.1 460.1V477.1M110 466V479.1M111.8 466.7V482.1M112.7 465V476.9M114.5 462.5V476.5M117.2 465.3V482.1M119.9 449.4V478.5M121.7 465.7V478.3M123.5 447.5V481.7M124.4 464.8V478.5M126.2 459.1V492M127.1 465.2V480.5M128.9 449.5V479.2M129.8 458.8V478.3M130.7 465.2V485.2M131.6 447.7V477.6M134.3 458.7V483.2M135.2 458.1V476.9M136.1 454.4V477.5M137 456.3V485.2M137.9 460.2V481.1M138.8 458V477.3M139.7 451.6V484.1M141.5 461V482.6M143.3 459.9V479.2M144.2 461.7V478M146.9 453.3V481.4M147.8 455.6V480.2M149.6 464.2V484.8M151.4 464.1V481.2M153.2 463.4V480.3M154.1 462.8V483.2M155.9 458.3V481.2M158.6 464.5V480.5M159.5 449.7V477.6M162.2 461.2V478.8M167.6 461V478.4M168.5 463.4V482.4M171.2 462.3V478.6M173 459.5V480.5M173.9 463.2V477.7M175.7 463.5V485.3M176.6 457.5V477.8M177.5 463.3V487.2M179.3 463.8V479.3M180.2 464.8V479.4M181.1 457.2V485.5M182 464V480.3M183.8 453.3V477.3M184.7 456.8V479.9M189.2 462.4V478.3M191.9 460.7V479.9M192.8 447.9V477.2M194.6 459.7V477.8M195.5 459.7V490.6M196.4 458.7V478.2M197.3 451.3V484.6M198.2 462.7V480M200 458.5V482.7M200.9 447.5V482.1M201.8 453.1V483.4M202.7 457.8V482.2M203.6 460.2V494.5M204.5 457.9V481M205.4 464.7V492.9M210.8 462.8V484.2M213.5 460.7V485.4M214.4 464.7V479M215.3 448.9V487.1M217.1 461.7V486.7M218 459.2V481.3M218.9 453.1V479.3M219.8 452.7V479.4M220.7 463.4V479M222.5 461.1V486M223.4 447.5V480.3M227.9 461.7V477.4M228.8 461.9V478.1M230.6 462.7V479.2M232.4 457.2V478.1M233.3 464.7V488M235.1 462.7V485.1M236 462.2V482M237.8 463.5V477.6M238.7 464.9V478.6M240.5 462.5V486.3M242.3 447.5V482.6M244.1 463.8V478.3M245 461.1V482.2M247.7 464.3V477.1M248.6 454.4V481.6M249.5 458.9V483.4M250.4 460.9V494.5M254 462.4V493M259.4 463V484.4M260.3 464.4V480.2M261.2 463.2V482.6M262.1 447.5V479M263.9 461V480.1"/><path stroke="#000" stroke-width="0.9" fill="none" d="M290.3 470.5v1.5m.5-1.5v1.5m.5-1.4v1.4m.5-1.2v1.8m.5-1.9v1.9m.5-1.9v1.3m.5-1.4v1.4m.5-1.2v1.4m.5-1.2v1.5m.5-1.5v1.3m.5-2.1v1.9m.5-1.5v1.8m.5-1.6v1.4m.5-1.6v2m.5-1.6v1m.5-2.1v2.1m.5-1.2v1.3m.5-1.4v1.3m.5-1.5v1.6m.5-1.5v1.9m.5-1.7v1.2m.5-1v1.5m.5-2.3v2.3m.5-2.2v2.5m.5-1.8v1.5m.5-1.5v1.2m.5-1.3v1.9m.5-1.8v1.3m.5-1.5v1.4m.5-1.3v1.2m.5-1.5v1.4m.5-1.8v1.8m.5-2.3v2.5m.5-1.4v1.6m.5-2v1.6m.5-1.2v2m.5-1.9v1.5m.5-1.6v1.2m.5-1.6v2m.5-2v2.1m.5-1.5v1.6m.5-2.4v2.5m.5-2.1v2m.5-1.6v1.3m.5-1.3v1m.5-1v1.2m.5-1.2v1m.5-1.4v1.6m.5-2.6v3.2m.5-1.8v1.2m.5-1.2v1.2m.5-1.2v2m.5-2.2v1.9m.5-2.1v1.6m.5-1.4v2.4m.5-2.7v2m.5-1.5v1.3m.5-1.3v1.1m.5-2.1v2m.5-1.1v1.6m.5-1.5v1.5m.5-1.5v1.6m.5-2.5v2m.5-2.2v2.1m.5-2.1v2.5m.5-1.5v1.5m.5-1.7v1.5m.5-1.3v1.6m.5-2v2m.5-2.3v1.8m.5-1.1v1.4m.5-1.3v1.2m.5-1.2v1.6m.5-2.5v2.3m.5-1.4v1.2m.5-1.3v1.5m.5-2.2v2.3m.5-1.5v1m.5-1.6v1.8m.5-1.2v1m.5-1.5v1.5m.5-1.9v2m.5-2.3v3.1m.5-2.2v2.1m.5-2.7v1.9m.5-1.7v2.1m.5-1.6v1.3m.5-2v3.1m.5-3.3v2.5m.5-1.8v1.9m.5-2.3v1.8m.5-1.2v1.8m.5-2.9v2.3m.5-1.1v1.4m.5-1.6v1.3m.5-1.7v1.7m.5-1v1.3m.5-2.1v1.9m.5-1.5v1.8m.5-2.7v2.6m.5-1.4v1.7m.5-1.9v1.3m.5-1v1.2m.5-2.1v2m.5-1.1v2m.5-2v1.8m.5-2v2.5m.5-2.4v1.6m.5-1.5v1.2m.5-1.7v1.7m.5-1.4v1.3m.5-2v2.4m.5-2v1.7m.5-1.4v1.3m.5-1.5v1.9m.5-2.7v3.1m.5-1.9v1m.5-1.9v1.9m.5-1.1v1.3m.5-1.2v1.1m.5-1.3v1.5m.5-1.4v1.2m.5-2v2.4m.5-2.2v2.3m.5-2.8v2.8m.5-1.8v2.3m.5-2.3v2m.5-2.2v2.1m.5-1.7v1.4m.5-1.5v1.8m.5-1.9v2m.5-1.8v1.3m.5-2.5v2.4m.5-1.3v1.4m.5-2.1v2m.5-1.7v1.6m.5-2.2v2.3m.5-2.9v3.1m.5-1.6v1.8m.5-1.7v1.5m.5-2.5v3m.5-2.5v2.3m.5-1.7v1.5m.5-1.5v1m.5-2v2.8m.5-2.4v1.9m.5-1.3v1.5m.5-1.6v1.1m.5-1.1v2m.5-1.9v1.5m.5-2.4v2.7m.5-2v1.2m.5-1.2v1.2m.5-1.4v1.4m.5-2.1v2.4m.5-1.3v2.1m.5-2.1v1.1m.5-2.7v2.8m.5-2.1v2.2m.5-1.8v1.6m.5-1.8v1.8m.5-2v2.5m.5-2.3v1.9m.5-1.6v1.8m.5-2.3v2.1m.5-2.5v2.3m.5-1.9v3.1m.5-3.4v2.4m.5-1.8v1.6m.5-1v1.5m.5-2.3v2.1m.5-2.2v2.7m.5-2.2v1.4m.5-1.3v1.6m.5-1.7v1.8m.5-2.3v2.3m.5-1.5v2.7m.5-3.2v1.6m.5-1v1.1m.5-1.2v1.1m.5-2v2.8m.5-2.1v2.2m.5-2.2v2.8m.5-3.4v3.6m.5-2.9v1.9m.5-2.2v2.8m.5-3.5v4.5m.5-4.1v2.9m.5-2.4v1.9m.5-2.2v2.4m.5-4v4.2m.5-3.5v3.1m.5-4.4v5.1m.5-4.3v6m.5-7.4v7.7m.5-5.5v3.7m.5-3.3v5.1m.5-6.8v7.9m.5-6.4v5.5m.5-8.3v8.2m.5-9v8.6m.5-10.6v10.9m.5-7.1v8.4m.5-10.2v9.6m.5-8.2v8.3m.5-10.6v13.2m.5-13.1v10.6m.5-7.1v4.3m.5-7.9v12.8m.5-8.7v4m.5-8.8v13.1m.5-8.7v7m.5-7.7v10.7m.5-13.7v13.5m.5-9.7v8.4m.5-13.1v14.8m.5-11.1v5.6m.5-5.4v18m.5-17.9v6m.5-14.8v17.7m.5-11.5v11.9m.5-15.6v19m.5-15.2v11.6m.5-11v13.1m.5-14.9v13.7m.5-14.9v11m.5-26v27.8m.5-16.6v18.4m.5-11.6v9.8m.5-16.2v14.8m.5-10.3v12.8m.5-13.6v13.4m.5-21v21.8m.5-11.2v12.2m.5-18.1v15.7m.5-10.5v9.5m.5-12.2v12.7m.5-17.3v16.8m.5-13.7v17.3m.5-22.7v20.1m.5-12.1v13.5m.5-11.7v12.5m.5-15.8v16.7m.5-17.5v17m.5-20v31.7m.5-23v9.4m.5-14.1v12.8m.5-19.1v23.7m.5-12.2v9.1m.5-17.4v16.6m.5-10.6v8.2m.5-12.5v15m.5-16.2v17.7m.5-11.9v15.6m.5-18v10m.5-5.9v7.2m.5-7.5v8.8m.5-13.9v13.1m.5-8.9v6.9m.5-7v7.7m.5-13.5v14.7m.5-14.2v13.4m.5-13.3v13m.5-5.7v5.7m.5-6.8v6.5m.5-7.7v7.4m.5-8v8.9m.5-8.9v15.3m.5-15.9v11.2m.5-9v10.1m.5-9.5v7m.5-9.1v11m.5-8.8v13.7m.5-17.9v9.7m.5-7.4v10.9m.5-12.3v11.1m.5-8.3v10.3m.5-10.2v7.1m.5-7.7v8.2m.5-10.9v12.7m.5-8.3v7.9m.5-7.8v5.7m.5-7.1v6.6m.5-5v8.8m.5-10.9v19.3m.5-28v15m.5-7.8v10.9m.5-8.5v6.1m.5-7.3v9.2m.5-11.1v8.4m.5-7.1v12.7m.5-11.3v5.7m.5-8.1v11.8m.5-12.5v13.8m.5-12.3v9m.5-5.9v4.1m.5-4.2v4.1m.5-6.7v11.2m.5-17.4v15m.5-10.5v11.3m.5-7v7.9m.5-7.8v5.9m.5-10v14m.5-11.3v6.9m.5-8.5v9.4m.5-10.9v9.1m.5-9.6v13.5m.5-12.2v9.9m.5-9.1v9.2m.5-6.7v11.1m.5-14.5v7.8m.5-4v6.9m.5-6.6v4.1m.5-7.5v8.2m.5-6.5v6.8m.5-10.3v9.8m.5-6.2v9.1m.5-11.6v8.8m.5-7.3v9.1m.5-13.4v11.3m.5-5v5.3m.5-5.8v7.4m.5-7.5v5.8m.5-9.2v14m.5-14.5v10.2m.5-5.4v4.9m.5-7.8v8m.5-5.4v5.7m.5-7.8v9.6m.5-7.7v7.8m.5-8.3v4.9m.5-4.5v6.1m.5-8.1v11.7m.5-9.5v4.8m.5-4.3v9.5m.5-9.7v5m.5-5.6v8.5m.5-9.6v7.4m.5-5.2v3.4m.5-6.4v8.7m.5-10v9.1m.5-5.3v4.4m.5-5.3v7.3m.5-6v5.9m.5-8.9v7.9m.5-8.4v8.1m.5-5.3v7.7m.5-17v16.6m.5-9.7v8.1m.5-5.7v7.5m.5-8.1v5.4m.5-5.5v6.2m.5-7.9v7.4m.5-6.8v5.9m.5-6.1v8.5m.5-9.6v7.7m.5-5.2v7.5m.5-7.5v6.5m.5-4.9v7.5m.5-12.9v8.5m.5-3.2v3.5m.5-4.9v6.8m.5-6.8v5.3m.5-12.7v13.5m.5-5.1v10.7m.5-13.2v8.8m.5-7.4v8m.5-8.9v7.4m.5-9v13.1m.5-14v7.9m.5-3.3v3.6m.5-5.2v8.3m.5-7.6v6.6m.5-8v8.7m.5-8.7v11.9m.5-10v9.2m.5-10.2v8m.5-7v12.3m.5-14.9v8.3m.5-6v6.2m.5-5.2v4.5m.5-5.7v5.3m.5-6.9v7.7m.5-5.4v3.7m.5-7.5v9.3m.5-5.9v5.5m.5-5.9v7.2m.5-5.7v4.3m.5-5.2v7.8m.5-10.7v7.7m.5-5v5.2m.5-5.2v7.1m.5-7.3v7.8m.5-7.6v4.5m.5-3.6v3.1m.5-4.5v8m.5-7.1v4m.5-4.8v5.3m.5-4.4v6m.5-6.2v6.4m.5-6.4v4.2m.5-4.5v7m.5-8v9.3m.5-7.5v8.3m.5-13.9v10.8m.5-5.4v8.2m.5-8.3v5.5m.5-8.1v6.5m.5-3.6v4.5m.5-6.2v8.3m.5-11.6v13m.5-12.1v7.7m.5-4.2v6.1m.5-7v8.4m.5-7.1v3.9m.5-3.8v4.5m.5-5.3v6.8m.5-5.6v3.2m.5-4.5v6.9m.5-8v6.3m.5-4.2v6.1m.5-7.6v8.1m.5-6.9v6.3m.5-8.8v9.1m.5-10.5v8.3m.5-8.5v11.1m.5-6.3v2.7m.5-3.3v5.4m.5-9.5v9.1m.5-9.7v8.1m.5-4.5v5.1m.5-3.5v3.4m.5-7.5v6.8m.5-8.9v11m.5-8.5v7.3m.5-4.7v7.2"/><path stroke="#000" stroke-width="0.8" fill="none" d="M403.5 449V482M405 447.5V490M406.5 452V493.5M408 447V488M409.5 450V494M411 456V489M412.5 453V492M414 458V486M401.5 455V486"/><path stroke="#000" stroke-width="0.9" d="M338.7 454V490"/><path d="M47.5 180.8l2 3.7h-4.1zM75.7 182.3l2 3.7h-4.1zM81.2 181.1l2 3.7h-4.1zM82.8 179.3l2 3.7h-4.1zM106 179.1l2 3.7h-4.1zM107 180.8l2 3.7h-4.1zM108 182.4l2 3.7h-4.1zM109 184.1l2 3.7h-4.1zM110 185.7l2 3.7h-4.1zM147.9 158.5l2 3.7h-4.1zM149.7 157.2l2 3.7h-4.1zM201.8 152l2 3.7h-4.1zM205.2 151.9l2 3.7h-4.1zM206 149.8l2 3.7h-4.1zM207 148l2 3.7h-4.1z" fill="#98a830" stroke="#2a2a2a" stroke-width=".5"/><path d="M48.6 182.4l2 3.7h-4.1zM49.8 184.1l2 3.7h-4.1zM67.2 191.3l2 3.7h-4.1zM73.4 183l2 3.7h-4.1zM85 181.8l2 3.7h-4.1zM102.7 174.2l2 3.7h-4.1zM104 175.8l2 3.7h-4.1zM105 177.4l2 3.7h-4.1zM111 187.4l2 3.7h-4.1zM111.9 185.5l2 3.7h-4.1zM112.8 183.7l2 3.7h-4.1zM113.7 181.9l2 3.7h-4.1zM114.6 180l2 3.7h-4.1zM115.5 178.2l2 3.7h-4.1zM117.5 179.5l2 3.7h-4.1zM145.7 163.7l2 3.7h-4.1zM146.8 161.1l2 3.7h-4.1zM202.6 154.1l2 3.7h-4.1zM203.5 156.2l2 3.7h-4.1zM204.3 154l2 3.7h-4.1zM234.4 158.9l2 3.7h-4.1zM235.2 160.9l2 3.7h-4.1z" fill="#84b040" stroke="#2a2a2a" stroke-width=".5"/><path d="M50.9 185.7l2 3.7h-4.1zM57.5 191.5l2 3.7h-4.1zM68 189.5l2 3.7h-4.1zM69 187.6l2 3.7h-4.1zM70 185.7l2 3.7h-4.1zM71 183.8l2 3.7h-4.1zM86 179.5l2 3.7h-4.1zM96 177.8l2 3.7h-4.1zM97 176.1l2 3.7h-4.1zM98.1 174.4l2 3.7h-4.1zM99.2 172.8l2 3.7h-4.1zM100.2 171.1l2 3.7h-4.1zM101.5 172.6l2 3.7h-4.1zM119.5 180.8l2 3.7h-4.1zM120.5 179l2 3.7h-4.1zM145.6 166l2 3.7h-4.1zM236 162.9l2 3.7h-4.1zM236.8 164.9l2 3.7h-4.1z" fill="#70b850" stroke="#2a2a2a" stroke-width=".5"/><path d="M52 187.4l2 3.7h-4.1zM87 177.2l2 3.7h-4.1zM88 179.4l2 3.7h-4.1zM89 181.6l2 3.7h-4.1zM90 183.8l2 3.7h-4.1zM90.8 181.6l2 3.7h-4.1zM91.5 179.5l2 3.7h-4.1zM92.2 177.3l2 3.7h-4.1zM93 175.2l2 3.7h-4.1zM94.5 176.5l2 3.7h-4.1zM121.4 177.2l2 3.7h-4.1zM122.4 175.4l2 3.7h-4.1zM123.4 173.6l2 3.7h-4.1zM125 172.6l2 3.7h-4.1zM145.2 170.4l2 3.7h-4.1zM145.4 168.3l2 3.7h-4.1zM237.6 166.9l2 3.7h-4.1z" fill="#65c06d" stroke="#2a2a2a" stroke-width=".5"/><path d="M53 189l2 3.7h-4.1zM126.7 171.6l2 3.7h-4.1zM127.2 174l2 3.7h-4.1zM144.9 172.5l2 3.7h-4.1zM239 168.8l2 3.7h-4.1zM240.5 170.8l2 3.7h-4.1z" fill="#5bc88b" stroke="#2a2a2a" stroke-width=".5"/><path d="M54 190.6l2 3.7h-4.1zM127.8 176.4l2 3.7h-4.1zM128.3 178.8l2 3.7h-4.1zM129.8 177.1l2 3.7h-4.1zM131.3 175.5l2 3.7h-4.1zM132.8 173.6l2 3.7h-4.1zM134.4 171.8l2 3.7h-4.1zM135.9 170l2 3.7h-4.1zM136.7 171.9l2 3.7h-4.1zM137.6 173.9l2 3.7h-4.1zM138.4 175.8l2 3.7h-4.1zM139.2 177.8l2 3.7h-4.1zM141 178.8l2 3.7h-4.1zM142.7 177.8l2 3.7h-4.1zM144.4 176.8l2 3.7h-4.1zM144.6 174.7l2 3.7h-4.1zM241.9 172.8l2 3.7h-4.1zM244.6 174.9l2 3.7h-4.1zM244.9 172.9l2 3.7h-4.1zM245.2 170.8l2 3.7h-4.1zM245.6 168.8l2 3.7h-4.1zM245.9 166.8l2 3.7h-4.1zM246.2 164.8l2 3.7h-4.1zM246.7 167l2 3.7h-4.1z" fill="#50d0a8" stroke="#2a2a2a" stroke-width=".5"/><path d="M55 192.3l2 3.7h-4.1zM247.2 169.3l2 3.7h-4.1zM247.8 171.5l2 3.7h-4.1zM248.3 173.8l2 3.7h-4.1zM248.8 176.1l2 3.7h-4.1zM249.4 178.3l2 3.7h-4.1zM249.9 180.6l2 3.7h-4.1zM250.4 182.9l2 3.7h-4.1zM251.3 180.5l2 3.7h-4.1zM252.1 178.1l2 3.7h-4.1z" fill="#58d8bc" stroke="#2a2a2a" stroke-width=".5"/><path d="M60 190.8l2 3.7h-4.1zM61.5 193.2l2 3.7h-4.1zM65.8 195l2 3.7h-4.1zM156.7 151.9l2 3.7h-4.1zM158.4 150.5l2 3.7h-4.1zM160 149.1l2 3.7h-4.1zM198.8 146.1l2 3.7h-4.1zM214.7 149.8l2 3.7h-4.1zM215.1 151.7l2 3.7h-4.1zM215.5 153.5l2 3.7h-4.1zM215.9 155.4l2 3.7h-4.1zM216.3 157.3l2 3.7h-4.1zM216.9 159.1l2 3.7h-4.1zM217.4 160.9l2 3.7h-4.1zM218 162.8l2 3.7h-4.1z" fill="#a0901c" stroke="#2a2a2a" stroke-width=".5"/><path d="M63 195.6l2 3.7h-4.1zM65 196.8l2 3.7h-4.1zM161.7 147.7l2 3.7h-4.1zM163 145.9l2 3.7h-4.1zM197.7 144.5l2 3.7h-4.1zM220 164.8l2 3.7h-4.1zM220.8 166.6l2 3.7h-4.1zM221.6 168.5l2 3.7h-4.1zM222.4 170.3l2 3.7h-4.1zM223.2 172.2l2 3.7h-4.1zM225 169.8l2 3.7h-4.1zM225.5 167.9l2 3.7h-4.1zM226 165.9l2 3.7h-4.1zM226.5 164l2 3.7h-4.1zM227 162.1l2 3.7h-4.1zM228.1 159.9l2 3.7h-4.1zM229.1 157.8l2 3.7h-4.1zM230.2 155.7l2 3.7h-4.1z" fill="#9e7e26" stroke="#2a2a2a" stroke-width=".5"/><path d="M66.5 193.1l2 3.7h-4.1zM78 184.8l2 3.7h-4.1zM79.6 182.9l2 3.7h-4.1zM151.4 155.9l2 3.7h-4.1zM153.2 154.6l2 3.7h-4.1zM155 153.3l2 3.7h-4.1zM200 147.8l2 3.7h-4.1zM200.9 149.9l2 3.7h-4.1zM207.9 146.2l2 3.7h-4.1zM208.9 144.5l2 3.7h-4.1zM210.8 146.1l2 3.7h-4.1zM212.6 147.7l2 3.7h-4.1zM232.3 157.3l2 3.7h-4.1z" fill="#9c9c26" stroke="#2a2a2a" stroke-width=".5"/><path d="M164.2 144.1l2 3.7h-4.1zM165.5 142.4l2 3.7h-4.1z" fill="#9c6c30" stroke="#2a2a2a" stroke-width=".5"/><path d="M166.8 140.6l2 3.7h-4.1zM167.8 142.2l2 3.7h-4.1zM168.9 143.9l2 3.7h-4.1zM169.9 145.5l2 3.7h-4.1zM170.9 147.2l2 3.7h-4.1z" fill="#9a5a3a" stroke="#2a2a2a" stroke-width=".5"/><path d="M171.8 145.4l2 3.7h-4.1z" fill="#9a4f44" stroke="#2a2a2a" stroke-width=".5"/><path d="M172.8 143.5l2 3.7h-4.1zM173.7 141.7l2 3.7h-4.1z" fill="#9a454e" stroke="#2a2a2a" stroke-width=".5"/><path d="M174.7 139.9l2 3.7h-4.1z" fill="#9a3a58" stroke="#2a2a2a" stroke-width=".5"/><path d="M175.6 138l2 3.7h-4.1zM176.6 136.2l2 3.7h-4.1zM193.4 144.5l2 3.7h-4.1zM195 145.8l2 3.7h-4.1z" fill="#9a2d63" stroke="#2a2a2a" stroke-width=".5"/><path d="M177.5 134.4l2 3.7h-4.1zM178.1 136.3l2 3.7h-4.1zM178.7 138.3l2 3.7h-4.1zM179.3 140.3l2 3.7h-4.1zM179.9 142.2l2 3.7h-4.1zM180.5 144.2l2 3.7h-4.1zM181.1 146.2l2 3.7h-4.1zM183.6 146.9l2 3.7h-4.1zM186.2 147.7l2 3.7h-4.1zM187.6 145.8l2 3.7h-4.1zM188.9 143.9l2 3.7h-4.1zM190.3 142.1l2 3.7h-4.1zM191.9 143.3l2 3.7h-4.1z" fill="#9a216d" stroke="#2a2a2a" stroke-width=".5"/><path d="M253 175.8l2 3.7h-4.1zM254 174.1l2 3.7h-4.1zM254.9 172.4l2 3.7h-4.1zM255.8 170.7l2 3.7h-4.1zM256.8 169l2 3.7h-4.1zM257.4 171.2l2 3.7h-4.1zM257.9 173.4l2 3.7h-4.1zM258.4 175.6l2 3.7h-4.1zM259 177.8l2 3.7h-4.1z" fill="#60e0d0" stroke="#2a2a2a" stroke-width=".5"/><path d="M260 179.5l2 3.7h-4.1zM261.1 181.2l2 3.7h-4.1zM262.1 182.9l2 3.7h-4.1zM262.7 184.7l2 3.7h-4.1zM263.2 186.6l2 3.7h-4.1zM263.8 188.4l2 3.7h-4.1zM264.3 190.3l2 3.7h-4.1z" fill="#84eae4" stroke="#2a2a2a" stroke-width=".5"/><g stroke="#3a3a3a" stroke-width=".5"><circle cx="47.9" cy="391.5" r="2.2" fill="#9a216d"/><circle cx="48.5" cy="393.2" r="2.2" fill="#9a216d"/><circle cx="49.1" cy="395" r="2.2" fill="#9a216d"/><circle cx="49.7" cy="396.8" r="2.2" fill="#9a216d"/><circle cx="50.3" cy="398.5" r="2.2" fill="#9a216d"/><circle cx="51" cy="400.1" r="2.2" fill="#9a216d"/><circle cx="51.8" cy="401.8" r="2.2" fill="#9a216d"/><circle cx="52.5" cy="403.4" r="2.2" fill="#9a216d"/><circle cx="53.2" cy="405" r="2.2" fill="#9a216d"/><circle cx="54.6" cy="406.7" r="2.2" fill="#9a216d"/><circle cx="55.9" cy="408.5" r="2.2" fill="#9a216d"/><circle cx="57.3" cy="410.2" r="2.2" fill="#9a216d"/><circle cx="59.4" cy="409.6" r="2.2" fill="#9a216d"/><circle cx="61.4" cy="409" r="2.2" fill="#9a216d"/><circle cx="62.8" cy="410.2" r="2.2" fill="#9a216d"/><circle cx="64.3" cy="411.4" r="2.2" fill="#9a216d"/><circle cx="65.4" cy="413.2" r="2.2" fill="#9a216d"/><circle cx="66.6" cy="414.9" r="2.2" fill="#9a216d"/><circle cx="67.5" cy="413.4" r="2.2" fill="#9a216d"/><circle cx="68.4" cy="412" r="2.2" fill="#9a216d"/><circle cx="69.2" cy="410.5" r="2.2" fill="#9a216d"/><circle cx="70.1" cy="409" r="2.2" fill="#9a216d"/><circle cx="71.1" cy="407.6" r="2.2" fill="#9a216d"/><circle cx="72.2" cy="406.1" r="2.2" fill="#9a2d63"/><circle cx="73.2" cy="404.6" r="2.2" fill="#9a2d63"/><circle cx="74.2" cy="403.2" r="2.2" fill="#9a2d63"/><circle cx="75.6" cy="402" r="2.2" fill="#9a2d63"/><circle cx="76.9" cy="400.9" r="2.2" fill="#9a2d63"/><circle cx="78.3" cy="399.7" r="2.2" fill="#9a2d63"/><circle cx="79.7" cy="401.3" r="2.2" fill="#9a2d63"/><circle cx="81" cy="402.8" r="2.2" fill="#9a2d63"/><circle cx="82.4" cy="404.4" r="2.2" fill="#9a2d63"/><circle cx="83.4" cy="402.8" r="2.2" fill="#9a2d63"/><circle cx="84.3" cy="401.3" r="2.2" fill="#9a2d63"/><circle cx="85.3" cy="399.7" r="2.2" fill="#9a2d63"/><circle cx="87.4" cy="398.5" r="2.2" fill="#9a2d63"/><circle cx="89.4" cy="397.4" r="2.2" fill="#9a2d63"/><circle cx="91.2" cy="399.2" r="2.2" fill="#9a3a58"/><circle cx="92.9" cy="400.9" r="2.2" fill="#9a3a58"/><circle cx="94.1" cy="399.3" r="2.2" fill="#9a3a58"/><circle cx="95.2" cy="397.8" r="2.2" fill="#9a3a58"/><circle cx="96.4" cy="396.2" r="2.2" fill="#9a3a58"/><circle cx="98.2" cy="395.6" r="2.2" fill="#9a3a58"/><circle cx="99.9" cy="395" r="2.2" fill="#9a454e"/><circle cx="101.1" cy="396.6" r="2.2" fill="#9a454e"/><circle cx="102.2" cy="398.1" r="2.2" fill="#9a454e"/><circle cx="103.4" cy="399.7" r="2.2" fill="#9a454e"/><circle cx="104.8" cy="401.1" r="2.2" fill="#9a454e"/><circle cx="106.1" cy="402.4" r="2.2" fill="#9a454e"/><circle cx="107.5" cy="403.8" r="2.2" fill="#9a454e"/><circle cx="109.6" cy="403.2" r="2.2" fill="#9a454e"/><circle cx="111.6" cy="402.6" r="2.2" fill="#9a454e"/><circle cx="113.9" cy="404.4" r="2.2" fill="#9a4f44"/><circle cx="114.7" cy="402.4" r="2.2" fill="#9a4f44"/><circle cx="115.5" cy="400.5" r="2.2" fill="#9a5a3a"/><circle cx="116.3" cy="398.5" r="2.2" fill="#9a5a3a"/><circle cx="117.2" cy="396.8" r="2.2" fill="#9c6c30"/><circle cx="118" cy="395" r="2.2" fill="#9e7e26"/><circle cx="118.9" cy="393.2" r="2.2" fill="#9e7e26"/><circle cx="119.8" cy="391.5" r="2.2" fill="#a0901c"/><circle cx="122" cy="392.2" r="2.2" fill="#9c9c26"/><circle cx="124.1" cy="393" r="2.2" fill="#9c9c26"/><circle cx="126.2" cy="393.2" r="2.2" fill="#84b040"/><circle cx="128.2" cy="393.5" r="2.2" fill="#70b850"/><circle cx="130.2" cy="393" r="2.2" fill="#65c06d"/><circle cx="132.3" cy="392.4" r="2.2" fill="#5bc88b"/><circle cx="134.4" cy="393.5" r="2.2" fill="#50d0a8"/><circle cx="136.4" cy="394.7" r="2.2" fill="#50d0a8"/><circle cx="138.2" cy="396.4" r="2.2" fill="#58d8bc"/><circle cx="139.9" cy="398.2" r="2.2" fill="#60e0d0"/><circle cx="140.9" cy="399.8" r="2.2" fill="#60e0d0"/><circle cx="141.8" cy="401.3" r="2.2" fill="#60e0d0"/><circle cx="142.8" cy="402.9" r="2.2" fill="#60e0d0"/><circle cx="143.3" cy="401.3" r="2.2" fill="#60e0d0"/><circle cx="143.7" cy="399.6" r="2.2" fill="#60e0d0"/><circle cx="144.2" cy="398" r="2.2" fill="#60e0d0"/><circle cx="144.6" cy="396.3" r="2.2" fill="#60e0d0"/><circle cx="145.1" cy="394.7" r="2.2" fill="#60e0d0"/><circle cx="145.7" cy="392.4" r="2.2" fill="#58d8bc"/><circle cx="146.3" cy="390" r="2.2" fill="#58d8bc"/><circle cx="148.4" cy="389.4" r="2.2" fill="#58d8bc"/><circle cx="150.4" cy="388.9" r="2.2" fill="#58d8bc"/><circle cx="152.4" cy="387.4" r="2.2" fill="#58d8bc"/><circle cx="154.5" cy="386" r="2.2" fill="#58d8bc"/><circle cx="156" cy="387.8" r="2.2" fill="#58d8bc"/><circle cx="157.4" cy="389.5" r="2.2" fill="#58d8bc"/><circle cx="158.9" cy="387.8" r="2.2" fill="#58d8bc"/><circle cx="160.3" cy="386" r="2.2" fill="#58d8bc"/><circle cx="161.5" cy="387.3" r="2.2" fill="#58d8bc"/><circle cx="162.6" cy="388.7" r="2.2" fill="#50d0a8"/><circle cx="163.8" cy="390" r="2.2" fill="#50d0a8"/><circle cx="165.9" cy="389.2" r="2.2" fill="#5bc88b"/><circle cx="167.9" cy="388.3" r="2.2" fill="#65c06d"/><circle cx="169.4" cy="386.8" r="2.2" fill="#70b850"/><circle cx="170.8" cy="385.4" r="2.2" fill="#84b040"/><circle cx="172.2" cy="383.6" r="2.2" fill="#98a830"/><circle cx="173.5" cy="381.9" r="2.2" fill="#9c9c26"/><circle cx="174.9" cy="380.1" r="2.2" fill="#a0901c"/><circle cx="177" cy="379.8" r="2.2" fill="#9e7e26"/><circle cx="179" cy="379.5" r="2.2" fill="#9e7e26"/><circle cx="181.3" cy="378.6" r="2.2" fill="#9c6c30"/><circle cx="183.6" cy="377.8" r="2.2" fill="#9c6c30"/><circle cx="185.4" cy="376" r="2.2" fill="#9c6c30"/><circle cx="187.2" cy="374.3" r="2.2" fill="#9a5a3a"/><circle cx="188.5" cy="372.6" r="2.2" fill="#9a4f44"/><circle cx="189.8" cy="370.9" r="2.2" fill="#9a4f44"/><circle cx="191.1" cy="369.2" r="2.2" fill="#9a454e"/><circle cx="191.5" cy="371" r="2.2" fill="#9a454e"/><circle cx="192" cy="372.9" r="2.2" fill="#9a4f44"/><circle cx="192.4" cy="374.8" r="2.2" fill="#9a5a3a"/><circle cx="192.8" cy="376.6" r="2.2" fill="#9c6c30"/><circle cx="193.4" cy="378.3" r="2.2" fill="#9c6c30"/><circle cx="194" cy="380.1" r="2.2" fill="#9e7e26"/><circle cx="194.6" cy="381.8" r="2.2" fill="#9e7e26"/><circle cx="195.3" cy="380.1" r="2.2" fill="#9e7e26"/><circle cx="196" cy="378.4" r="2.2" fill="#9e7e26"/><circle cx="196.6" cy="376.6" r="2.2" fill="#a0901c"/><circle cx="197.3" cy="374.9" r="2.2" fill="#a0901c"/><circle cx="198" cy="373.2" r="2.2" fill="#a0901c"/><circle cx="200.8" cy="373.8" r="2.2" fill="#a0901c"/><circle cx="201.8" cy="375.7" r="2.2" fill="#a0901c"/><circle cx="202.7" cy="377.6" r="2.2" fill="#a0901c"/><circle cx="203.7" cy="379.5" r="2.2" fill="#a0901c"/><circle cx="204.3" cy="377.7" r="2.2" fill="#a0901c"/><circle cx="204.8" cy="375.9" r="2.2" fill="#a0901c"/><circle cx="205.4" cy="374.1" r="2.2" fill="#a0901c"/><circle cx="206" cy="372.3" r="2.2" fill="#a0901c"/><circle cx="206.5" cy="370.5" r="2.2" fill="#a0901c"/><circle cx="207.1" cy="368.7" r="2.2" fill="#9c9c26"/><circle cx="207.8" cy="370.4" r="2.2" fill="#9c9c26"/><circle cx="208.5" cy="372.1" r="2.2" fill="#a0901c"/><circle cx="209.2" cy="373.8" r="2.2" fill="#a0901c"/><circle cx="209.9" cy="375.5" r="2.2" fill="#a0901c"/><circle cx="210.4" cy="377.2" r="2.2" fill="#a0901c"/><circle cx="210.8" cy="378.9" r="2.2" fill="#a0901c"/><circle cx="211.3" cy="380.6" r="2.2" fill="#a0901c"/><circle cx="211.7" cy="382.3" r="2.2" fill="#a0901c"/><circle cx="212.2" cy="384" r="2.2" fill="#a0901c"/><circle cx="213" cy="386" r="2.2" fill="#a0901c"/><circle cx="213.9" cy="388" r="2.2" fill="#a0901c"/><circle cx="214.9" cy="386.5" r="2.2" fill="#a0901c"/><circle cx="215.8" cy="385" r="2.2" fill="#9e7e26"/><circle cx="216.8" cy="383.5" r="2.2" fill="#9e7e26"/><circle cx="217.9" cy="385" r="2.2" fill="#9e7e26"/><circle cx="219.1" cy="386.5" r="2.2" fill="#9e7e26"/><circle cx="220.2" cy="388" r="2.2" fill="#9c6c30"/><circle cx="221.6" cy="386.3" r="2.2" fill="#9c6c30"/><circle cx="223" cy="384.6" r="2.2" fill="#9c6c30"/><circle cx="224.1" cy="386.1" r="2.2" fill="#9c6c30"/><circle cx="225.3" cy="387.7" r="2.2" fill="#9c6c30"/><circle cx="226.4" cy="389.2" r="2.2" fill="#9a5a3a"/><circle cx="227.8" cy="387.5" r="2.2" fill="#9a5a3a"/><circle cx="229.3" cy="385.8" r="2.2" fill="#9a5a3a"/><circle cx="230.7" cy="387.5" r="2.2" fill="#9a5a3a"/><circle cx="232.1" cy="389.2" r="2.2" fill="#9a5a3a"/><circle cx="233.1" cy="390.6" r="2.2" fill="#9a5a3a"/><circle cx="234.1" cy="392" r="2.2" fill="#9a5a3a"/><circle cx="235.1" cy="393.5" r="2.2" fill="#9a5a3a"/><circle cx="236.1" cy="394.9" r="2.2" fill="#9a5a3a"/><circle cx="238.1" cy="396.3" r="2.2" fill="#9a5a3a"/><circle cx="240.1" cy="397.7" r="2.2" fill="#9a5a3a"/><circle cx="241.6" cy="396.8" r="2.2" fill="#9a5a3a"/><circle cx="243.2" cy="395.8" r="2.2" fill="#9a5a3a"/><circle cx="244.7" cy="394.9" r="2.2" fill="#9a5a3a"/><circle cx="245.8" cy="393.5" r="2.2" fill="#9c6c30"/><circle cx="247" cy="392" r="2.2" fill="#9c6c30"/><circle cx="248.1" cy="390.6" r="2.2" fill="#9c6c30"/><circle cx="249.2" cy="389.2" r="2.2" fill="#9c6c30"/><circle cx="250.4" cy="391.1" r="2.2" fill="#9e7e26"/><circle cx="251.5" cy="393" r="2.2" fill="#9e7e26"/><circle cx="252.6" cy="394.4" r="2.2" fill="#9e7e26"/><circle cx="253.8" cy="395.7" r="2.2" fill="#a0901c"/><circle cx="254.9" cy="397.1" r="2.2" fill="#a0901c"/><circle cx="256.6" cy="397.4" r="2.2" fill="#a0901c"/><circle cx="258.3" cy="397.7" r="2.2" fill="#a0901c"/><circle cx="259.5" cy="396" r="2.2" fill="#a0901c"/><circle cx="260.6" cy="394.3" r="2.2" fill="#a0901c"/><circle cx="261.8" cy="392.6" r="2.2" fill="#a0901c"/><circle cx="263.5" cy="391.5" r="2.2" fill="#a0901c"/><circle cx="265.2" cy="390.3" r="2.2" fill="#a0901c"/></g><path d="M404.3 402.9L406 424M416.6 355V424" stroke="#999" stroke-width="1.4" fill="none"/><polyline points="290.7,384.8 292.3,389.1 293.9,395.5 294.9,401.9 296,409.4 297.6,415.2 299.2,409.4 300.8,400.8 302.9,397.1 305,401.9 307.2,405.1 309.9,399.8 310.9,392.3 312,387 314,391 316.8,395.5 320,389.1 322.1,394.4 324.2,388 327.4,387 330.1,391.8 333.3,382.7 335.4,380 338.1,380.6 340.2,388 342.4,393.4 344.5,399.8 345.3,393.5 347.7,390 351.2,394.1 354.1,395.3 357,397 358.2,401.7 359.4,406.4 360.5,395.3 361.1,386.5 361.7,380.1 364,376.6 366.4,373.7 368.1,369 368.7,362.6 370.4,367.3 371,376 373.4,384.2 376.3,391.2 377.5,399.4 379.8,407 382.1,402.9 385,395.9 388,389.5 390.3,384.8 390.9,378.4 395,378.4 397,374 398.5,368.4 399.6,373.7 400.8,381.9 402,388.3 403.2,398.2 404.3,402.9" fill="none" stroke="#555" stroke-width=".7"/><g stroke="#555" stroke-width=".5"><circle cx="290.7" cy="384.8" r="2.3" fill="#84eae4"/><circle cx="292.3" cy="389.1" r="2.3" fill="#84eae4"/><circle cx="293.1" cy="392.3" r="2.3" fill="#84eae4"/><circle cx="293.9" cy="395.5" r="2.3" fill="#84eae4"/><circle cx="294.4" cy="398.7" r="2.3" fill="#84eae4"/><circle cx="294.9" cy="401.9" r="2.3" fill="#84eae4"/><circle cx="295.4" cy="405.6" r="2.3" fill="#84eae4"/><circle cx="296" cy="409.4" r="2.3" fill="#84eae4"/><circle cx="296.8" cy="412.3" r="2.3" fill="#84eae4"/><circle cx="297.6" cy="415.2" r="2.3" fill="#84eae4"/><circle cx="298.4" cy="412.3" r="2.3" fill="#84eae4"/><circle cx="299.2" cy="409.4" r="2.3" fill="#84eae4"/><circle cx="299.7" cy="406.5" r="2.3" fill="#84eae4"/><circle cx="300.3" cy="403.7" r="2.3" fill="#84eae4"/><circle cx="300.8" cy="400.8" r="2.3" fill="#84eae4"/><circle cx="302.9" cy="397.1" r="2.3" fill="#84eae4"/><circle cx="304" cy="399.5" r="2.3" fill="#84eae4"/><circle cx="305" cy="401.9" r="2.3" fill="#84eae4"/><circle cx="307.2" cy="405.1" r="2.3" fill="#84eae4"/><circle cx="308.5" cy="402.5" r="2.3" fill="#84eae4"/><circle cx="309.9" cy="399.8" r="2.3" fill="#84eae4"/><circle cx="310.4" cy="396" r="2.3" fill="#84eae4"/><circle cx="310.9" cy="392.3" r="2.3" fill="#84eae4"/><circle cx="311.4" cy="389.6" r="2.3" fill="#84eae4"/><circle cx="312" cy="387" r="2.3" fill="#84eae4"/><circle cx="314" cy="391" r="2.3" fill="#84eae4"/><circle cx="315.4" cy="393.2" r="2.3" fill="#84eae4"/><circle cx="316.8" cy="395.5" r="2.3" fill="#84eae4"/><circle cx="318.4" cy="392.3" r="2.3" fill="#84eae4"/><circle cx="320" cy="389.1" r="2.3" fill="#84eae4"/><circle cx="321" cy="391.8" r="2.3" fill="#84eae4"/><circle cx="322.1" cy="394.4" r="2.3" fill="#84eae4"/><circle cx="323.2" cy="391.2" r="2.3" fill="#84eae4"/><circle cx="324.2" cy="388" r="2.3" fill="#84eae4"/><circle cx="327.4" cy="387" r="2.3" fill="#84eae4"/><circle cx="328.8" cy="389.4" r="2.3" fill="#84eae4"/><circle cx="330.1" cy="391.8" r="2.3" fill="#84eae4"/><circle cx="331.2" cy="388.8" r="2.3" fill="#60e0d0"/><circle cx="332.2" cy="385.7" r="2.3" fill="#58d8bc"/><circle cx="333.3" cy="382.7" r="2.3" fill="#58d8bc"/><circle cx="335.4" cy="380" r="2.3" fill="#5bc88b"/><circle cx="338.1" cy="380.6" r="2.3" fill="#5bc88b"/><circle cx="339.2" cy="384.3" r="2.3" fill="#5bc88b"/><circle cx="340.2" cy="388" r="2.3" fill="#5bc88b"/><circle cx="341.3" cy="390.7" r="2.3" fill="#5bc88b"/><circle cx="342.4" cy="393.4" r="2.3" fill="#5bc88b"/><circle cx="343.4" cy="396.6" r="2.3" fill="#5bc88b"/><circle cx="344.5" cy="399.8" r="2.3" fill="#5bc88b"/><circle cx="344.9" cy="396.6" r="2.3" fill="#50d0a8"/><circle cx="345.3" cy="393.5" r="2.3" fill="#50d0a8"/><circle cx="347.7" cy="390" r="2.3" fill="#60e0d0"/><circle cx="349.4" cy="392" r="2.3" fill="#60e0d0"/><circle cx="351.2" cy="394.1" r="2.3" fill="#60e0d0"/><circle cx="354.1" cy="395.3" r="2.3" fill="#84eae4"/><circle cx="357" cy="397" r="2.3" fill="#84eae4"/><circle cx="358.2" cy="401.7" r="2.3" fill="#84eae4"/><circle cx="359.4" cy="406.4" r="2.3" fill="#84eae4"/><circle cx="359.7" cy="403.6" r="2.3" fill="#84eae4"/><circle cx="360" cy="400.8" r="2.3" fill="#84eae4"/><circle cx="360.2" cy="398.1" r="2.3" fill="#84eae4"/><circle cx="360.5" cy="395.3" r="2.3" fill="#84eae4"/><circle cx="360.7" cy="392.4" r="2.3" fill="#84eae4"/><circle cx="360.9" cy="389.4" r="2.3" fill="#84eae4"/><circle cx="361.1" cy="386.5" r="2.3" fill="#84eae4"/><circle cx="361.4" cy="383.3" r="2.3" fill="#84eae4"/><circle cx="361.7" cy="380.1" r="2.3" fill="#84eae4"/><circle cx="364" cy="376.6" r="2.3" fill="#84eae4"/><circle cx="366.4" cy="373.7" r="2.3" fill="#84eae4"/><circle cx="368.1" cy="369" r="2.3" fill="#84eae4"/><circle cx="368.4" cy="365.8" r="2.3" fill="#84eae4"/><circle cx="368.7" cy="362.6" r="2.3" fill="#84eae4"/><circle cx="370.4" cy="367.3" r="2.3" fill="#84eae4"/><circle cx="370.6" cy="370.2" r="2.3" fill="#84eae4"/><circle cx="370.8" cy="373.1" r="2.3" fill="#84eae4"/><circle cx="371" cy="376" r="2.3" fill="#84eae4"/><circle cx="371.8" cy="378.7" r="2.3" fill="#84eae4"/><circle cx="372.6" cy="381.5" r="2.3" fill="#84eae4"/><circle cx="373.4" cy="384.2" r="2.3" fill="#84eae4"/><circle cx="374.8" cy="387.7" r="2.3" fill="#84eae4"/><circle cx="376.3" cy="391.2" r="2.3" fill="#84eae4"/><circle cx="376.7" cy="393.9" r="2.3" fill="#84eae4"/><circle cx="377.1" cy="396.7" r="2.3" fill="#84eae4"/><circle cx="377.5" cy="399.4" r="2.3" fill="#84eae4"/><circle cx="378.3" cy="401.9" r="2.3" fill="#84eae4"/><circle cx="379" cy="404.5" r="2.3" fill="#84eae4"/><circle cx="379.8" cy="407" r="2.3" fill="#84eae4"/><circle cx="382.1" cy="402.9" r="2.3" fill="#60e0d0"/><circle cx="383.6" cy="399.4" r="2.3" fill="#58d8bc"/><circle cx="385" cy="395.9" r="2.3" fill="#50d0a8"/><circle cx="386.5" cy="392.7" r="2.3" fill="#5bc88b"/><circle cx="388" cy="389.5" r="2.3" fill="#5bc88b"/><circle cx="389.2" cy="387.2" r="2.3" fill="#5bc88b"/><circle cx="390.3" cy="384.8" r="2.3" fill="#5bc88b"/><circle cx="390.6" cy="381.6" r="2.3" fill="#65c06d"/><circle cx="390.9" cy="378.4" r="2.3" fill="#65c06d"/><circle cx="395" cy="378.4" r="2.3" fill="#65c06d"/><circle cx="397" cy="374" r="2.3" fill="#84b040"/><circle cx="397.8" cy="371.2" r="2.3" fill="#98a830"/><circle cx="398.5" cy="368.4" r="2.3" fill="#98a830"/><circle cx="399" cy="371" r="2.3" fill="#98a830"/><circle cx="399.6" cy="373.7" r="2.3" fill="#98a830"/><circle cx="400" cy="376.4" r="2.3" fill="#98a830"/><circle cx="400.4" cy="379.2" r="2.3" fill="#98a830"/><circle cx="400.8" cy="381.9" r="2.3" fill="#98a830"/><circle cx="401.4" cy="385.1" r="2.3" fill="#98a830"/><circle cx="402" cy="388.3" r="2.3" fill="#98a830"/><circle cx="402.4" cy="391.6" r="2.3" fill="#98a830"/><circle cx="402.8" cy="394.9" r="2.3" fill="#98a830"/><circle cx="403.2" cy="398.2" r="2.3" fill="#98a830"/><circle cx="404.3" cy="402.9" r="2.3" fill="#98a830"/></g><circle cx="405.5" cy="418" r="2.2" fill="#9c9c26" stroke="#666" stroke-width=".5"/><circle cx="415.5" cy="386" r="2.2" fill="#9b6136" stroke="#666" stroke-width=".5"/><circle cx="414.5" cy="402" r="2.2" fill="#9b6136" stroke="#666" stroke-width=".5"/><circle cx="414" cy="421" r="2.2" fill="#a0901c" stroke="#666" stroke-width=".5"/><polyline points="416.4,363.3 418.5,370.3 419.9,378.6 421.9,384.1 424,388.3 425.4,394.5 428.2,389.7 431,386.2 433.7,382.7 437.2,377.2 440,381.4 442.7,386.9 444.8,393.8 446.2,400.8 448.3,386.2 451.1,382.7 453.8,387.6 456.6,380 460.1,373 462.9,368.9 466.3,361.9 469.1,366.1 471.9,368.9 475.3,364 478.1,366.1 480.2,373 483,365.4 485.7,370.3 489.9,375.8 492.7,380 495.4,386.9 498.2,384.1 501,380 503.8,382 507.2,380" fill="none" stroke="#555" stroke-width=".7"/><g stroke="#555" stroke-width=".5"><circle cx="416.4" cy="363.3" r="2.3" fill="#9a5a3a"/><circle cx="417.1" cy="365.6" r="2.3" fill="#9a5a3a"/><circle cx="417.8" cy="368" r="2.3" fill="#9a5a3a"/><circle cx="418.5" cy="370.3" r="2.3" fill="#9a5a3a"/><circle cx="419" cy="373.1" r="2.3" fill="#9a5a3a"/><circle cx="419.4" cy="375.8" r="2.3" fill="#9a5a3a"/><circle cx="419.9" cy="378.6" r="2.3" fill="#9a5a3a"/><circle cx="420.9" cy="381.4" r="2.3" fill="#9a5a3a"/><circle cx="421.9" cy="384.1" r="2.3" fill="#9a5a3a"/><circle cx="424" cy="388.3" r="2.3" fill="#9a5a3a"/><circle cx="424.7" cy="391.4" r="2.3" fill="#9a5a3a"/><circle cx="425.4" cy="394.5" r="2.3" fill="#9a5a3a"/><circle cx="426.8" cy="392.1" r="2.3" fill="#9a5a3a"/><circle cx="428.2" cy="389.7" r="2.3" fill="#9a5a3a"/><circle cx="431" cy="386.2" r="2.3" fill="#9c6c30"/><circle cx="433.7" cy="382.7" r="2.3" fill="#9e7e26"/><circle cx="435.4" cy="380" r="2.3" fill="#a0901c"/><circle cx="437.2" cy="377.2" r="2.3" fill="#a0901c"/><circle cx="438.6" cy="379.3" r="2.3" fill="#9c9c26"/><circle cx="440" cy="381.4" r="2.3" fill="#9c9c26"/><circle cx="441.4" cy="384.2" r="2.3" fill="#9c9c26"/><circle cx="442.7" cy="386.9" r="2.3" fill="#98a830"/><circle cx="443.4" cy="389.2" r="2.3" fill="#98a830"/><circle cx="444.1" cy="391.5" r="2.3" fill="#98a830"/><circle cx="444.8" cy="393.8" r="2.3" fill="#84b040"/><circle cx="445.5" cy="397.3" r="2.3" fill="#9c9c26"/><circle cx="446.2" cy="400.8" r="2.3" fill="#a0901c"/><circle cx="446.6" cy="398.4" r="2.3" fill="#a0901c"/><circle cx="446.9" cy="395.9" r="2.3" fill="#a0901c"/><circle cx="447.2" cy="393.5" r="2.3" fill="#a0901c"/><circle cx="447.6" cy="391.1" r="2.3" fill="#a0901c"/><circle cx="448" cy="388.6" r="2.3" fill="#a0901c"/><circle cx="448.3" cy="386.2" r="2.3" fill="#a0901c"/><circle cx="451.1" cy="382.7" r="2.3" fill="#a0901c"/><circle cx="452.4" cy="385.2" r="2.3" fill="#a0901c"/><circle cx="453.8" cy="387.6" r="2.3" fill="#a0901c"/><circle cx="454.7" cy="385.1" r="2.3" fill="#a0901c"/><circle cx="455.7" cy="382.5" r="2.3" fill="#a0901c"/><circle cx="456.6" cy="380" r="2.3" fill="#a0901c"/><circle cx="457.8" cy="377.7" r="2.3" fill="#a0901c"/><circle cx="458.9" cy="375.3" r="2.3" fill="#a0901c"/><circle cx="460.1" cy="373" r="2.3" fill="#a0901c"/><circle cx="461.5" cy="371" r="2.3" fill="#9e7e26"/><circle cx="462.9" cy="368.9" r="2.3" fill="#9e7e26"/><circle cx="464" cy="366.6" r="2.3" fill="#9e7e26"/><circle cx="465.2" cy="364.2" r="2.3" fill="#9e7e26"/><circle cx="466.3" cy="361.9" r="2.3" fill="#9e7e26"/><circle cx="467.7" cy="364" r="2.3" fill="#9e7e26"/><circle cx="469.1" cy="366.1" r="2.3" fill="#9e7e26"/><circle cx="471.9" cy="368.9" r="2.3" fill="#a0901c"/><circle cx="473.6" cy="366.4" r="2.3" fill="#a0901c"/><circle cx="475.3" cy="364" r="2.3" fill="#9c9c26"/><circle cx="478.1" cy="366.1" r="2.3" fill="#9c9c26"/><circle cx="478.8" cy="368.4" r="2.3" fill="#9c9c26"/><circle cx="479.5" cy="370.7" r="2.3" fill="#9c9c26"/><circle cx="480.2" cy="373" r="2.3" fill="#9c9c26"/><circle cx="481.1" cy="370.5" r="2.3" fill="#a0901c"/><circle cx="482.1" cy="367.9" r="2.3" fill="#a0901c"/><circle cx="483" cy="365.4" r="2.3" fill="#a0901c"/><circle cx="484.4" cy="367.8" r="2.3" fill="#a0901c"/><circle cx="485.7" cy="370.3" r="2.3" fill="#a0901c"/><circle cx="487.8" cy="373" r="2.3" fill="#a0901c"/><circle cx="489.9" cy="375.8" r="2.3" fill="#a0901c"/><circle cx="491.3" cy="377.9" r="2.3" fill="#a0901c"/><circle cx="492.7" cy="380" r="2.3" fill="#a0901c"/><circle cx="493.6" cy="382.3" r="2.3" fill="#a0901c"/><circle cx="494.5" cy="384.6" r="2.3" fill="#a0901c"/><circle cx="495.4" cy="386.9" r="2.3" fill="#a0901c"/><circle cx="498.2" cy="384.1" r="2.3" fill="#a0901c"/><circle cx="499.6" cy="382" r="2.3" fill="#a0901c"/><circle cx="501" cy="380" r="2.3" fill="#a0901c"/><circle cx="503.8" cy="382" r="2.3" fill="#a0901c"/><circle cx="507.2" cy="380" r="2.3" fill="#a0901c"/></g><rect x="46.2" y="594.95" width="2.6" height="2.8" fill="#5a4a20"/><rect x="47.5" y="594.7" width="2.6" height="2.8" fill="#5a4a20"/><rect x="48.8" y="594.78" width="2.6" height="2.8" fill="#4a6a30"/><rect x="50.1" y="594.66" width="2.6" height="2.8" fill="#2e2418"/><rect x="51.4" y="595.2" width="2.6" height="2.8" fill="#4a6a30"/><rect x="52.7" y="594.57" width="2.6" height="2.8" fill="#2e2418"/><rect x="54" y="595.25" width="2.6" height="2.8" fill="#2e2418"/><rect x="55.3" y="595.11" width="2.6" height="2.8" fill="#2e2418"/><rect x="56.6" y="595.17" width="2.6" height="2.8" fill="#2e2418"/><rect x="57.9" y="595.11" width="2.6" height="2.8" fill="#2e2418"/><rect x="59.2" y="595" width="2.6" height="2.8" fill="#2e2418"/><rect x="64.4" y="595.09" width="2.6" height="2.8" fill="#2e2418"/><rect x="65.7" y="594.72" width="2.6" height="2.8" fill="#2e2418"/><rect x="67" y="595.42" width="2.6" height="2.8" fill="#2e2418"/><rect x="68.3" y="595.12" width="2.6" height="2.8" fill="#4a6a30"/><rect x="69.6" y="595.14" width="2.6" height="2.8" fill="#2e2418"/><rect x="70.9" y="595.09" width="2.6" height="2.8" fill="#2e2418"/><rect x="72.2" y="595.32" width="2.6" height="2.8" fill="#2e2418"/><rect x="73.5" y="595.48" width="2.6" height="2.8" fill="#2e2418"/><rect x="74.8" y="594.84" width="2.6" height="2.8" fill="#5a4a20"/><rect x="76.1" y="595.33" width="2.6" height="2.8" fill="#4a6a30"/><rect x="77.4" y="594.21" width="2.6" height="2.8" fill="#2e2418"/><rect x="78.7" y="595.05" width="2.6" height="2.8" fill="#2e2418"/><rect x="80" y="595.16" width="2.6" height="2.8" fill="#2e2418"/><rect x="81.3" y="595.15" width="2.6" height="2.8" fill="#4a6a30"/><rect x="82.6" y="594.58" width="2.6" height="2.8" fill="#2e2418"/><rect x="83.9" y="594.42" width="2.6" height="2.8" fill="#2e2418"/><rect x="85.2" y="594.9" width="2.6" height="2.8" fill="#2e2418"/><rect x="86.5" y="594.39" width="2.6" height="2.8" fill="#2e2418"/><rect x="87.8" y="595.34" width="2.6" height="2.8" fill="#2e2418"/><rect x="89.1" y="594.87" width="2.6" height="2.8" fill="#2e2418"/><rect x="90.4" y="595.19" width="2.6" height="2.8" fill="#2e2418"/><rect x="91.7" y="595.4" width="2.6" height="2.8" fill="#5a4a20"/><rect x="93" y="594.35" width="2.6" height="2.8" fill="#5a4a20"/><rect x="94.3" y="595.55" width="2.6" height="2.8" fill="#2e2418"/><rect x="95.6" y="595.27" width="2.6" height="2.8" fill="#2e2418"/><rect x="96.9" y="594.8" width="2.6" height="2.8" fill="#2e2418"/><rect x="98.2" y="594.94" width="2.6" height="2.8" fill="#2e2418"/><rect x="99.5" y="594.54" width="2.6" height="2.8" fill="#2e2418"/><rect x="100.8" y="595.58" width="2.6" height="2.8" fill="#2e2418"/><rect x="102.1" y="594.8" width="2.6" height="2.8" fill="#2e2418"/><rect x="103.4" y="595.33" width="2.6" height="2.8" fill="#2e2418"/><rect x="104.7" y="594.59" width="2.6" height="2.8" fill="#2e2418"/><rect x="106" y="595.28" width="2.6" height="2.8" fill="#2e2418"/><rect x="107.3" y="595.63" width="2.6" height="2.8" fill="#2e2418"/><rect x="108.6" y="595.43" width="2.6" height="2.8" fill="#2e2418"/><rect x="109.9" y="595.29" width="2.6" height="2.8" fill="#2e2418"/><rect x="111.2" y="594.58" width="2.6" height="2.8" fill="#4a6a30"/><rect x="112.5" y="594.53" width="2.6" height="2.8" fill="#2e2418"/><rect x="113.8" y="595" width="2.6" height="2.8" fill="#2e2418"/><rect x="115.1" y="594.28" width="2.6" height="2.8" fill="#2e2418"/><rect x="116.4" y="594.68" width="2.6" height="2.8" fill="#2e2418"/><rect x="117.7" y="595.33" width="2.6" height="2.8" fill="#2e2418"/><rect x="119" y="594.14" width="2.6" height="2.8" fill="#2e2418"/><rect x="120.3" y="595.27" width="2.6" height="2.8" fill="#2e2418"/><rect x="121.6" y="594.75" width="2.6" height="2.8" fill="#2e2418"/><rect x="122.9" y="595.17" width="2.6" height="2.8" fill="#2e2418"/><rect x="124.2" y="594.36" width="2.6" height="2.8" fill="#2e2418"/><rect x="125.5" y="595.2" width="2.6" height="2.8" fill="#2e2418"/><rect x="126.8" y="595.09" width="2.6" height="2.8" fill="#4a6a30"/><rect x="128.1" y="595.75" width="2.6" height="2.8" fill="#2e2418"/><rect x="129.4" y="594.03" width="2.6" height="2.8" fill="#2e2418"/><rect x="130.7" y="594.38" width="2.6" height="2.8" fill="#2e2418"/><rect x="132" y="595.16" width="2.6" height="2.8" fill="#2e2418"/><rect x="133.3" y="595.16" width="2.6" height="2.8" fill="#2e2418"/><rect x="134.6" y="595.28" width="2.6" height="2.8" fill="#5a4a20"/><rect x="135.9" y="594.76" width="2.6" height="2.8" fill="#4a6a30"/><rect x="137.2" y="594.86" width="2.6" height="2.8" fill="#2e2418"/><rect x="138.5" y="595.06" width="2.6" height="2.8" fill="#2e2418"/><rect x="139.8" y="595.53" width="2.6" height="2.8" fill="#2e2418"/><rect x="141.1" y="595.2" width="2.6" height="2.8" fill="#2e2418"/><rect x="142.4" y="595.38" width="2.6" height="2.8" fill="#2e2418"/><rect x="143.7" y="594.64" width="2.6" height="2.8" fill="#2e2418"/><rect x="145" y="595.43" width="2.6" height="2.8" fill="#2e2418"/><rect x="146.3" y="595.58" width="2.6" height="2.8" fill="#2e2418"/><rect x="147.6" y="594.67" width="2.6" height="2.8" fill="#2e2418"/><rect x="148.9" y="594.53" width="2.6" height="2.8" fill="#2e2418"/><rect x="150.2" y="594.5" width="2.6" height="2.8" fill="#2e2418"/><rect x="151.5" y="594.61" width="2.6" height="2.8" fill="#2e2418"/><rect x="152.8" y="594.39" width="2.6" height="2.8" fill="#2e2418"/><rect x="154.1" y="594.58" width="2.6" height="2.8" fill="#2e2418"/><rect x="155.4" y="594.72" width="2.6" height="2.8" fill="#2e2418"/><rect x="156.7" y="595.38" width="2.6" height="2.8" fill="#2e2418"/><rect x="158" y="595.42" width="2.6" height="2.8" fill="#2e2418"/><rect x="159.3" y="595.2" width="2.6" height="2.8" fill="#2e2418"/><rect x="160.6" y="595" width="2.6" height="2.8" fill="#2e2418"/><rect x="161.9" y="594.38" width="2.6" height="2.8" fill="#2e2418"/><rect x="163.2" y="595.16" width="2.6" height="2.8" fill="#2e2418"/><rect x="164.5" y="595.19" width="2.6" height="2.8" fill="#2e2418"/><rect x="165.8" y="594.62" width="2.6" height="2.8" fill="#2e2418"/><rect x="167.1" y="595.32" width="2.6" height="2.8" fill="#2e2418"/><rect x="168.4" y="594.65" width="2.6" height="2.8" fill="#2e2418"/><rect x="169.7" y="594.6" width="2.6" height="2.8" fill="#2e2418"/><rect x="171" y="595.68" width="2.6" height="2.8" fill="#2e2418"/><rect x="172.3" y="595.2" width="2.6" height="2.8" fill="#2e2418"/><rect x="173.6" y="594.71" width="2.6" height="2.8" fill="#2e2418"/><rect x="174.9" y="595.74" width="2.6" height="2.8" fill="#2e2418"/><rect x="176.2" y="594.74" width="2.6" height="2.8" fill="#2e2418"/><rect x="177.5" y="595.16" width="2.6" height="2.8" fill="#2e2418"/><rect x="178.8" y="595.74" width="2.6" height="2.8" fill="#2e2418"/><rect x="180.1" y="595.44" width="2.6" height="2.8" fill="#2e2418"/><rect x="181.4" y="594.3" width="2.6" height="2.8" fill="#2e2418"/><rect x="182.7" y="594.88" width="2.6" height="2.8" fill="#2e2418"/><rect x="184" y="595" width="2.6" height="2.8" fill="#2e2418"/><rect x="185.3" y="595.11" width="2.6" height="2.8" fill="#2e2418"/><rect x="186.6" y="595.07" width="2.6" height="2.8" fill="#2e2418"/><rect x="187.9" y="594.85" width="2.6" height="2.8" fill="#4a6a30"/><rect x="189.2" y="595.27" width="2.6" height="2.8" fill="#2e2418"/><rect x="190.5" y="594.53" width="2.6" height="2.8" fill="#2e2418"/><rect x="191.8" y="594.54" width="2.6" height="2.8" fill="#2e2418"/><rect x="193.1" y="595.03" width="2.6" height="2.8" fill="#2e2418"/><rect x="194.4" y="594.29" width="2.6" height="2.8" fill="#2e2418"/><rect x="195.7" y="595.62" width="2.6" height="2.8" fill="#2e2418"/><rect x="197" y="594.1" width="2.6" height="2.8" fill="#2e2418"/><rect x="198.3" y="594.7" width="2.6" height="2.8" fill="#5a4a20"/><rect x="199.6" y="595" width="2.6" height="2.8" fill="#2e2418"/><rect x="200.9" y="595.13" width="2.6" height="2.8" fill="#2e2418"/><rect x="202.2" y="595.25" width="2.6" height="2.8" fill="#2e2418"/><rect x="203.5" y="594.68" width="2.6" height="2.8" fill="#2e2418"/><rect x="204.8" y="594.51" width="2.6" height="2.8" fill="#2e2418"/><rect x="206.1" y="594.85" width="2.6" height="2.8" fill="#2e2418"/><rect x="207.4" y="594.9" width="2.6" height="2.8" fill="#5a4a20"/><rect x="208.7" y="594.69" width="2.6" height="2.8" fill="#2e2418"/><rect x="210" y="595.36" width="2.6" height="2.8" fill="#2e2418"/><rect x="211.3" y="594.52" width="2.6" height="2.8" fill="#2e2418"/><rect x="212.6" y="594.59" width="2.6" height="2.8" fill="#2e2418"/><rect x="213.9" y="595.01" width="2.6" height="2.8" fill="#4a6a30"/><rect x="215.2" y="594.74" width="2.6" height="2.8" fill="#2e2418"/><rect x="216.5" y="594.76" width="2.6" height="2.8" fill="#2e2418"/><rect x="217.8" y="595.04" width="2.6" height="2.8" fill="#2e2418"/><rect x="219.1" y="595.25" width="2.6" height="2.8" fill="#2e2418"/><rect x="220.4" y="594.84" width="2.6" height="2.8" fill="#2e2418"/><rect x="221.7" y="595.01" width="2.6" height="2.8" fill="#4a6a30"/><rect x="223" y="595.23" width="2.6" height="2.8" fill="#2e2418"/><rect x="224.3" y="594.51" width="2.6" height="2.8" fill="#5a4a20"/><rect x="225.6" y="595.34" width="2.6" height="2.8" fill="#2e2418"/><rect x="226.9" y="595.11" width="2.6" height="2.8" fill="#2e2418"/><rect x="228.2" y="594.73" width="2.6" height="2.8" fill="#2e2418"/><rect x="229.5" y="594.81" width="2.6" height="2.8" fill="#2e2418"/><rect x="230.8" y="594.76" width="2.6" height="2.8" fill="#2e2418"/><rect x="232.1" y="594.83" width="2.6" height="2.8" fill="#2e2418"/><rect x="233.4" y="595.61" width="2.6" height="2.8" fill="#2e2418"/><rect x="234.7" y="594.63" width="2.6" height="2.8" fill="#2e2418"/><rect x="236" y="595.1" width="2.6" height="2.8" fill="#2e2418"/><rect x="237.3" y="594.59" width="2.6" height="2.8" fill="#2e2418"/><rect x="238.6" y="595.02" width="2.6" height="2.8" fill="#4a6a30"/><rect x="239.9" y="594.8" width="2.6" height="2.8" fill="#2e2418"/><rect x="241.2" y="594.95" width="2.6" height="2.8" fill="#2e2418"/><rect x="242.5" y="594.84" width="2.6" height="2.8" fill="#2e2418"/><rect x="243.8" y="595.16" width="2.6" height="2.8" fill="#2e2418"/><rect x="245.1" y="595.18" width="2.6" height="2.8" fill="#2e2418"/><rect x="246.4" y="594.46" width="2.6" height="2.8" fill="#2e2418"/><rect x="247.7" y="595" width="2.6" height="2.8" fill="#2e2418"/><rect x="249" y="594.93" width="2.6" height="2.8" fill="#2e2418"/><rect x="250.3" y="594.93" width="2.6" height="2.8" fill="#2e2418"/><rect x="251.6" y="595" width="2.6" height="2.8" fill="#5a4a20"/><rect x="252.9" y="594.54" width="2.6" height="2.8" fill="#2e2418"/><rect x="254.2" y="595.1" width="2.6" height="2.8" fill="#2e2418"/><rect x="255.5" y="594.95" width="2.6" height="2.8" fill="#4a6a30"/><rect x="256.8" y="594.4" width="2.6" height="2.8" fill="#2e2418"/><rect x="258.1" y="594.49" width="2.6" height="2.8" fill="#2e2418"/><rect x="259.4" y="594.65" width="2.6" height="2.8" fill="#5a4a20"/><rect x="260.7" y="595.06" width="2.6" height="2.8" fill="#2e2418"/><rect x="262" y="594.73" width="2.6" height="2.8" fill="#2e2418"/><rect x="263.3" y="595.83" width="2.6" height="2.8" fill="#2e2418"/><path d="M161 554.3l3 3m0 -3l-3 3M162.5 553.8v4M160.5 555.8h4" stroke="#3a9a6a" stroke-width="0.9"/><path d="M160.7 567.7l3 3m0 -3l-3 3M162.2 567.2v4M160.2 569.2h4" stroke="#3a9a6a" stroke-width="0.9"/><path d="M160.7 580.9l3 3m0 -3l-3 3M162.2 580.4v4M160.2 582.4h4" stroke="#3a9a6a" stroke-width="0.9"/><path d="M289 589.5l3 3m0 -3l-3 3M290.5 589.12v3.75M288.62 591h3.75" stroke="#9c9c26" stroke-width="1.1"/><path d="M291.5 586.5l3 3m0 -3l-3 3M293 586.12v3.75M291.12 588h3.75" stroke="#65c06d" stroke-width="1.1"/><path d="M294.5 584.5l3 3m0 -3l-3 3M296 584.12v3.75M294.12 586h3.75" stroke="#50d0a8" stroke-width="1.1"/><path d="M297.5 580.5l3 3m0 -3l-3 3M299 580.12v3.75M297.12 582h3.75" stroke="#58d8bc" stroke-width="1.1"/><path d="M300.5 576.5l3 3m0 -3l-3 3M302 576.12v3.75M300.12 578h3.75" stroke="#5dddc8" stroke-width="1.1"/><path d="M303.5 567.5l3 3m0 -3l-3 3M305 567.12v3.75M303.12 569h3.75" stroke="#58d8bc" stroke-width="1.1"/><path d="M299.5 597.5l3 3m0 -3l-3 3M301 597.12v3.75M299.12 599h3.75" stroke="#60e0d0" stroke-width="1.1"/><path d="M301.5 601.5l3 3m0 -3l-3 3M303 601.12v3.75M301.12 603h3.75" stroke="#5dddc8" stroke-width="1.1"/><path d="M304.5 607.5l3 3m0 -3l-3 3M306 607.12v3.75M304.12 609h3.75" stroke="#58d8bc" stroke-width="1.1"/><path d="M298.5 604.5l3 3m0 -3l-3 3M300 604.12v3.75M298.12 606h3.75" stroke="#5dddc8" stroke-width="1.1"/><path d="M294.5 613.5l3 3m0 -3l-3 3M296 613.12v3.75M294.12 615h3.75" stroke="#84eae4" stroke-width="1.1"/><path d="M337.5 616l3 3m0 -3l-3 3M339 615.62v3.75M337.12 617.5h3.75" stroke="#60e0d0" stroke-width="1.1"/><path d="M290.5 598.5l3 3m0 -3l-3 3M292 598.12v3.75M290.12 600h3.75" stroke="#60e0d0" stroke-width="1.1"/><path d="M333.5 589l3 3m0 -3l-3 3M335 588.62v3.75M333.12 590.5h3.75" stroke="#832754" stroke-width="1.1"/><path d="M335.1 588.82l3 3m0 -3l-3 3M336.6 588.45v3.75M334.72 590.32h3.75" stroke="#832754" stroke-width="1.1"/><path d="M336.7 588.57l3 3m0 -3l-3 3M338.2 588.2v3.75M336.33 590.07h3.75" stroke="#832754" stroke-width="1.1"/><path d="M338.3 588.5l3 3m0 -3l-3 3M339.8 588.13v3.75M337.93 590h3.75" stroke="#832754" stroke-width="1.1"/><path d="M339.9 589.55l3 3m0 -3l-3 3M341.4 589.17v3.75M339.53 591.05h3.75" stroke="#709637" stroke-width="1.1"/><path d="M341.5 590.08l3 3m0 -3l-3 3M343 589.71v3.75M341.13 591.58h3.75" stroke="#88771a" stroke-width="1.1"/><path d="M343.1 590.33l3 3m0 -3l-3 3M344.6 589.95v3.75M342.73 591.83h3.75" stroke="#709637" stroke-width="1.1"/><path d="M344.7 588.46l3 3m0 -3l-3 3M346.2 588.08v3.75M344.33 589.96h3.75" stroke="#5d9e4b" stroke-width="1.1"/><path d="M346.3 588.49l3 3m0 -3l-3 3M347.8 588.11v3.75M345.93 589.99h3.75" stroke="#6a983b" stroke-width="1.1"/><path d="M347.9 589.11l3 3m0 -3l-3 3M349.4 588.74v3.75M347.53 590.61h3.75" stroke="#828d28" stroke-width="1.1"/><path d="M349.5 589.59l3 3m0 -3l-3 3M351 589.22v3.75M349.13 591.09h3.75" stroke="#88771a" stroke-width="1.1"/><path d="M351.1 590.01l3 3m0 -3l-3 3M352.6 589.64v3.75M350.73 591.51h3.75" stroke="#838a24" stroke-width="1.1"/><path d="M352.7 589.66l3 3m0 -3l-3 3M354.2 589.28v3.75M352.33 591.16h3.75" stroke="#51a76b" stroke-width="1.1"/><path d="M354.3 588.74l3 3m0 -3l-3 3M355.8 588.36v3.75M353.93 590.24h3.75" stroke="#7b912e" stroke-width="1.1"/><path d="M355.9 589.83l3 3m0 -3l-3 3M357.4 589.46v3.75M355.53 591.33h3.75" stroke="#866424" stroke-width="1.1"/><path d="M357.5 589.61l3 3m0 -3l-3 3M359 589.24v3.75M357.13 591.11h3.75" stroke="#7e902b" stroke-width="1.1"/><path d="M359.1 590.2l3 3m0 -3l-3 3M360.6 589.83v3.75M358.73 591.7h3.75" stroke="#848823" stroke-width="1.1"/><path d="M360.7 589.89l3 3m0 -3l-3 3M362.2 589.51v3.75M360.33 591.39h3.75" stroke="#5aa052" stroke-width="1.1"/><path d="M362.3 590.98l3 3m0 -3l-3 3M363.8 590.6v3.75M361.93 592.48h3.75" stroke="#58a257" stroke-width="1.1"/><path d="M363.9 587.31l3 3m0 -3l-3 3M365.4 586.93v3.75M363.53 588.81h3.75" stroke="#838924" stroke-width="1.1"/><path d="M365.5 589.39l3 3m0 -3l-3 3M367 589.02v3.75M365.13 590.89h3.75" stroke="#5e9e49" stroke-width="1.1"/><path d="M367.1 589.52l3 3m0 -3l-3 3M368.6 589.14v3.75M366.73 591.02h3.75" stroke="#69983c" stroke-width="1.1"/><path d="M368.7 590.59l3 3m0 -3l-3 3M370.2 590.21v3.75M368.33 592.09h3.75" stroke="#828e28" stroke-width="1.1"/><path d="M370.3 589.78l3 3m0 -3l-3 3M371.8 589.41v3.75M369.93 591.28h3.75" stroke="#68993d" stroke-width="1.1"/><path d="M371.9 588.77l3 3m0 -3l-3 3M373.4 588.4v3.75M371.53 590.27h3.75" stroke="#848722" stroke-width="1.1"/><path d="M373.5 588.92l3 3m0 -3l-3 3M375 588.55v3.75M373.13 590.42h3.75" stroke="#828c26" stroke-width="1.1"/><path d="M375.1 589.61l3 3m0 -3l-3 3M376.6 589.24v3.75M374.73 591.11h3.75" stroke="#818e28" stroke-width="1.1"/><path d="M376.5 587.5l3 3m0 -3l-3 3M378 587.12v3.75M376.12 589h3.75" stroke="#83314b" stroke-width="1.1"/><path d="M378.5 583.5l3 3m0 -3l-3 3M380 583.12v3.75M378.12 585h3.75" stroke="#83314b" stroke-width="1.1"/><path d="M380.5 578.5l3 3m0 -3l-3 3M382 578.12v3.75M380.12 580h3.75" stroke="#83314b" stroke-width="1.1"/><path d="M382.5 574.5l3 3m0 -3l-3 3M384 574.12v3.75M382.12 576h3.75" stroke="#83314b" stroke-width="1.1"/><path d="M384.5 570.5l3 3m0 -3l-3 3M386 570.12v3.75M384.12 572h3.75" stroke="#83314b" stroke-width="1.1"/><path d="M386.5 568.5l3 3m0 -3l-3 3M388 568.12v3.75M386.12 570h3.75" stroke="#83314b" stroke-width="1.1"/><path d="M388.5 566.5l3 3m0 -3l-3 3M390 566.12v3.75M388.12 568h3.75" stroke="#83314b" stroke-width="1.1"/><path d="M390.5 565.5l3 3m0 -3l-3 3M392 565.12v3.75M390.12 567h3.75" stroke="#83314b" stroke-width="1.1"/><path d="M392.5 564.5l3 3m0 -3l-3 3M394 564.12v3.75M392.12 566h3.75" stroke="#83314b" stroke-width="1.1"/><path d="M394.5 561.5l3 3m0 -3l-3 3M396 561.12v3.75M394.12 563h3.75" stroke="#83314b" stroke-width="1.1"/><path d="M396.5 558.5l3 3m0 -3l-3 3M398 558.12v3.75M396.12 560h3.75" stroke="#83314b" stroke-width="1.1"/><path d="M397.5 556.5l3 3m0 -3l-3 3M399 556.12v3.75M397.12 558h3.75" stroke="#83314b" stroke-width="1.1"/><path d="M398.5 557.77l3 3m0 -3l-3 3M400 557.39v3.75M398.12 559.27h3.75" stroke="#7b274d" stroke-width="1.1"/><path d="M400.1 558.12l3 3m0 -3l-3 3M401.6 557.74v3.75M399.72 559.62h3.75" stroke="#7b4036" stroke-width="1.1"/><path d="M401.7 558.43l3 3m0 -3l-3 3M403.2 558.06v3.75M401.33 559.93h3.75" stroke="#7b254e" stroke-width="1.1"/><path d="M403.3 558.57l3 3m0 -3l-3 3M404.8 558.2v3.75M402.93 560.07h3.75" stroke="#7b2d48" stroke-width="1.1"/><path d="M404.9 557.15l3 3m0 -3l-3 3M406.4 556.78v3.75M404.53 558.65h3.75" stroke="#7b2c48" stroke-width="1.1"/><path d="M406.5 556.9l3 3m0 -3l-3 3M408 556.53v3.75M406.13 558.4h3.75" stroke="#7b383d" stroke-width="1.1"/><path d="M408.1 556.5l3 3m0 -3l-3 3M409.6 556.12v3.75M407.73 558h3.75" stroke="#7b1060" stroke-width="1.1"/><path d="M409.7 555.98l3 3m0 -3l-3 3M411.2 555.61v3.75M409.33 557.48h3.75" stroke="#7b4333" stroke-width="1.1"/><path d="M411.3 555.42l3 3m0 -3l-3 3M412.8 555.05v3.75M410.93 556.92h3.75" stroke="#7b3144" stroke-width="1.1"/><path d="M412.9 555.02l3 3m0 -3l-3 3M414.4 554.64v3.75M412.53 556.52h3.75" stroke="#7a8626" stroke-width="1.1"/><path d="M414.5 556.68l3 3m0 -3l-3 3M416 556.3v3.75M414.13 558.18h3.75" stroke="#7b482f" stroke-width="1.1"/><path d="M416.1 557.48l3 3m0 -3l-3 3M417.6 557.1v3.75M415.73 558.98h3.75" stroke="#7b135e" stroke-width="1.1"/><path d="M417.7 556.93l3 3m0 -3l-3 3M419.2 556.56v3.75M417.33 558.43h3.75" stroke="#7b2f46" stroke-width="1.1"/><path d="M419.3 556.84l3 3m0 -3l-3 3M420.8 556.46v3.75M418.93 558.34h3.75" stroke="#7b2251" stroke-width="1.1"/><path d="M420.9 557.5l3 3m0 -3l-3 3M422.4 557.13v3.75M420.53 559h3.75" stroke="#7c4d2c" stroke-width="1.1"/><path d="M422.5 557.7l3 3m0 -3l-3 3M424 557.32v3.75M422.13 559.2h3.75" stroke="#7b3b3a" stroke-width="1.1"/><path d="M424.1 558.12l3 3m0 -3l-3 3M425.6 557.75v3.75M423.73 559.62h3.75" stroke="#7b254e" stroke-width="1.1"/><path d="M425.7 557.99l3 3m0 -3l-3 3M427.2 557.62v3.75M425.33 559.49h3.75" stroke="#7b3b3a" stroke-width="1.1"/><path d="M427.3 556.97l3 3m0 -3l-3 3M428.8 556.6v3.75M426.93 558.47h3.75" stroke="#7b3540" stroke-width="1.1"/><path d="M428.9 556l3 3m0 -3l-3 3M430.4 555.63v3.75M428.53 557.5h3.75" stroke="#7b383d" stroke-width="1.1"/><path d="M430.5 556.32l3 3m0 -3l-3 3M432 555.95v3.75M430.13 557.82h3.75" stroke="#7c502a" stroke-width="1.1"/><path d="M432.1 556.49l3 3m0 -3l-3 3M433.6 556.11v3.75M431.73 557.99h3.75" stroke="#7b264e" stroke-width="1.1"/><path d="M433.7 556.53l3 3m0 -3l-3 3M435.2 556.15v3.75M433.33 558.03h3.75" stroke="#7b4135" stroke-width="1.1"/><path d="M435.3 555.86l3 3m0 -3l-3 3M436.8 555.49v3.75M434.93 557.36h3.75" stroke="#7b3144" stroke-width="1.1"/><path d="M436.9 557.33l3 3m0 -3l-3 3M438.4 556.95v3.75M436.53 558.83h3.75" stroke="#7b3d38" stroke-width="1.1"/><path d="M438.5 556.22l3 3m0 -3l-3 3M440 555.84v3.75M438.13 557.72h3.75" stroke="#7b254e" stroke-width="1.1"/><path d="M440.1 556.85l3 3m0 -3l-3 3M441.6 556.48v3.75M439.73 558.35h3.75" stroke="#7b2c48" stroke-width="1.1"/><path d="M441.7 558.18l3 3m0 -3l-3 3M443.2 557.81v3.75M441.33 559.68h3.75" stroke="#7b3243" stroke-width="1.1"/><path d="M443.3 557.93l3 3m0 -3l-3 3M444.8 557.55v3.75M442.93 559.43h3.75" stroke="#807118" stroke-width="1.1"/><path d="M444.9 557.69l3 3m0 -3l-3 3M446.4 557.32v3.75M444.53 559.19h3.75" stroke="#7b3a3b" stroke-width="1.1"/><path d="M446.5 557.43l3 3m0 -3l-3 3M448 557.05v3.75M446.13 558.93h3.75" stroke="#7b1f53" stroke-width="1.1"/><path d="M448.1 558.49l3 3m0 -3l-3 3M449.6 558.12v3.75M447.73 559.99h3.75" stroke="#7b4135" stroke-width="1.1"/><path d="M449.7 556.43l3 3m0 -3l-3 3M451.2 556.06v3.75M449.33 557.93h3.75" stroke="#7f771a" stroke-width="1.1"/><path d="M451.3 557.12l3 3m0 -3l-3 3M452.8 556.75v3.75M450.93 558.62h3.75" stroke="#7b3a3c" stroke-width="1.1"/><path d="M452.9 555.12l3 3m0 -3l-3 3M454.4 554.74v3.75M452.53 556.62h3.75" stroke="#7b1d55" stroke-width="1.1"/><path d="M454.5 555.91l3 3m0 -3l-3 3M456 555.54v3.75M454.13 557.41h3.75" stroke="#7b4036" stroke-width="1.1"/><path d="M456.1 555.65l3 3m0 -3l-3 3M457.6 555.28v3.75M455.73 557.15h3.75" stroke="#7b3144" stroke-width="1.1"/><path d="M457.7 555.51l3 3m0 -3l-3 3M459.2 555.14v3.75M457.33 557.01h3.75" stroke="#7b3342" stroke-width="1.1"/><path d="M459.3 555.83l3 3m0 -3l-3 3M460.8 555.46v3.75M458.93 557.33h3.75" stroke="#7b393c" stroke-width="1.1"/><path d="M460.9 557.95l3 3m0 -3l-3 3M462.4 557.57v3.75M460.53 559.45h3.75" stroke="#7a8626" stroke-width="1.1"/><path d="M462.5 557.63l3 3m0 -3l-3 3M464 557.26v3.75M462.13 559.13h3.75" stroke="#7b373f" stroke-width="1.1"/><path d="M464.1 558l3 3m0 -3l-3 3M465.6 557.63v3.75M463.73 559.5h3.75" stroke="#7b3640" stroke-width="1.1"/><path d="M465.7 558.58l3 3m0 -3l-3 3M467.2 558.2v3.75M465.33 560.08h3.75" stroke="#7b373e" stroke-width="1.1"/><path d="M467.3 559.26l3 3m0 -3l-3 3M468.8 558.89v3.75M466.93 560.76h3.75" stroke="#7b4333" stroke-width="1.1"/><path d="M468.9 558.98l3 3m0 -3l-3 3M470.4 558.6v3.75M468.53 560.48h3.75" stroke="#7b3540" stroke-width="1.1"/><path d="M470.5 556.67l3 3m0 -3l-3 3M472 556.29v3.75M470.13 558.17h3.75" stroke="#7b294b" stroke-width="1.1"/><path d="M472.1 557.12l3 3m0 -3l-3 3M473.6 556.74v3.75M471.73 558.62h3.75" stroke="#7b3f37" stroke-width="1.1"/><path d="M473.7 555.51l3 3m0 -3l-3 3M475.2 555.13v3.75M473.33 557.01h3.75" stroke="#7b155c" stroke-width="1.1"/><path d="M475.3 556.27l3 3m0 -3l-3 3M476.8 555.89v3.75M474.93 557.77h3.75" stroke="#7b3343" stroke-width="1.1"/><path d="M476.9 555.94l3 3m0 -3l-3 3M478.4 555.57v3.75M476.53 557.44h3.75" stroke="#7b4333" stroke-width="1.1"/><path d="M478.5 556.14l3 3m0 -3l-3 3M480 555.76v3.75M478.13 557.64h3.75" stroke="#7b3d39" stroke-width="1.1"/><path d="M480.1 557.2l3 3m0 -3l-3 3M481.6 556.82v3.75M479.73 558.7h3.75" stroke="#7b2251" stroke-width="1.1"/><path d="M481.7 557.64l3 3m0 -3l-3 3M483.2 557.27v3.75M481.33 559.14h3.75" stroke="#7b4333" stroke-width="1.1"/><path d="M483.3 557.33l3 3m0 -3l-3 3M484.8 556.95v3.75M482.93 558.83h3.75" stroke="#7b244f" stroke-width="1.1"/><path d="M484.9 558.66l3 3m0 -3l-3 3M486.4 558.28v3.75M484.53 560.16h3.75" stroke="#7b1060" stroke-width="1.1"/><path d="M486.5 558.04l3 3m0 -3l-3 3M488 557.66v3.75M486.13 559.54h3.75" stroke="#7b393c" stroke-width="1.1"/><path d="M488.1 557.94l3 3m0 -3l-3 3M489.6 557.56v3.75M487.73 559.44h3.75" stroke="#7b3d38" stroke-width="1.1"/><path d="M489.7 557.4l3 3m0 -3l-3 3M491.2 557.03v3.75M489.33 558.9h3.75" stroke="#7b244f" stroke-width="1.1"/><path d="M491.3 557.07l3 3m0 -3l-3 3M492.8 556.7v3.75M490.93 558.57h3.75" stroke="#7b363f" stroke-width="1.1"/><path d="M492.9 555.69l3 3m0 -3l-3 3M494.4 555.32v3.75M492.53 557.19h3.75" stroke="#7a8626" stroke-width="1.1"/><path d="M494.5 555.88l3 3m0 -3l-3 3M496 555.51v3.75M494.13 557.38h3.75" stroke="#7b1c55" stroke-width="1.1"/><path d="M496.1 556.2l3 3m0 -3l-3 3M497.6 555.83v3.75M495.73 557.7h3.75" stroke="#7b2052" stroke-width="1.1"/><path d="M497.7 557.07l3 3m0 -3l-3 3M499.2 556.7v3.75M497.33 558.57h3.75" stroke="#7b2251" stroke-width="1.1"/><path d="M499.3 556.27l3 3m0 -3l-3 3M500.8 555.9v3.75M498.93 557.77h3.75" stroke="#7b3640" stroke-width="1.1"/><path d="M500.9 556.78l3 3m0 -3l-3 3M502.4 556.41v3.75M500.53 558.28h3.75" stroke="#7b2f46" stroke-width="1.1"/><path d="M502.5 557.67l3 3m0 -3l-3 3M504 557.29v3.75M502.13 559.17h3.75" stroke="#7b3a3b" stroke-width="1.1"/><path d="M504.1 557.01l3 3m0 -3l-3 3M505.6 556.63v3.75M503.73 558.51h3.75" stroke="#7b3a3c" stroke-width="1.1"/><path d="M505.7 557.9l3 3m0 -3l-3 3M507.2 557.53v3.75M505.33 559.4h3.75" stroke="#7b3243" stroke-width="1.1"/><path stroke="#000" stroke-width="1.1" stroke-dasharray="1.2,1.4" d="M192.8 28.5V77.5"/><path stroke="#33cc33" stroke-width="1.1" stroke-dasharray="4,2" d="M132.5 28.5V77.5"/><path stroke="#ff00ff" stroke-width="1.1" stroke-dasharray="4,2" d="M156.5 28.5V77.5"/><path stroke="#33cc33" stroke-width="1.1" stroke-dasharray="4,2" d="M377.5 28.5V77.5"/><path stroke="#ff00ff" stroke-width="1.1" stroke-dasharray="4,2" d="M399.3 28.5V77.5"/><path stroke="#000" stroke-width="1.1" stroke-dasharray="1.2,1.4" d="M192.8 80V129"/><path stroke="#33cc33" stroke-width="1.1" stroke-dasharray="4,2" d="M132.5 80V129"/><path stroke="#ff00ff" stroke-width="1.1" stroke-dasharray="4,2" d="M156.5 80V129"/><path stroke="#33cc33" stroke-width="1.1" stroke-dasharray="4,2" d="M377.5 80V129"/><path stroke="#ff00ff" stroke-width="1.1" stroke-dasharray="4,2" d="M399.3 80V129"/><path stroke="#000" stroke-width="1.1" stroke-dasharray="1.2,1.4" d="M192.8 131.5V201"/><path stroke="#33cc33" stroke-width="1.1" stroke-dasharray="4,2" d="M132.5 131.5V201"/><path stroke="#ff00ff" stroke-width="1.1" stroke-dasharray="4,2" d="M156.5 131.5V201"/><path stroke="#000" stroke-width="1.1" stroke-dasharray="1.2,1.4" d="M192.8 231.5V300.5"/><path stroke="#33cc33" stroke-width="1.1" stroke-dasharray="4,2" d="M132.5 231.5V300.5"/><path stroke="#ff00ff" stroke-width="1.1" stroke-dasharray="4,2" d="M156.5 231.5V300.5"/><path stroke="#33cc33" stroke-width="1.1" stroke-dasharray="4,2" d="M377.5 231.5V300.5"/><path stroke="#ff00ff" stroke-width="1.1" stroke-dasharray="4,2" d="M399.3 231.5V300.5"/><path stroke="#000" stroke-width="1.1" stroke-dasharray="1.2,1.4" d="M192.8 303V352"/><path stroke="#33cc33" stroke-width="1.1" stroke-dasharray="4,2" d="M132.5 303V352"/><path stroke="#ff00ff" stroke-width="1.1" stroke-dasharray="4,2" d="M156.5 303V352"/><path stroke="#33cc33" stroke-width="1.1" stroke-dasharray="4,2" d="M377.5 303V352"/><path stroke="#ff00ff" stroke-width="1.1" stroke-dasharray="4,2" d="M399.3 303V352"/><path stroke="#000" stroke-width="1.1" stroke-dasharray="1.2,1.4" d="M192.8 354.5V423.5"/><path stroke="#33cc33" stroke-width="1.1" stroke-dasharray="4,2" d="M132.5 354.5V423.5"/><path stroke="#ff00ff" stroke-width="1.1" stroke-dasharray="4,2" d="M156.5 354.5V423.5"/><path stroke="#33cc33" stroke-width="1.1" stroke-dasharray="4,2" d="M377.5 354.5V423.5"/><path stroke="#ff00ff" stroke-width="1.1" stroke-dasharray="4,2" d="M399.3 354.5V423.5"/><path stroke="#000" stroke-width="1.1" stroke-dasharray="1.2,1.4" d="M192.8 446.5V495.5"/><path stroke="#33cc33" stroke-width="1.1" stroke-dasharray="4,2" d="M132.5 446.5V495.5"/><path stroke="#ff00ff" stroke-width="1.1" stroke-dasharray="4,2" d="M156.5 446.5V495.5"/><path stroke="#33cc33" stroke-width="1.1" stroke-dasharray="4,2" d="M377.5 446.5V495.5"/><path stroke="#ff00ff" stroke-width="1.1" stroke-dasharray="4,2" d="M399.3 446.5V495.5"/><path stroke="#000" stroke-width="1.1" stroke-dasharray="1.2,1.4" d="M192.8 498V547"/><path stroke="#33cc33" stroke-width="1.1" stroke-dasharray="4,2" d="M132.5 498V547"/><path stroke="#ff00ff" stroke-width="1.1" stroke-dasharray="4,2" d="M156.5 498V547"/><path stroke="#33cc33" stroke-width="1.1" stroke-dasharray="4,2" d="M377.5 498V547"/><path stroke="#ff00ff" stroke-width="1.1" stroke-dasharray="4,2" d="M399.3 498V547"/><path stroke="#000" stroke-width="1.1" stroke-dasharray="1.2,1.4" d="M192.8 549.5V618.5"/><path stroke="#33cc33" stroke-width="1.1" stroke-dasharray="4,2" d="M132.5 549.5V618.5"/><path stroke="#ff00ff" stroke-width="1.1" stroke-dasharray="4,2" d="M156.5 549.5V618.5"/><path stroke="#33cc33" stroke-width="1.1" stroke-dasharray="4,2" d="M377.5 549.5V618.5"/><path stroke="#ff00ff" stroke-width="1.1" stroke-dasharray="4,2" d="M399.3 549.5V618.5"/><rect x="47.5" y="28.5" width="218" height="49" fill="none" stroke="#262626" stroke-width="1"/><path stroke="#111" stroke-width="1.45" d="M47.5 28.5v5M47.5 77.5v-5M83.83 28.5v5M83.83 77.5v-5M120.17 28.5v5M120.17 77.5v-5M156.5 28.5v5M156.5 77.5v-5M192.83 28.5v5M192.83 77.5v-5M47.5 28.9h5M265.5 28.9h-5M47.5 53.2h5M265.5 53.2h-5M47.5 77.1h5M265.5 77.1h-5"/><rect x="290" y="28.5" width="218.5" height="49" fill="none" stroke="#262626" stroke-width="1"/><path stroke="#111" stroke-width="1.45" d="M290 28.5v5M290 77.5v-5M326.42 28.5v5M326.42 77.5v-5M362.83 28.5v5M362.83 77.5v-5M399.25 28.5v5M399.25 77.5v-5M290 35.8h5M508.5 35.8h-5M290 54.3h5M508.5 54.3h-5M290 71.7h5M508.5 71.7h-5"/><rect x="47.5" y="80" width="218" height="49" fill="none" stroke="#262626" stroke-width="1"/><path stroke="#111" stroke-width="1.45" d="M47.5 80v5M47.5 129v-5M83.83 80v5M83.83 129v-5M120.17 80v5M120.17 129v-5M156.5 80v5M156.5 129v-5M192.83 80v5M192.83 129v-5M229.17 80v5M229.17 129v-5M265.5 80v5M265.5 129v-5M47.5 97h5M265.5 97h-5M47.5 114h5M265.5 114h-5"/><rect x="290" y="80" width="218.5" height="49" fill="none" stroke="#262626" stroke-width="1"/><path stroke="#111" stroke-width="1.45" d="M290 80v5M290 129v-5M326.42 80v5M326.42 129v-5M362.83 80v5M362.83 129v-5M399.25 80v5M399.25 129v-5M435.67 80v5M435.67 129v-5M472.08 80v5M472.08 129v-5M508.5 80v5M508.5 129v-5M290 97h5M508.5 97h-5M290 114h5M508.5 114h-5"/><rect x="47.5" y="131.5" width="218" height="69.5" fill="none" stroke="#262626" stroke-width="1"/><path stroke="#111" stroke-width="1.45" d="M47.5 131.5v5M47.5 201v-5M83.83 131.5v5M83.83 201v-5M120.17 131.5v5M120.17 201v-5M156.5 131.5v5M156.5 201v-5M192.83 131.5v5M192.83 201v-5M229.17 131.5v5M229.17 201v-5M265.5 131.5v5M265.5 201v-5M47.5 135.5h5M265.5 135.5h-5M47.5 172.2h5M265.5 172.2h-5"/><rect x="47.5" y="231.5" width="218" height="69" fill="none" stroke="#262626" stroke-width="1"/><path stroke="#111" stroke-width="1.45" d="M47.5 231.5v5M47.5 300.5v-5M83.83 231.5v5M83.83 300.5v-5M120.17 231.5v5M120.17 300.5v-5M156.5 231.5v5M156.5 300.5v-5M192.83 231.5v5M192.83 300.5v-5M229.17 231.5v5M229.17 300.5v-5M265.5 231.5v5M265.5 300.5v-5M47.5 239.6h5M265.5 239.6h-5M47.5 261.6h5M265.5 261.6h-5M47.5 283.4h5M265.5 283.4h-5"/><rect x="47.5" y="303" width="218" height="49" fill="none" stroke="#262626" stroke-width="1"/><path stroke="#111" stroke-width="1.45" d="M47.5 303v5M47.5 352v-5M83.83 303v5M83.83 352v-5M120.17 303v5M120.17 352v-5M156.5 303v5M156.5 352v-5M192.83 303v5M192.83 352v-5M229.17 303v5M229.17 352v-5M265.5 303v5M265.5 352v-5M47.5 319h5M265.5 319h-5M47.5 336h5M265.5 336h-5"/><rect x="47.5" y="354.5" width="218" height="69" fill="none" stroke="#262626" stroke-width="1"/><path stroke="#111" stroke-width="1.45" d="M47.5 354.5v5M47.5 423.5v-5M83.83 354.5v5M83.83 423.5v-5M120.17 354.5v5M120.17 423.5v-5M156.5 354.5v5M156.5 423.5v-5M192.83 354.5v5M192.83 423.5v-5M229.17 354.5v5M229.17 423.5v-5M265.5 354.5v5M265.5 423.5v-5M47.5 361h5M265.5 361h-5M47.5 396.4h5M265.5 396.4h-5"/><rect x="47.5" y="498" width="218" height="49" fill="none" stroke="#262626" stroke-width="1"/><path stroke="#111" stroke-width="1.45" d="M47.5 498v5M47.5 547v-5M83.83 498v5M83.83 547v-5M120.17 498v5M120.17 547v-5M156.5 498v5M156.5 547v-5M192.83 498v5M192.83 547v-5M229.17 498v5M229.17 547v-5M265.5 498v5M265.5 547v-5M47.5 514h5M265.5 514h-5M47.5 531.5h5M265.5 531.5h-5"/><rect x="47.5" y="549.5" width="218" height="69" fill="none" stroke="#262626" stroke-width="1"/><path stroke="#111" stroke-width="1.45" d="M47.5 549.5v5M47.5 618.5v-5M83.83 549.5v5M83.83 618.5v-5M120.17 549.5v5M120.17 618.5v-5M156.5 549.5v5M156.5 618.5v-5M192.83 549.5v5M192.83 618.5v-5M229.17 549.5v5M229.17 618.5v-5M265.5 549.5v5M265.5 618.5v-5M47.5 572.6h5M265.5 572.6h-5M47.5 611.3h5M265.5 611.3h-5"/><rect x="290" y="231.5" width="218.5" height="69" fill="none" stroke="#262626" stroke-width="1"/><path stroke="#111" stroke-width="1.45" d="M290 231.5v5M290 300.5v-5M326.42 231.5v5M326.42 300.5v-5M362.83 231.5v5M362.83 300.5v-5M399.25 231.5v5M399.25 300.5v-5M435.67 231.5v5M435.67 300.5v-5M472.08 231.5v5M472.08 300.5v-5M508.5 231.5v5M508.5 300.5v-5M290 239.6h5M508.5 239.6h-5M290 261.6h5M508.5 261.6h-5M290 283.4h5M508.5 283.4h-5"/><rect x="290" y="303" width="218.5" height="49" fill="none" stroke="#262626" stroke-width="1"/><path stroke="#111" stroke-width="1.45" d="M290 303v5M290 352v-5M326.42 303v5M326.42 352v-5M362.83 303v5M362.83 352v-5M399.25 303v5M399.25 352v-5M435.67 303v5M435.67 352v-5M472.08 303v5M472.08 352v-5M508.5 303v5M508.5 352v-5M290 319h5M508.5 319h-5M290 336h5M508.5 336h-5"/><rect x="290" y="354.5" width="218.5" height="69" fill="none" stroke="#262626" stroke-width="1"/><path stroke="#111" stroke-width="1.45" d="M290 354.5v5M290 423.5v-5M326.42 354.5v5M326.42 423.5v-5M362.83 354.5v5M362.83 423.5v-5M399.25 354.5v5M399.25 423.5v-5M435.67 354.5v5M435.67 423.5v-5M472.08 354.5v5M472.08 423.5v-5M508.5 354.5v5M508.5 423.5v-5M290 361h5M508.5 361h-5M290 396.4h5M508.5 396.4h-5"/><rect x="290" y="498" width="218.5" height="49" fill="none" stroke="#262626" stroke-width="1"/><path stroke="#111" stroke-width="1.45" d="M290 498v5M290 547v-5M326.42 498v5M326.42 547v-5M362.83 498v5M362.83 547v-5M399.25 498v5M399.25 547v-5M435.67 498v5M435.67 547v-5M472.08 498v5M472.08 547v-5M508.5 498v5M508.5 547v-5M290 514h5M508.5 514h-5M290 531.5h5M508.5 531.5h-5"/><rect x="290" y="549.5" width="218.5" height="69" fill="none" stroke="#262626" stroke-width="1"/><path stroke="#111" stroke-width="1.45" d="M290 549.5v5M290 618.5v-5M326.42 549.5v5M326.42 618.5v-5M362.83 549.5v5M362.83 618.5v-5M399.25 549.5v5M399.25 618.5v-5M435.67 549.5v5M435.67 618.5v-5M472.08 549.5v5M472.08 618.5v-5M508.5 549.5v5M508.5 618.5v-5M290 572.6h5M508.5 572.6h-5M290 611.3h5M508.5 611.3h-5"/><rect x="47.5" y="446.5" width="218" height="49" fill="none" stroke="#262626" stroke-width="1"/><path stroke="#111" stroke-width="1.45" d="M47.5 446.5v5M47.5 495.5v-5M83.83 446.5v5M83.83 495.5v-5M120.17 446.5v5M120.17 495.5v-5M156.5 446.5v5M156.5 495.5v-5M192.83 446.5v5M192.83 495.5v-5M47.5 447h5M265.5 447h-5M47.5 471h5M265.5 471h-5M47.5 495.1h5M265.5 495.1h-5"/><rect x="290" y="446.5" width="218.5" height="49" fill="none" stroke="#262626" stroke-width="1"/><path stroke="#111" stroke-width="1.45" d="M290 446.5v5M290 495.5v-5M326.42 446.5v5M326.42 495.5v-5M362.83 446.5v5M362.83 495.5v-5M399.25 446.5v5M399.25 495.5v-5M290 447h5M508.5 447h-5M290 471.5h5M508.5 471.5h-5M290 495.8h5M508.5 495.8h-5"/><text x="41.7" y="32.2" font-size="9.06" text-anchor="end" textLength="5.6" lengthAdjust="spacingAndGlyphs">3</text><text x="41.7" y="56.6" font-size="9.06" text-anchor="end" textLength="5.6" lengthAdjust="spacingAndGlyphs">0</text><text x="41.7" y="81.6" font-size="9.06" text-anchor="end" textLength="12.97" lengthAdjust="spacingAndGlyphs">−3</text><text x="41.7" y="100.4" font-size="9.06" text-anchor="end" textLength="11.2" lengthAdjust="spacingAndGlyphs">10</text><text x="41.7" y="117.4" font-size="9.06" text-anchor="end" textLength="5.6" lengthAdjust="spacingAndGlyphs">5</text><text x="41.7" y="139" font-size="9.06" text-anchor="end" textLength="16.8" lengthAdjust="spacingAndGlyphs">300</text><text x="41.7" y="175.8" font-size="9.06" text-anchor="end" textLength="16.8" lengthAdjust="spacingAndGlyphs">250</text><text x="42.2" y="243.2" font-size="9.06" text-anchor="end" textLength="22.4" lengthAdjust="spacingAndGlyphs">1100</text><text x="42.2" y="265.4" font-size="9.06" text-anchor="end" textLength="22.4" lengthAdjust="spacingAndGlyphs">1000</text><text x="42.2" y="287" font-size="9.06" text-anchor="end" textLength="16.8" lengthAdjust="spacingAndGlyphs">900</text><text x="41.7" y="322.4" font-size="9.06" text-anchor="end" textLength="11.2" lengthAdjust="spacingAndGlyphs">10</text><text x="41.7" y="339.4" font-size="9.06" text-anchor="end" textLength="5.6" lengthAdjust="spacingAndGlyphs">5</text><text x="41.7" y="364.2" font-size="9.06" text-anchor="end" textLength="16.8" lengthAdjust="spacingAndGlyphs">300</text><text x="41.7" y="399.7" font-size="9.06" text-anchor="end" textLength="16.8" lengthAdjust="spacingAndGlyphs">250</text><text x="41.7" y="449.6" font-size="9.06" text-anchor="end" textLength="5.6" lengthAdjust="spacingAndGlyphs">5</text><text x="41.7" y="474.3" font-size="9.06" text-anchor="end" textLength="5.6" lengthAdjust="spacingAndGlyphs">0</text><text x="41.7" y="499.4" font-size="9.06" text-anchor="end" textLength="12.97" lengthAdjust="spacingAndGlyphs">−5</text><text x="41.7" y="517.4" font-size="9.06" text-anchor="end" textLength="11.2" lengthAdjust="spacingAndGlyphs">10</text><text x="41.7" y="535.4" font-size="9.06" text-anchor="end" textLength="5.6" lengthAdjust="spacingAndGlyphs">5</text><text x="41.7" y="576.1" font-size="9.06" text-anchor="end" textLength="16.8" lengthAdjust="spacingAndGlyphs">300</text><text x="41.7" y="614.7" font-size="9.06" text-anchor="end" textLength="16.8" lengthAdjust="spacingAndGlyphs">250</text><text x="83.83" y="631.4" font-size="9.17" text-anchor="middle" textLength="39.97" lengthAdjust="spacingAndGlyphs">07:21:30</text><text x="156.5" y="631.4" font-size="9.17" text-anchor="middle" textLength="39.97" lengthAdjust="spacingAndGlyphs">07:23:30</text><text x="229.17" y="631.4" font-size="9.17" text-anchor="middle" textLength="39.97" lengthAdjust="spacingAndGlyphs">07:25:30</text><text x="326.42" y="631.4" font-size="9.17" text-anchor="middle" textLength="39.97" lengthAdjust="spacingAndGlyphs">15:16:30</text><text x="399.25" y="631.4" font-size="9.17" text-anchor="middle" textLength="39.97" lengthAdjust="spacingAndGlyphs">15:18:30</text><text x="472.08" y="631.4" font-size="9.17" text-anchor="middle" textLength="39.97" lengthAdjust="spacingAndGlyphs">15:20:30</text><text x="156.5" y="645.2" font-size="9.17" text-anchor="middle" textLength="77.59" lengthAdjust="spacingAndGlyphs">Time [HH:MM:SS]</text><text x="399.3" y="645.2" font-size="9.17" text-anchor="middle" textLength="77.59" lengthAdjust="spacingAndGlyphs">Time [HH:MM:SS]</text><text x="11.6" y="55.1" font-size="9.06" text-anchor="middle" textLength="33.89" lengthAdjust="spacingAndGlyphs" transform="rotate(-90 11.6 55.1)">Seismic</text><text x="21.8" y="51.2" font-size="9.06" text-anchor="middle" textLength="60.18" lengthAdjust="spacingAndGlyphs" transform="rotate(-90 21.8 51.2)">velocity [m/s]</text><text x="12.4" y="106" font-size="9.06" text-anchor="middle" textLength="45.46" lengthAdjust="spacingAndGlyphs" transform="rotate(-90 12.4 106)">Frequency</text><text x="22.1" y="103.5" font-size="9.06" text-anchor="middle" textLength="18.1" lengthAdjust="spacingAndGlyphs" transform="rotate(-90 22.1 103.5)">[Hz]</text><text x="12.4" y="329" font-size="9.06" text-anchor="middle" textLength="45.46" lengthAdjust="spacingAndGlyphs" transform="rotate(-90 12.4 329)">Frequency</text><text x="22.1" y="326.5" font-size="9.06" text-anchor="middle" textLength="18.1" lengthAdjust="spacingAndGlyphs" transform="rotate(-90 22.1 326.5)">[Hz]</text><text x="12.4" y="524" font-size="9.06" text-anchor="middle" textLength="45.46" lengthAdjust="spacingAndGlyphs" transform="rotate(-90 12.4 524)">Frequency</text><text x="22.1" y="521.5" font-size="9.06" text-anchor="middle" textLength="18.1" lengthAdjust="spacingAndGlyphs" transform="rotate(-90 22.1 521.5)">[Hz]</text><text x="7" y="167.15" font-size="9.06" text-anchor="middle" textLength="21.36" lengthAdjust="spacingAndGlyphs" transform="rotate(-90 7 167.15)">Back</text><text x="17.3" y="164.65" font-size="9.06" text-anchor="middle" textLength="49.7" lengthAdjust="spacingAndGlyphs" transform="rotate(-90 17.3 164.65)">azimuth [°]</text><text x="7" y="389.9" font-size="9.06" text-anchor="middle" textLength="21.36" lengthAdjust="spacingAndGlyphs" transform="rotate(-90 7 389.9)">Back</text><text x="17.3" y="387.4" font-size="9.06" text-anchor="middle" textLength="49.7" lengthAdjust="spacingAndGlyphs" transform="rotate(-90 17.3 387.4)">azimuth [°]</text><text x="7" y="584.9" font-size="9.06" text-anchor="middle" textLength="21.36" lengthAdjust="spacingAndGlyphs" transform="rotate(-90 7 584.9)">Back</text><text x="17.3" y="582.4" font-size="9.06" text-anchor="middle" textLength="49.7" lengthAdjust="spacingAndGlyphs" transform="rotate(-90 17.3 582.4)">azimuth [°]</text><text x="11.3" y="266.3" font-size="9.06" text-anchor="middle" textLength="44.68" lengthAdjust="spacingAndGlyphs" transform="rotate(-90 11.3 266.3)">Offset [m]</text><text x="10.9" y="472.2" font-size="9.06" text-anchor="middle" textLength="37.58" lengthAdjust="spacingAndGlyphs" transform="rotate(-90 10.9 472.2)">Pressure</text><text x="20.4" y="469.7" font-size="9.06" text-anchor="middle" textLength="17.17" lengthAdjust="spacingAndGlyphs" transform="rotate(-90 20.4 469.7)">[Pa]</text><rect x="520.2" y="79.8" width="7.3" height="49.2" fill="url(#groma)" stroke="#333" stroke-width="0.8"/><path stroke="#111" stroke-width="1" d="M527.5 80.4h3.5M527.5 113.3h3.5"/><rect x="520.2" y="131.3" width="7.3" height="70.3" fill="url(#ghaw)" stroke="#333" stroke-width="0.8"/><path stroke="#111" stroke-width="1" d="M527.5 147.6h3.5M527.5 194.6h3.5"/><rect x="520.2" y="231.2" width="7.3" height="69.8" fill="url(#gbwr)" stroke="#333" stroke-width="0.8"/><path stroke="#111" stroke-width="1" d="M527.5 238.4h3.5M527.5 266h3.5M527.5 294.5h3.5"/><rect x="520.2" y="303.6" width="7.3" height="48.4" fill="url(#groma)" stroke="#333" stroke-width="0.8"/><path stroke="#111" stroke-width="1" d="M527.5 310.7h3.5M527.5 338.3h3.5"/><rect x="520.2" y="353.9" width="7.3" height="68.8" fill="url(#ghaw)" stroke="#333" stroke-width="0.8"/><path stroke="#111" stroke-width="1" d="M527.5 371.7h3.5M527.5 399.3h3.5"/><rect x="520.2" y="498.1" width="7.3" height="48.7" fill="url(#groma)" stroke="#333" stroke-width="0.8"/><path stroke="#111" stroke-width="1" d="M527.5 498.8h3.5M527.5 531.2h3.5"/><rect x="520.2" y="549.4" width="7.3" height="68.8" fill="url(#ghaw)" stroke="#333" stroke-width="0.8"/><path stroke="#111" stroke-width="1" d="M527.5 571.1h3.5M527.5 598.7h3.5"/><text x="537.5" y="83.8" font-size="9.06" textLength="18.57" lengthAdjust="spacingAndGlyphs">−40</text><text x="537.5" y="116.7" font-size="9.06" textLength="18.57" lengthAdjust="spacingAndGlyphs">−60</text><text x="537.5" y="151" font-size="9.06" textLength="14" lengthAdjust="spacingAndGlyphs">0.8</text><text x="537.5" y="198" font-size="9.06" textLength="14" lengthAdjust="spacingAndGlyphs">0.6</text><text x="537.5" y="241.8" font-size="9.06" textLength="14" lengthAdjust="spacingAndGlyphs">2.5</text><text x="537.5" y="269.4" font-size="9.06" textLength="14" lengthAdjust="spacingAndGlyphs">0.0</text><text x="537.5" y="297.9" font-size="9.06" textLength="21.37" lengthAdjust="spacingAndGlyphs">−2.5</text><text x="537.5" y="314.1" font-size="9.06" textLength="18.57" lengthAdjust="spacingAndGlyphs">−60</text><text x="537.5" y="341.7" font-size="9.06" textLength="18.57" lengthAdjust="spacingAndGlyphs">−80</text><text x="537.5" y="375.1" font-size="9.06" textLength="14" lengthAdjust="spacingAndGlyphs">0.8</text><text x="537.5" y="402.7" font-size="9.06" textLength="14" lengthAdjust="spacingAndGlyphs">0.7</text><text x="537.5" y="502.2" font-size="9.06" textLength="5.6" lengthAdjust="spacingAndGlyphs">0</text><text x="537.5" y="534.6" font-size="9.06" textLength="18.57" lengthAdjust="spacingAndGlyphs">−20</text><text x="537.5" y="574.5" font-size="9.06" textLength="14" lengthAdjust="spacingAndGlyphs">0.8</text><text x="537.5" y="602.1" font-size="9.06" textLength="14" lengthAdjust="spacingAndGlyphs">0.6</text><text x="502.8" y="227.4" font-size="9.06" fill="#222" textLength="23.99" lengthAdjust="spacingAndGlyphs">1e−8</text><text x="513.6" y="40.4" font-size="9.06" textLength="14" lengthAdjust="spacingAndGlyphs">2.5</text><text x="513.6" y="58" font-size="9.06" textLength="14" lengthAdjust="spacingAndGlyphs">0.0</text><text x="513.6" y="75.3" font-size="9.06" textLength="21.37" lengthAdjust="spacingAndGlyphs">−2.5</text><text x="513.6" y="450.3" font-size="9.06" textLength="11.2" lengthAdjust="spacingAndGlyphs">20</text><text x="513.6" y="474.9" font-size="9.06" textLength="5.6" lengthAdjust="spacingAndGlyphs">0</text><text x="513.6" y="499.9" font-size="9.06" textLength="18.57" lengthAdjust="spacingAndGlyphs">−20</text><text x="570.5" y="103.3" font-size="9.06" text-anchor="middle" textLength="11.62" lengthAdjust="spacingAndGlyphs" transform="rotate(-90 570.5 103.3)">dB</text><text x="565.2" y="166" font-size="9.06" text-anchor="middle" textLength="47.19" lengthAdjust="spacingAndGlyphs" transform="rotate(-90 565.2 166)">Coherence</text><text x="573" y="267" font-size="9.06" text-anchor="middle" textLength="47.12" lengthAdjust="spacingAndGlyphs" transform="rotate(-90 573 267)">Strain-rate</text><text x="583.5" y="264.3" font-size="9.06" text-anchor="middle" textLength="20.02" lengthAdjust="spacingAndGlyphs" transform="rotate(-90 583.5 264.3)">[1/s]</text><text x="570.5" y="328" font-size="9.06" text-anchor="middle" textLength="11.62" lengthAdjust="spacingAndGlyphs" transform="rotate(-90 570.5 328)">dB</text><text x="566.5" y="388.6" font-size="9.06" text-anchor="middle" textLength="47.19" lengthAdjust="spacingAndGlyphs" transform="rotate(-90 566.5 388.6)">Coherence</text><text x="570.5" y="522.5" font-size="9.06" text-anchor="middle" textLength="11.62" lengthAdjust="spacingAndGlyphs" transform="rotate(-90 570.5 522.5)">dB</text><text x="565.5" y="584" font-size="9.06" text-anchor="middle" textLength="47.19" lengthAdjust="spacingAndGlyphs" transform="rotate(-90 565.5 584)">Coherence</text><rect x="205.1" y="32.4" width="57.6" height="13.1" fill="#fff" stroke="#8a8a8a" stroke-width="0.9"/><text x="208.4" y="42.8" font-size="8.76" fill="#222" textLength="50.64" lengthAdjust="spacingAndGlyphs">Node T3 (Z)</text><rect x="458.6" y="32.6" width="41.8" height="12.9" fill="#fff" stroke="#8a8a8a" stroke-width="0.9"/><text x="462.5" y="42.9" font-size="8.76" fill="#222" textLength="33.69" lengthAdjust="spacingAndGlyphs">ROC (Z)</text><rect x="233" y="450.7" width="28.6" height="12.8" fill="#fff" stroke="#8a8a8a" stroke-width="0.9"/><text x="236.8" y="460.6" font-size="8.76" fill="#222" textLength="18.68" lengthAdjust="spacingAndGlyphs">MC5</text><rect x="476.4" y="450.7" width="28.6" height="12.8" fill="#fff" stroke="#8a8a8a" stroke-width="0.9"/><text x="480.2" y="460.6" font-size="8.76" fill="#222" textLength="18.68" lengthAdjust="spacingAndGlyphs">MC5</text><text x="217" y="250.4" font-size="9.27" fill="#111" textLength="42.27" lengthAdjust="spacingAndGlyphs" stroke="#fff" stroke-opacity=".75" stroke-width="1.6" paint-order="stroke">5e-06 1/s</text><text x="460" y="249.6" font-size="9.27" fill="#111" textLength="42.27" lengthAdjust="spacingAndGlyphs" stroke="#fff" stroke-opacity=".75" stroke-width="1.6" paint-order="stroke">2e-05 1/s</text><path stroke="#ff1414" stroke-width="2.4" d="M52.9 236.1v6.6M52.9 246v6.6M52.9 281.2v6.6M52.9 291.7v6.6"/><path stroke="#ff1414" stroke-width="2.4" d="M295.9 236.1v6.6M295.9 246v6.6M295.9 281.2v6.6M295.9 291.7v6.6"/><text x="56.6" y="242.9" font-size="9.79" fill="#ff1e1e" textLength="6.04" lengthAdjust="spacingAndGlyphs">4</text><text x="56.6" y="252.8" font-size="9.79" fill="#ff1e1e" textLength="6.04" lengthAdjust="spacingAndGlyphs">3</text><text x="56.6" y="288" font-size="9.79" fill="#ff1e1e" textLength="6.04" lengthAdjust="spacingAndGlyphs">2</text><text x="56.6" y="298.5" font-size="9.79" fill="#ff1e1e" textLength="6.04" lengthAdjust="spacingAndGlyphs">1</text><text x="53" y="264.6" font-size="7.73" font-weight="bold" textLength="42.25" lengthAdjust="spacingAndGlyphs">connector</text><text x="296.1" y="264.4" font-size="7.73" font-weight="bold" textLength="42.25" lengthAdjust="spacingAndGlyphs">connector</text><path stroke="#111" stroke-width="1" d="M47.5 261.6h4M290 261.6h4"/><text x="53" y="141.6" font-size="7.73" font-weight="bold" fill="#4f5fe8" textLength="39.31" lengthAdjust="spacingAndGlyphs">shoreline</text><text x="53" y="171.2" font-size="7.73" font-weight="bold" fill="#333" textLength="30.04" lengthAdjust="spacingAndGlyphs">craters</text><text x="53" y="367.2" font-size="7.73" font-weight="bold" fill="#4f5fe8" textLength="39.31" lengthAdjust="spacingAndGlyphs">shoreline</text><text x="53" y="388.6" font-size="7.73" font-weight="bold" fill="#333" textLength="30.04" lengthAdjust="spacingAndGlyphs">craters</text><text x="53" y="565.6" font-size="7.73" font-weight="bold" fill="#4f5fe8" textLength="39.31" lengthAdjust="spacingAndGlyphs">shoreline</text><text x="53" y="611.2" font-size="7.73" font-weight="bold" fill="#333" textLength="30.04" lengthAdjust="spacingAndGlyphs">craters</text><text x="193.5" y="187.2" font-size="7.31" fill="#111" textLength="52.88" lengthAdjust="spacingAndGlyphs">Window length</text><text x="195.7" y="410.3" font-size="7.31" fill="#111" textLength="52.88" lengthAdjust="spacingAndGlyphs">Window length</text><text x="196.5" y="605.7" font-size="7.31" fill="#111" textLength="52.88" lengthAdjust="spacingAndGlyphs">Window length</text><path d="M220 191.4h11 M220 191.4l2 -1.6M220 191.4l2 1.6M231 191.4l-2 -1.6M231 191.4l-2 1.6" stroke="#111" stroke-width="0.8" fill="none"/><path d="M217.4 414.2h12 M217.4 414.2l2 -1.6M217.4 414.2l2 1.6M229.4 414.2l-2 -1.6M229.4 414.2l-2 1.6" stroke="#111" stroke-width="0.8" fill="none"/><path d="M223.8 609.6h5 M223.8 609.6l2 -1.6M223.8 609.6l2 1.6M228.8 609.6l-2 -1.6M228.8 609.6l-2 1.6" stroke="#111" stroke-width="0.8" fill="none"/><text x="248.7" y="195.2" font-size="14.94" font-weight="bold" textLength="9.79" lengthAdjust="spacingAndGlyphs">a</text><text x="252.1" y="418.2" font-size="14.94" font-weight="bold" textLength="10.38" lengthAdjust="spacingAndGlyphs">b</text><text x="247.8" y="614" font-size="14.94" font-weight="bold" textLength="8.6" lengthAdjust="spacingAndGlyphs">c</text><text x="491" y="123.9" font-size="14.94" font-weight="bold" textLength="10.38" lengthAdjust="spacingAndGlyphs">d</text><text x="492.7" y="418.8" font-size="14.94" font-weight="bold" textLength="9.83" lengthAdjust="spacingAndGlyphs">e</text><text x="492.1" y="611.5" font-size="14.94" font-weight="bold" textLength="6.31" lengthAdjust="spacingAndGlyphs">f</text><text x="127.6" y="212.6" font-size="11" font-style="italic" fill="#44dd44">ts<tspan font-size="7.5" dy="2.2" font-style="normal">1</tspan></text><text x="151.6" y="212.6" font-size="11" font-style="italic" fill="#ff22ff">te<tspan font-size="7.5" dy="2.2" font-style="normal">1</tspan></text><text x="188.7" y="212.6" font-size="11" font-style="italic" fill="#111">Te<tspan font-size="7.5" dy="2.2" font-style="normal">1</tspan></text><text x="370.6" y="140.6" font-size="11" font-style="italic" fill="#44dd44">ts<tspan font-size="7.5" dy="2.2" font-style="normal">2</tspan></text><text x="392.6" y="140.6" font-size="11" font-style="italic" fill="#ff22ff">te<tspan font-size="7.5" dy="2.2" font-style="normal">2</tspan></text><rect x="576.6" y="104.2" width="107.8" height="94" fill="#fff" stroke="#777" stroke-width="1"/><rect x="576.6" y="330.5" width="107.8" height="93.7" fill="#fff" stroke="#777" stroke-width="1"/><rect x="576.6" y="524.7" width="107.8" height="93.3" fill="#fff" stroke="#777" stroke-width="1"/><text x="630.5" y="100.9" font-size="14.83" text-anchor="middle" font-weight="bold" textLength="33.93" lengthAdjust="spacingAndGlyphs">NNT</text><text x="630.3" y="327.3" font-size="14.83" text-anchor="middle" font-weight="bold" textLength="32.34" lengthAdjust="spacingAndGlyphs">DCT</text><text x="630.3" y="521.3" font-size="14.83" text-anchor="middle" font-weight="bold" textLength="32.07" lengthAdjust="spacingAndGlyphs">EAR</text><path d="M591 114.6L623 128L644 136L681 143M591 114.6L586.5 139.8L582.3 161.6L610 149L644 136" stroke="#888" stroke-width="1.8" stroke-dasharray="4.2,2.6" fill="none"/><path d="M591 110.6l3.8 6.4h-7.6z" fill="#f01010" stroke="#333" stroke-width="0.5"/><path d="M623 124l3.8 6.4h-7.6z" fill="#f01010" stroke="#333" stroke-width="0.5"/><path d="M644 132l3.8 6.4h-7.6z" fill="#f01010" stroke="#333" stroke-width="0.5"/><path d="M617.4 133.6l3.8 6.4h-7.6z" fill="#f01010" stroke="#333" stroke-width="0.5"/><path d="M586.5 135.8l3.8 6.4h-7.6z" fill="#f01010" stroke="#333" stroke-width="0.5"/><path d="M610 145l3.8 6.4h-7.6z" fill="#f01010" stroke="#333" stroke-width="0.5"/><path d="M582.3 157.6l3.8 6.4h-7.6z" fill="#f01010" stroke="#333" stroke-width="0.5"/><text x="590.3" y="113.8" font-size="12.57" textLength="15.21" lengthAdjust="spacingAndGlyphs">T3</text><text x="671.2" y="117" font-size="17" font-weight="bold" font-family="Liberation Serif, serif" style="font-family:'Liberation Serif',serif">g</text><text x="594.6" y="184.3" font-size="12.57" textLength="31.29" lengthAdjust="spacingAndGlyphs">50 m</text><path d="M591.7 189.5H619" stroke="#000" stroke-width="1.4"/><path d="M669.5 334.2L666 337L660 340.5L651.4 343.2M636.4 353.9L627.3 353.9M610.2 358.7L604.4 361.5L622.3 376.4M581.1 371.7L600 373L622.3 376.4M627.3 354L623.3 369.3L623.3 374M626.3 390.4L636.5 396.5M654.5 406.1L666 413L676.6 420.6" stroke="#888" stroke-width="1.8" stroke-dasharray="4.2,2.6" fill="none"/><path d="M651.4 343.2L646 347.5L642 348.5L639 351.5L636.4 353.9M627.3 353.9L620 356L610.2 358.7M623.3 374L623.8 382L625 388L626.3 390.4M636.5 396.5L642 400.5L648 404L654.5 406.1" stroke="#ff1a1a" stroke-width="2.4" fill="none"/><text x="641" y="344.1" font-size="11.85" text-anchor="middle" font-weight="bold" fill="#ff1a1a" textLength="8" lengthAdjust="spacingAndGlyphs">1</text><text x="617" y="353.9" font-size="11.85" text-anchor="middle" font-weight="bold" fill="#ff1a1a" textLength="8" lengthAdjust="spacingAndGlyphs">2</text><text x="631.6" y="380.3" font-size="11.85" text-anchor="middle" font-weight="bold" fill="#ff1a1a" textLength="8" lengthAdjust="spacingAndGlyphs">3</text><text x="645.6" y="397.1" font-size="11.85" text-anchor="middle" font-weight="bold" fill="#ff1a1a" textLength="8" lengthAdjust="spacingAndGlyphs">4</text><text x="672.7" y="346.8" font-size="14.63" font-weight="bold" textLength="10.11" lengthAdjust="spacingAndGlyphs">h</text><text x="655.3" y="379.6" font-size="10.71" textLength="26.67" lengthAdjust="spacingAndGlyphs">50 m</text><path d="M644.8 381H680.2" stroke="#000" stroke-width="1.4"/><path d="M621 540L600 590M627 540L647 575M603 592.5L645 582" stroke="#ee1c1c" stroke-width="1.9" stroke-dasharray="4.4,2.6" fill="none"/><path d="M623.3 527l6.6 6.6l-6.6 6.6l-6.6 -6.6z" fill="#fff" stroke="#111" stroke-width="0.9"/><path d="M597.2 588.3l6.6 6.6l-6.6 6.6l-6.6 -6.6z" fill="#fff" stroke="#111" stroke-width="0.9"/><path d="M645 576.2h9l-4.5 7.8z" fill="#fff" stroke="#111" stroke-width="0.9"/><text x="588" y="537.8" font-size="12.36" textLength="26.37" lengthAdjust="spacingAndGlyphs">MC5</text><text x="654" y="576.2" font-size="12.36" textLength="23.29" lengthAdjust="spacingAndGlyphs">STR</text><text x="576.3" y="613.7" font-size="12.36" textLength="26.37" lengthAdjust="spacingAndGlyphs">MC1</text><text x="623.2" y="607.2" font-size="12.57" textLength="39.05" lengthAdjust="spacingAndGlyphs">200 m</text><path d="M615.9 613.6H663.9" stroke="#000" stroke-width="1.4"/><text x="674.6" y="540.6" font-size="15.24" font-weight="bold" textLength="5.07" lengthAdjust="spacingAndGlyphs">i</text></svg></body></html>
